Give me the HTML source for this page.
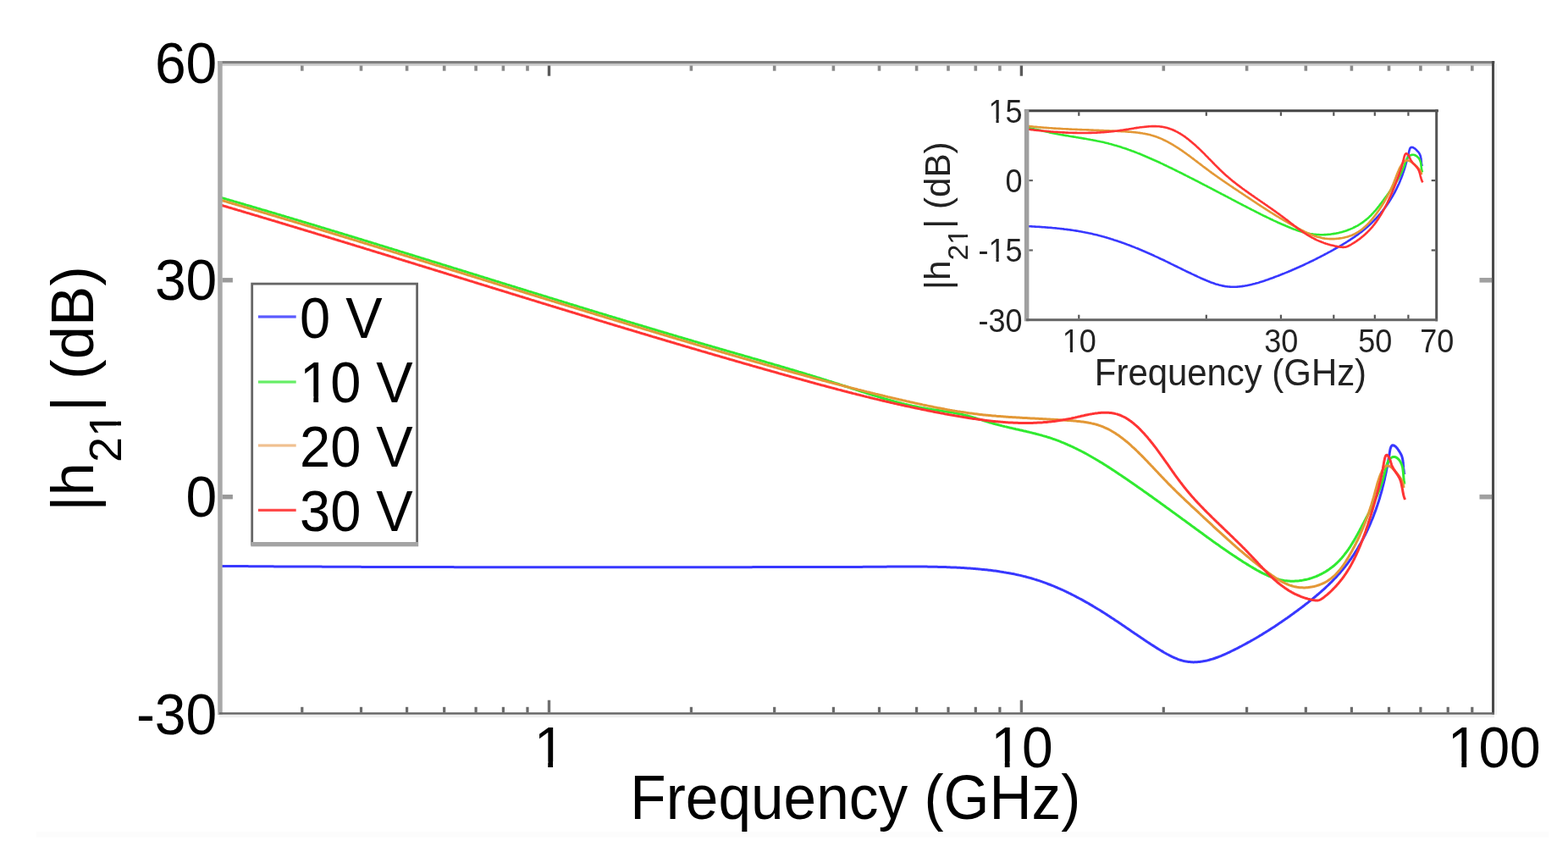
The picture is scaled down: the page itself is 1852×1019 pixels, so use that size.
<!DOCTYPE html>
<html><head><meta charset="utf-8"><title>h21 vs Frequency</title>
<style>html,body{margin:0;padding:0;background:#fff;overflow:hidden}svg{display:block}</style>
</head><body>
<svg width="1852" height="1019" viewBox="0 0 1852 1019"><rect x="0" y="0" width="1852" height="1019" fill="#fff"/>
<rect x="43" y="982" width="1786" height="6.5" fill="#fcfcfc"/>
<defs><clipPath id="cm"><rect x="260" y="75" width="1503.5" height="767.5"/></clipPath><clipPath id="ci"><rect x="1212.6" y="130.8" width="484.1" height="247"/></clipPath></defs>
<path d="M258.0 668.4 L259.5 668.4 L261.0 668.4 L262.5 668.4 L264.0 668.4 L265.5 668.5 L267.0 668.5 L268.5 668.5 L270.0 668.5 L271.5 668.5 L273.0 668.5 L274.5 668.5 L276.0 668.5 L277.5 668.5 L279.0 668.6 L280.5 668.6 L282.0 668.6 L283.5 668.6 L285.0 668.6 L286.5 668.6 L288.0 668.6 L289.5 668.6 L291.0 668.6 L292.5 668.6 L294.0 668.7 L295.5 668.7 L297.0 668.7 L298.5 668.7 L300.0 668.7 L301.5 668.7 L303.0 668.7 L304.5 668.7 L306.0 668.7 L307.5 668.7 L309.0 668.8 L310.5 668.8 L312.0 668.8 L313.5 668.8 L315.0 668.8 L316.5 668.8 L318.0 668.8 L319.5 668.8 L321.0 668.8 L322.5 668.8 L324.0 668.9 L325.5 668.9 L327.0 668.9 L328.5 668.9 L330.0 668.9 L331.5 668.9 L333.0 668.9 L334.5 668.9 L336.0 668.9 L337.5 668.9 L339.0 668.9 L340.5 668.9 L342.0 669.0 L343.5 669.0 L345.0 669.0 L346.5 669.0 L348.0 669.0 L349.5 669.0 L351.0 669.0 L352.5 669.0 L354.0 669.0 L355.5 669.0 L357.0 669.0 L358.5 669.0 L360.0 669.1 L361.5 669.1 L363.0 669.1 L364.5 669.1 L366.0 669.1 L367.5 669.1 L369.0 669.1 L370.5 669.1 L372.0 669.1 L373.5 669.1 L375.0 669.1 L376.5 669.1 L378.0 669.1 L379.5 669.1 L381.0 669.2 L382.5 669.2 L384.0 669.2 L385.5 669.2 L387.0 669.2 L388.5 669.2 L390.0 669.2 L391.5 669.2 L393.0 669.2 L394.5 669.2 L395.9 669.2 L397.4 669.2 L398.9 669.2 L400.4 669.2 L401.9 669.3 L403.4 669.3 L404.9 669.3 L406.4 669.3 L407.9 669.3 L409.4 669.3 L410.9 669.3 L412.4 669.3 L413.9 669.3 L415.4 669.3 L416.9 669.3 L418.4 669.3 L419.9 669.3 L421.4 669.3 L422.9 669.3 L424.4 669.3 L425.9 669.3 L427.4 669.4 L428.9 669.4 L430.4 669.4 L431.9 669.4 L433.4 669.4 L434.9 669.4 L436.4 669.4 L437.9 669.4 L439.4 669.4 L440.9 669.4 L442.4 669.4 L443.9 669.4 L445.4 669.4 L446.9 669.4 L448.4 669.4 L449.9 669.4 L451.4 669.4 L452.9 669.4 L454.4 669.4 L455.9 669.5 L457.4 669.5 L458.9 669.5 L460.4 669.5 L461.9 669.5 L463.4 669.5 L464.9 669.5 L466.4 669.5 L467.9 669.5 L469.4 669.5 L470.9 669.5 L472.4 669.5 L473.9 669.5 L475.4 669.5 L476.9 669.5 L478.4 669.5 L479.9 669.5 L481.4 669.5 L482.9 669.5 L484.4 669.5 L485.9 669.5 L487.4 669.5 L488.9 669.5 L490.4 669.6 L491.9 669.6 L493.4 669.6 L494.9 669.6 L496.4 669.6 L497.9 669.6 L499.4 669.6 L500.9 669.6 L502.4 669.6 L503.9 669.6 L505.4 669.6 L506.9 669.6 L508.4 669.6 L509.9 669.6 L511.4 669.6 L512.9 669.6 L514.4 669.6 L515.9 669.6 L517.4 669.6 L518.9 669.6 L520.4 669.6 L521.9 669.6 L523.4 669.6 L524.9 669.6 L526.4 669.6 L527.9 669.6 L529.4 669.6 L530.9 669.6 L532.4 669.6 L533.9 669.6 L535.4 669.6 L536.9 669.7 L538.4 669.7 L539.9 669.7 L541.4 669.7 L542.9 669.7 L544.4 669.7 L545.9 669.7 L547.4 669.7 L548.9 669.7 L550.4 669.7 L551.9 669.7 L553.4 669.7 L554.9 669.7 L556.4 669.7 L557.9 669.7 L559.4 669.7 L560.9 669.7 L562.4 669.7 L563.9 669.7 L565.4 669.7 L566.9 669.7 L568.4 669.7 L569.9 669.7 L571.4 669.7 L572.9 669.7 L574.4 669.7 L575.9 669.7 L577.4 669.7 L578.9 669.7 L580.4 669.7 L581.9 669.7 L583.4 669.7 L584.9 669.7 L586.4 669.7 L587.9 669.7 L589.4 669.7 L590.9 669.7 L592.4 669.7 L593.9 669.7 L595.4 669.7 L596.9 669.7 L598.4 669.7 L599.9 669.7 L601.4 669.7 L602.9 669.7 L604.4 669.7 L605.9 669.7 L607.4 669.7 L608.9 669.7 L610.4 669.7 L611.9 669.7 L613.4 669.7 L614.9 669.7 L616.4 669.7 L617.9 669.7 L619.4 669.7 L620.9 669.8 L622.4 669.8 L623.9 669.8 L625.4 669.8 L626.9 669.8 L628.4 669.8 L629.9 669.8 L631.4 669.8 L632.9 669.8 L634.4 669.8 L635.9 669.8 L637.4 669.8 L638.9 669.8 L640.4 669.8 L641.9 669.8 L643.4 669.8 L644.9 669.8 L646.4 669.8 L647.9 669.8 L649.4 669.8 L650.9 669.8 L652.4 669.8 L653.9 669.8 L655.4 669.8 L656.9 669.8 L658.4 669.8 L659.9 669.8 L661.4 669.8 L662.9 669.8 L664.4 669.8 L665.9 669.8 L667.4 669.8 L668.9 669.8 L670.4 669.8 L671.8 669.8 L673.3 669.8 L674.8 669.8 L676.3 669.8 L677.8 669.8 L679.3 669.8 L680.8 669.8 L682.3 669.8 L683.8 669.8 L685.3 669.8 L686.8 669.8 L688.3 669.8 L689.8 669.8 L691.3 669.8 L692.8 669.8 L694.3 669.8 L695.8 669.8 L697.3 669.8 L698.8 669.8 L700.3 669.8 L701.8 669.8 L703.3 669.8 L704.8 669.8 L706.3 669.8 L707.8 669.8 L709.3 669.8 L710.8 669.8 L712.3 669.8 L713.8 669.8 L715.3 669.8 L716.8 669.8 L718.3 669.8 L719.8 669.8 L721.3 669.8 L722.8 669.8 L724.3 669.8 L725.8 669.8 L727.3 669.8 L728.8 669.8 L730.3 669.8 L731.8 669.8 L733.3 669.8 L734.8 669.8 L736.3 669.8 L737.8 669.8 L739.3 669.8 L740.8 669.8 L742.3 669.8 L743.8 669.8 L745.3 669.8 L746.8 669.8 L748.3 669.8 L749.8 669.8 L751.3 669.8 L752.8 669.8 L754.3 669.8 L755.8 669.8 L757.3 669.7 L758.8 669.7 L760.3 669.7 L761.8 669.7 L763.3 669.7 L764.8 669.7 L766.3 669.7 L767.8 669.7 L769.3 669.7 L770.8 669.7 L772.3 669.7 L773.8 669.7 L775.3 669.7 L776.8 669.7 L778.3 669.7 L779.8 669.7 L781.3 669.7 L782.8 669.7 L784.3 669.7 L785.8 669.7 L787.3 669.7 L788.8 669.7 L790.3 669.7 L791.8 669.7 L793.3 669.7 L794.8 669.7 L796.3 669.7 L797.8 669.7 L799.3 669.7 L800.8 669.7 L802.3 669.7 L803.8 669.7 L805.3 669.7 L806.8 669.7 L808.3 669.7 L809.8 669.7 L811.3 669.7 L812.8 669.7 L814.3 669.7 L815.8 669.7 L817.3 669.7 L818.8 669.7 L820.3 669.7 L821.8 669.7 L823.3 669.7 L824.8 669.7 L826.3 669.7 L827.8 669.7 L829.3 669.7 L830.8 669.7 L832.3 669.7 L833.8 669.7 L835.3 669.7 L836.8 669.7 L838.3 669.7 L839.8 669.7 L841.3 669.7 L842.8 669.7 L844.3 669.7 L845.8 669.7 L847.3 669.7 L848.8 669.7 L850.3 669.7 L851.8 669.7 L853.3 669.7 L854.8 669.7 L856.3 669.7 L857.8 669.7 L859.3 669.7 L860.8 669.7 L862.3 669.7 L863.8 669.7 L865.3 669.7 L866.8 669.7 L868.3 669.7 L869.8 669.7 L871.3 669.7 L872.8 669.7 L874.3 669.7 L875.8 669.7 L877.3 669.7 L878.8 669.7 L880.3 669.7 L881.8 669.7 L883.3 669.7 L884.8 669.7 L886.3 669.7 L887.8 669.7 L889.3 669.6 L890.8 669.6 L892.3 669.6 L893.8 669.6 L895.3 669.6 L896.8 669.6 L898.3 669.6 L899.8 669.6 L901.3 669.6 L902.8 669.6 L904.3 669.6 L905.8 669.6 L907.3 669.6 L908.8 669.6 L910.3 669.6 L911.8 669.6 L913.3 669.6 L914.8 669.6 L916.3 669.6 L917.8 669.6 L919.3 669.6 L920.8 669.6 L922.3 669.6 L923.8 669.6 L925.3 669.6 L926.8 669.6 L928.3 669.6 L929.8 669.6 L931.3 669.6 L932.8 669.6 L934.3 669.6 L935.8 669.6 L937.3 669.6 L938.8 669.6 L940.3 669.6 L941.8 669.6 L943.3 669.6 L944.8 669.6 L946.3 669.6 L947.8 669.6 L949.3 669.6 L950.8 669.6 L952.3 669.6 L953.8 669.6 L955.3 669.6 L956.8 669.6 L958.3 669.6 L959.8 669.6 L961.3 669.6 L962.8 669.6 L964.3 669.6 L965.8 669.6 L967.3 669.5 L968.7 669.5 L970.2 669.5 L971.7 669.5 L973.2 669.5 L974.7 669.5 L976.2 669.5 L977.7 669.5 L979.2 669.5 L980.7 669.5 L982.2 669.5 L983.7 669.5 L985.2 669.5 L986.7 669.5 L988.2 669.5 L989.7 669.5 L991.2 669.5 L992.7 669.5 L994.2 669.5 L995.7 669.5 L997.2 669.5 L998.7 669.4 L1000.2 669.4 L1001.7 669.4 L1003.2 669.4 L1004.7 669.4 L1006.2 669.4 L1007.7 669.4 L1009.2 669.4 L1010.7 669.4 L1012.2 669.4 L1013.7 669.4 L1015.2 669.4 L1016.7 669.4 L1018.2 669.4 L1019.7 669.3 L1021.2 669.3 L1022.7 669.3 L1024.2 669.3 L1025.7 669.3 L1027.2 669.3 L1028.7 669.3 L1030.2 669.3 L1031.7 669.3 L1033.2 669.3 L1034.7 669.2 L1036.2 669.2 L1037.7 669.2 L1039.2 669.2 L1040.7 669.2 L1042.2 669.2 L1043.7 669.2 L1045.2 669.2 L1046.7 669.2 L1048.2 669.1 L1049.7 669.1 L1051.2 669.1 L1052.7 669.1 L1054.2 669.1 L1055.7 669.1 L1057.2 669.1 L1058.7 669.1 L1060.2 669.1 L1061.7 669.1 L1063.2 669.1 L1064.7 669.0 L1066.2 669.0 L1067.7 669.0 L1069.2 669.0 L1070.7 669.0 L1072.2 669.0 L1073.7 669.0 L1075.2 669.0 L1076.7 669.0 L1078.2 669.0 L1079.7 669.0 L1081.2 669.0 L1082.7 669.0 L1084.2 669.0 L1085.7 669.1 L1087.2 669.1 L1088.7 669.1 L1090.2 669.1 L1091.7 669.1 L1093.2 669.1 L1094.7 669.1 L1096.2 669.2 L1097.7 669.2 L1099.2 669.2 L1100.7 669.2 L1102.2 669.2 L1103.7 669.3 L1105.2 669.3 L1106.7 669.3 L1108.2 669.4 L1109.7 669.4 L1111.2 669.5 L1112.7 669.5 L1114.2 669.5 L1115.7 669.6 L1117.2 669.6 L1118.7 669.7 L1120.2 669.7 L1121.7 669.8 L1123.2 669.9 L1124.7 669.9 L1126.2 670.0 L1127.7 670.0 L1129.2 670.1 L1130.7 670.2 L1132.2 670.3 L1133.7 670.3 L1135.2 670.4 L1136.7 670.5 L1138.2 670.6 L1139.7 670.7 L1141.2 670.8 L1142.7 670.9 L1144.2 671.0 L1145.7 671.1 L1147.2 671.2 L1148.6 671.3 L1150.1 671.4 L1151.6 671.5 L1153.1 671.7 L1154.6 671.8 L1156.1 671.9 L1157.6 672.1 L1159.1 672.2 L1160.6 672.4 L1162.1 672.5 L1163.6 672.7 L1165.1 672.8 L1166.6 673.0 L1168.1 673.2 L1169.6 673.3 L1171.1 673.5 L1172.5 673.7 L1174.0 673.9 L1175.5 674.1 L1177.0 674.3 L1178.5 674.5 L1180.0 674.7 L1181.4 675.0 L1182.9 675.2 L1184.4 675.4 L1185.9 675.7 L1187.4 675.9 L1188.8 676.2 L1190.3 676.4 L1191.8 676.7 L1193.3 677.0 L1194.7 677.3 L1196.2 677.5 L1197.7 677.8 L1199.1 678.1 L1200.6 678.5 L1202.0 678.8 L1203.5 679.1 L1204.9 679.4 L1206.4 679.8 L1207.9 680.1 L1209.3 680.5 L1210.8 680.8 L1212.2 681.2 L1213.6 681.6 L1215.1 682.0 L1216.5 682.4 L1218.0 682.8 L1219.4 683.2 L1220.8 683.6 L1222.3 684.1 L1223.7 684.5 L1225.1 685.0 L1226.5 685.4 L1228.0 685.9 L1229.4 686.4 L1230.8 686.9 L1232.2 687.4 L1233.6 687.9 L1235.0 688.4 L1236.4 688.9 L1237.8 689.5 L1239.2 690.0 L1240.6 690.5 L1242.0 691.1 L1243.4 691.7 L1244.8 692.2 L1246.2 692.8 L1247.6 693.4 L1249.0 694.0 L1250.3 694.6 L1251.7 695.2 L1253.1 695.8 L1254.5 696.4 L1255.8 697.0 L1257.2 697.7 L1258.6 698.3 L1259.9 699.0 L1261.3 699.6 L1262.6 700.3 L1264.0 700.9 L1265.3 701.6 L1266.7 702.3 L1268.0 703.0 L1269.4 703.7 L1270.7 704.4 L1272.0 705.1 L1273.4 705.8 L1274.7 706.5 L1276.0 707.2 L1277.4 707.9 L1278.7 708.6 L1280.0 709.4 L1281.3 710.1 L1282.6 710.9 L1284.0 711.6 L1285.3 712.3 L1286.6 713.1 L1287.9 713.9 L1289.2 714.6 L1290.5 715.4 L1291.8 716.2 L1293.1 716.9 L1294.3 717.7 L1295.6 718.5 L1296.9 719.3 L1298.2 720.0 L1299.5 720.8 L1300.7 721.6 L1302.0 722.4 L1303.3 723.2 L1304.6 724.0 L1305.8 724.8 L1307.1 725.6 L1308.3 726.4 L1309.6 727.3 L1310.8 728.1 L1312.1 728.9 L1313.3 729.7 L1314.6 730.5 L1315.8 731.3 L1317.0 732.2 L1318.3 733.0 L1319.5 733.8 L1320.7 734.6 L1322.0 735.5 L1323.2 736.3 L1324.4 737.1 L1325.6 737.9 L1326.9 738.8 L1328.1 739.6 L1329.3 740.4 L1330.5 741.3 L1331.7 742.1 L1333.0 742.9 L1334.2 743.8 L1335.4 744.6 L1336.6 745.5 L1337.8 746.3 L1339.1 747.1 L1340.3 748.0 L1341.5 748.8 L1342.7 749.6 L1344.0 750.5 L1345.2 751.3 L1346.4 752.1 L1347.7 753.0 L1348.9 753.8 L1350.1 754.6 L1351.4 755.5 L1352.6 756.3 L1353.9 757.1 L1355.1 758.0 L1356.4 758.8 L1357.7 759.6 L1358.9 760.4 L1360.2 761.3 L1361.5 762.1 L1362.8 762.9 L1364.1 763.7 L1365.4 764.6 L1366.7 765.4 L1368.0 766.2 L1369.3 767.0 L1370.6 767.8 L1372.0 768.6 L1373.3 769.4 L1374.6 770.2 L1376.0 771.0 L1377.3 771.7 L1378.7 772.5 L1380.1 773.2 L1381.4 773.9 L1382.8 774.6 L1384.2 775.3 L1385.6 776.0 L1387.0 776.6 L1388.3 777.2 L1389.7 777.7 L1391.1 778.3 L1392.5 778.8 L1393.9 779.3 L1395.4 779.7 L1396.8 780.1 L1398.2 780.5 L1399.6 780.8 L1401.0 781.1 L1402.5 781.3 L1403.9 781.5 L1405.3 781.6 L1406.7 781.7 L1408.2 781.8 L1409.6 781.9 L1411.0 781.8 L1412.5 781.8 L1413.9 781.7 L1415.4 781.6 L1416.8 781.5 L1418.2 781.3 L1419.7 781.1 L1421.1 780.8 L1422.6 780.6 L1424.0 780.3 L1425.4 780.0 L1426.9 779.6 L1428.3 779.2 L1429.7 778.8 L1431.2 778.4 L1432.6 778.0 L1434.1 777.5 L1435.5 777.0 L1436.9 776.5 L1438.3 776.0 L1439.8 775.4 L1441.2 774.8 L1442.6 774.3 L1444.0 773.7 L1445.4 773.1 L1446.8 772.5 L1448.3 771.8 L1449.7 771.2 L1451.1 770.5 L1452.5 769.9 L1453.8 769.2 L1455.2 768.5 L1456.6 767.8 L1458.0 767.1 L1459.4 766.5 L1460.7 765.8 L1462.1 765.1 L1463.4 764.4 L1464.8 763.7 L1466.2 763.0 L1467.5 762.2 L1468.8 761.5 L1470.2 760.8 L1471.5 760.1 L1472.8 759.4 L1474.1 758.6 L1475.5 757.9 L1476.8 757.2 L1478.1 756.4 L1479.4 755.7 L1480.7 755.0 L1482.0 754.2 L1483.3 753.5 L1484.6 752.7 L1485.9 752.0 L1487.1 751.2 L1488.4 750.4 L1489.7 749.7 L1491.0 748.9 L1492.2 748.1 L1493.5 747.3 L1494.8 746.6 L1496.0 745.8 L1497.3 745.0 L1498.5 744.2 L1499.8 743.4 L1501.0 742.6 L1502.3 741.8 L1503.5 741.0 L1504.8 740.2 L1506.0 739.4 L1507.2 738.6 L1508.5 737.8 L1509.7 736.9 L1510.9 736.1 L1512.1 735.3 L1513.4 734.4 L1514.6 733.6 L1515.8 732.8 L1517.0 731.9 L1518.2 731.1 L1519.5 730.2 L1520.7 729.4 L1521.9 728.5 L1523.1 727.7 L1524.3 726.8 L1525.5 725.9 L1526.7 725.1 L1527.9 724.2 L1529.1 723.3 L1530.3 722.4 L1531.5 721.6 L1532.7 720.7 L1533.9 719.8 L1535.1 718.9 L1536.3 718.0 L1537.5 717.1 L1538.7 716.2 L1539.9 715.3 L1541.1 714.3 L1542.3 713.4 L1543.5 712.5 L1544.7 711.6 L1545.9 710.6 L1547.0 709.7 L1548.2 708.8 L1549.4 707.8 L1550.6 706.9 L1551.7 705.9 L1552.9 705.0 L1554.1 704.0 L1555.2 703.0 L1556.4 702.0 L1557.5 701.1 L1558.6 700.1 L1559.8 699.1 L1560.9 698.1 L1562.0 697.1 L1563.2 696.1 L1564.3 695.1 L1565.4 694.1 L1566.5 693.0 L1567.6 692.0 L1568.7 691.0 L1569.8 689.9 L1570.8 688.9 L1571.9 687.8 L1573.0 686.8 L1574.0 685.7 L1575.1 684.6 L1576.1 683.5 L1577.2 682.5 L1578.2 681.4 L1579.2 680.3 L1580.2 679.1 L1581.2 678.0 L1582.2 676.9 L1583.2 675.8 L1584.1 674.6 L1585.1 673.5 L1586.1 672.3 L1587.0 671.2 L1587.9 670.0 L1588.9 668.9 L1589.8 667.7 L1590.7 666.5 L1591.6 665.3 L1592.5 664.1 L1593.4 662.9 L1594.2 661.7 L1595.1 660.5 L1596.0 659.3 L1596.8 658.0 L1597.6 656.8 L1598.5 655.6 L1599.3 654.3 L1600.1 653.1 L1600.9 651.8 L1601.7 650.5 L1602.5 649.3 L1603.3 648.0 L1604.1 646.7 L1604.8 645.4 L1605.6 644.1 L1606.3 642.8 L1607.1 641.5 L1607.8 640.2 L1608.5 638.9 L1609.2 637.6 L1609.9 636.3 L1610.6 635.0 L1611.3 633.6 L1612.0 632.3 L1612.7 631.0 L1613.3 629.6 L1614.0 628.3 L1614.6 626.9 L1615.3 625.6 L1615.9 624.2 L1616.5 622.8 L1617.2 621.5 L1617.8 620.1 L1618.4 618.7 L1619.0 617.3 L1619.5 615.9 L1620.1 614.5 L1620.7 613.2 L1621.3 611.8 L1621.8 610.4 L1622.4 609.0 L1622.9 607.5 L1623.4 606.1 L1624.0 604.7 L1624.5 603.3 L1625.0 601.9 L1625.5 600.5 L1626.0 599.0 L1626.5 597.6 L1627.0 596.2 L1627.4 594.7 L1627.9 593.3 L1628.4 591.9 L1628.8 590.4 L1629.3 589.0 L1629.7 587.5 L1630.1 586.1 L1630.5 584.6 L1631.0 583.2 L1631.4 581.7 L1631.8 580.3 L1632.2 578.8 L1632.6 577.3 L1632.9 575.9 L1633.3 574.4 L1633.7 572.9 L1634.0 571.5 L1634.4 570.0 L1634.7 568.5 L1635.1 567.1 L1635.4 565.6 L1635.7 564.1 L1636.0 562.7 L1636.4 561.2 L1636.7 559.8 L1637.0 558.4 L1637.3 557.0 L1637.5 555.5 L1637.8 554.2 L1638.1 552.8 L1638.4 551.4 L1638.6 550.1 L1638.9 548.7 L1639.1 547.3 L1639.4 546.0 L1639.6 544.6 L1639.9 543.1 L1640.2 541.6 L1640.4 540.1 L1640.7 538.5 L1641.0 536.9 L1641.2 535.2 L1641.5 533.4 L1641.8 531.5 L1642.2 529.7 L1642.7 528.2 L1643.3 526.9 L1644.1 526.0 L1645.0 525.7 L1646.2 525.9 L1647.4 526.6 L1648.6 527.5 L1649.7 528.7 L1650.7 530.0 L1651.7 531.4 L1652.5 532.7 L1653.4 534.0 L1654.1 535.2 L1654.8 536.5 L1655.4 537.8 L1655.9 539.2 L1656.3 540.6 L1656.6 542.0 L1656.9 543.5 L1657.1 545.0 L1657.2 546.5 L1657.4 548.1 L1657.5 549.6 L1657.6 551.1 L1657.7 552.7 L1657.9 554.2 L1658.1 555.7 L1658.3 557.2 L1658.6 558.6 L1659.0 560.0" fill="none" stroke="#3838ff" stroke-width="3" stroke-linejoin="round" clip-path="url(#cm)"/>
<path d="M257.9 232.4 L259.4 232.9 L260.8 233.3 L262.2 233.7 L263.7 234.1 L265.1 234.5 L266.6 234.9 L268.0 235.4 L269.4 235.8 L270.9 236.2 L272.3 236.6 L273.8 237.0 L275.2 237.4 L276.6 237.9 L278.1 238.3 L279.5 238.7 L281.0 239.1 L282.4 239.5 L283.8 240.0 L285.3 240.4 L286.7 240.8 L288.2 241.2 L289.6 241.6 L291.0 242.1 L292.5 242.5 L293.9 242.9 L295.3 243.3 L296.8 243.7 L298.2 244.2 L299.7 244.6 L301.1 245.0 L302.5 245.4 L304.0 245.9 L305.4 246.3 L306.8 246.7 L308.3 247.1 L309.7 247.6 L311.2 248.0 L312.6 248.4 L314.0 248.8 L315.5 249.2 L316.9 249.7 L318.3 250.1 L319.8 250.5 L321.2 251.0 L322.7 251.4 L324.1 251.8 L325.5 252.2 L327.0 252.7 L328.4 253.1 L329.8 253.5 L331.3 253.9 L332.7 254.4 L334.1 254.8 L335.6 255.2 L337.0 255.6 L338.5 256.1 L339.9 256.5 L341.3 256.9 L342.8 257.4 L344.2 257.8 L345.6 258.2 L347.1 258.7 L348.5 259.1 L349.9 259.5 L351.4 259.9 L352.8 260.4 L354.3 260.8 L355.7 261.2 L357.1 261.7 L358.6 262.1 L360.0 262.5 L361.4 263.0 L362.9 263.4 L364.3 263.8 L365.7 264.3 L367.2 264.7 L368.6 265.1 L370.0 265.5 L371.5 266.0 L372.9 266.4 L374.3 266.8 L375.8 267.3 L377.2 267.7 L378.6 268.1 L380.1 268.6 L381.5 269.0 L382.9 269.4 L384.4 269.9 L385.8 270.3 L387.3 270.8 L388.7 271.2 L390.1 271.6 L391.6 272.1 L393.0 272.5 L394.4 272.9 L395.9 273.4 L397.3 273.8 L398.7 274.2 L400.2 274.7 L401.6 275.1 L403.0 275.5 L404.5 276.0 L405.9 276.4 L407.3 276.9 L408.8 277.3 L410.2 277.7 L411.6 278.2 L413.1 278.6 L414.5 279.0 L415.9 279.5 L417.4 279.9 L418.8 280.3 L420.2 280.8 L421.7 281.2 L423.1 281.7 L424.5 282.1 L426.0 282.5 L427.4 283.0 L428.8 283.4 L430.3 283.9 L431.7 284.3 L433.1 284.7 L434.6 285.2 L436.0 285.6 L437.4 286.0 L438.9 286.5 L440.3 286.9 L441.7 287.4 L443.2 287.8 L444.6 288.2 L446.0 288.7 L447.5 289.1 L448.9 289.6 L450.3 290.0 L451.8 290.4 L453.2 290.9 L454.6 291.3 L456.0 291.8 L457.5 292.2 L458.9 292.7 L460.3 293.1 L461.8 293.5 L463.2 294.0 L464.6 294.4 L466.1 294.9 L467.5 295.3 L468.9 295.7 L470.4 296.2 L471.8 296.6 L473.2 297.1 L474.7 297.5 L476.1 297.9 L477.5 298.4 L479.0 298.8 L480.4 299.3 L481.8 299.7 L483.3 300.2 L484.7 300.6 L486.1 301.0 L487.6 301.5 L489.0 301.9 L490.4 302.4 L491.9 302.8 L493.3 303.3 L494.7 303.7 L496.1 304.1 L497.6 304.6 L499.0 305.0 L500.4 305.5 L501.9 305.9 L503.3 306.4 L504.7 306.8 L506.2 307.2 L507.6 307.7 L509.0 308.1 L510.5 308.6 L511.9 309.0 L513.3 309.5 L514.8 309.9 L516.2 310.3 L517.6 310.8 L519.1 311.2 L520.5 311.7 L521.9 312.1 L523.3 312.6 L524.8 313.0 L526.2 313.4 L527.6 313.9 L529.1 314.3 L530.5 314.8 L531.9 315.2 L533.4 315.7 L534.8 316.1 L536.2 316.6 L537.7 317.0 L539.1 317.4 L540.5 317.9 L542.0 318.3 L543.4 318.8 L544.8 319.2 L546.3 319.7 L547.7 320.1 L549.1 320.5 L550.5 321.0 L552.0 321.4 L553.4 321.9 L554.8 322.3 L556.3 322.8 L557.7 323.2 L559.1 323.7 L560.6 324.1 L562.0 324.5 L563.4 325.0 L564.9 325.4 L566.3 325.9 L567.7 326.3 L569.2 326.8 L570.6 327.2 L572.0 327.7 L573.4 328.1 L574.9 328.5 L576.3 329.0 L577.7 329.4 L579.2 329.9 L580.6 330.3 L582.0 330.8 L583.5 331.2 L584.9 331.6 L586.3 332.1 L587.8 332.5 L589.2 333.0 L590.6 333.4 L592.1 333.9 L593.5 334.3 L594.9 334.8 L596.4 335.2 L597.8 335.6 L599.2 336.1 L600.6 336.5 L602.1 337.0 L603.5 337.4 L604.9 337.9 L606.4 338.3 L607.8 338.7 L609.2 339.2 L610.7 339.6 L612.1 340.1 L613.5 340.5 L615.0 341.0 L616.4 341.4 L617.8 341.8 L619.3 342.3 L620.7 342.7 L622.1 343.2 L623.6 343.6 L625.0 344.1 L626.4 344.5 L627.9 344.9 L629.3 345.4 L630.7 345.8 L632.1 346.3 L633.6 346.7 L635.0 347.1 L636.4 347.6 L637.9 348.0 L639.3 348.5 L640.7 348.9 L642.2 349.4 L643.6 349.8 L645.0 350.2 L646.5 350.7 L647.9 351.1 L649.3 351.6 L650.8 352.0 L652.2 352.4 L653.6 352.9 L655.1 353.3 L656.5 353.8 L657.9 354.2 L659.4 354.7 L660.8 355.1 L662.2 355.5 L663.7 356.0 L665.1 356.4 L666.5 356.9 L668.0 357.3 L669.4 357.7 L670.8 358.2 L672.3 358.6 L673.7 359.1 L675.1 359.5 L676.6 359.9 L678.0 360.4 L679.4 360.8 L680.8 361.2 L682.3 361.7 L683.7 362.1 L685.1 362.6 L686.6 363.0 L688.0 363.4 L689.4 363.9 L690.9 364.3 L692.3 364.8 L693.7 365.2 L695.2 365.6 L696.6 366.1 L698.0 366.5 L699.5 366.9 L700.9 367.4 L702.3 367.8 L703.8 368.3 L705.2 368.7 L706.6 369.1 L708.1 369.6 L709.5 370.0 L710.9 370.4 L712.4 370.9 L713.8 371.3 L715.2 371.7 L716.7 372.2 L718.1 372.6 L719.6 373.1 L721.0 373.5 L722.4 373.9 L723.9 374.4 L725.3 374.8 L726.7 375.2 L728.2 375.7 L729.6 376.1 L731.0 376.5 L732.5 377.0 L733.9 377.4 L735.3 377.8 L736.8 378.3 L738.2 378.7 L739.6 379.1 L741.1 379.6 L742.5 380.0 L743.9 380.4 L745.4 380.9 L746.8 381.3 L748.2 381.7 L749.7 382.2 L751.1 382.6 L752.5 383.0 L754.0 383.5 L755.4 383.9 L756.9 384.3 L758.3 384.7 L759.7 385.2 L761.2 385.6 L762.6 386.0 L764.0 386.5 L765.5 386.9 L766.9 387.3 L768.3 387.8 L769.8 388.2 L771.2 388.6 L772.6 389.0 L774.1 389.5 L775.5 389.9 L776.9 390.3 L778.4 390.8 L779.8 391.2 L781.3 391.6 L782.7 392.0 L784.1 392.5 L785.6 392.9 L787.0 393.3 L788.4 393.7 L789.9 394.2 L791.3 394.6 L792.7 395.0 L794.2 395.4 L795.6 395.9 L797.1 396.3 L798.5 396.7 L799.9 397.1 L801.4 397.6 L802.8 398.0 L804.2 398.4 L805.7 398.8 L807.1 399.3 L808.6 399.7 L810.0 400.1 L811.4 400.5 L812.9 401.0 L814.3 401.4 L815.7 401.8 L817.2 402.2 L818.6 402.6 L820.1 403.1 L821.5 403.5 L822.9 403.9 L824.4 404.3 L825.8 404.8 L827.3 405.2 L828.7 405.6 L830.1 406.0 L831.6 406.4 L833.0 406.9 L834.4 407.3 L835.9 407.7 L837.3 408.1 L838.8 408.5 L840.2 408.9 L841.6 409.4 L843.1 409.8 L844.5 410.2 L846.0 410.6 L847.4 411.0 L848.8 411.4 L850.3 411.9 L851.7 412.3 L853.2 412.7 L854.6 413.1 L856.0 413.5 L857.5 413.9 L858.9 414.4 L860.4 414.8 L861.8 415.2 L863.2 415.6 L864.7 416.0 L866.1 416.4 L867.6 416.8 L869.0 417.3 L870.4 417.7 L871.9 418.1 L873.3 418.5 L874.8 418.9 L876.2 419.3 L877.6 419.7 L879.1 420.2 L880.5 420.6 L882.0 421.0 L883.4 421.4 L884.8 421.8 L886.3 422.2 L887.7 422.6 L889.2 423.1 L890.6 423.5 L892.0 423.9 L893.5 424.3 L894.9 424.7 L896.4 425.1 L897.8 425.5 L899.2 426.0 L900.7 426.4 L902.1 426.8 L903.6 427.2 L905.0 427.6 L906.4 428.1 L907.9 428.5 L909.3 428.9 L910.7 429.3 L912.2 429.7 L913.6 430.1 L915.1 430.6 L916.5 431.0 L917.9 431.4 L919.4 431.8 L920.8 432.2 L922.3 432.7 L923.7 433.1 L925.1 433.5 L926.6 433.9 L928.0 434.4 L929.4 434.8 L930.9 435.2 L932.3 435.6 L933.7 436.1 L935.2 436.5 L936.6 436.9 L938.1 437.3 L939.5 437.8 L940.9 438.2 L942.4 438.6 L943.8 439.1 L945.2 439.5 L946.7 439.9 L948.1 440.3 L949.5 440.8 L951.0 441.2 L952.4 441.6 L953.8 442.1 L955.3 442.5 L956.7 443.0 L958.1 443.4 L959.6 443.8 L961.0 444.3 L962.4 444.7 L963.9 445.1 L965.3 445.6 L966.7 446.0 L968.2 446.5 L969.6 446.9 L971.0 447.4 L972.5 447.8 L973.9 448.3 L975.3 448.7 L976.7 449.2 L978.2 449.6 L979.6 450.1 L981.0 450.5 L982.5 451.0 L983.9 451.4 L985.3 451.9 L986.7 452.3 L988.2 452.8 L989.6 453.2 L991.0 453.7 L992.4 454.2 L993.9 454.6 L995.3 455.1 L996.7 455.5 L998.1 456.0 L999.6 456.5 L1001.0 456.9 L1002.4 457.4 L1003.8 457.9 L1005.3 458.3 L1006.7 458.8 L1008.1 459.2 L1009.5 459.7 L1011.0 460.2 L1012.4 460.6 L1013.8 461.1 L1015.2 461.6 L1016.7 462.0 L1018.1 462.5 L1019.5 462.9 L1020.9 463.4 L1022.4 463.8 L1023.8 464.3 L1025.2 464.8 L1026.7 465.2 L1028.1 465.7 L1029.5 466.1 L1030.9 466.6 L1032.4 467.0 L1033.8 467.4 L1035.2 467.9 L1036.7 468.3 L1038.1 468.7 L1039.5 469.2 L1041.0 469.6 L1042.4 470.0 L1043.8 470.5 L1045.3 470.9 L1046.7 471.3 L1048.2 471.7 L1049.6 472.1 L1051.0 472.5 L1052.5 472.9 L1053.9 473.3 L1055.4 473.7 L1056.8 474.1 L1058.3 474.5 L1059.7 474.9 L1061.1 475.3 L1062.6 475.6 L1064.0 476.0 L1065.5 476.4 L1067.0 476.7 L1068.4 477.1 L1069.9 477.4 L1071.3 477.8 L1072.8 478.1 L1074.2 478.5 L1075.7 478.8 L1077.2 479.1 L1078.6 479.4 L1080.1 479.7 L1081.6 480.0 L1083.0 480.3 L1084.5 480.6 L1086.0 480.9 L1087.5 481.2 L1088.9 481.5 L1090.4 481.7 L1091.9 482.0 L1093.4 482.3 L1094.9 482.5 L1096.4 482.8 L1097.8 483.0 L1099.3 483.2 L1100.8 483.5 L1102.3 483.7 L1103.8 483.9 L1105.3 484.1 L1106.8 484.4 L1108.3 484.6 L1109.8 484.8 L1111.3 485.0 L1112.8 485.2 L1114.2 485.5 L1115.7 485.7 L1117.2 485.9 L1118.7 486.2 L1120.2 486.4 L1121.7 486.6 L1123.2 486.9 L1124.6 487.1 L1126.1 487.4 L1127.6 487.7 L1129.1 487.9 L1130.5 488.2 L1132.0 488.5 L1133.5 488.8 L1134.9 489.1 L1136.4 489.4 L1137.8 489.8 L1139.3 490.1 L1140.7 490.5 L1142.2 490.8 L1143.6 491.2 L1145.1 491.6 L1146.5 492.0 L1147.9 492.4 L1149.4 492.8 L1150.8 493.3 L1152.2 493.7 L1153.6 494.1 L1155.0 494.6 L1156.5 495.0 L1157.9 495.4 L1159.3 495.9 L1160.7 496.3 L1162.2 496.8 L1163.6 497.2 L1165.0 497.7 L1166.4 498.1 L1167.9 498.5 L1169.3 499.0 L1170.7 499.4 L1172.2 499.8 L1173.6 500.2 L1175.0 500.6 L1176.5 501.0 L1177.9 501.4 L1179.4 501.8 L1180.9 502.1 L1182.3 502.5 L1183.8 502.9 L1185.2 503.2 L1186.7 503.6 L1188.2 503.9 L1189.6 504.3 L1191.1 504.6 L1192.6 505.0 L1194.0 505.3 L1195.5 505.6 L1197.0 506.0 L1198.5 506.3 L1199.9 506.7 L1201.4 507.0 L1202.9 507.3 L1204.4 507.7 L1205.8 508.0 L1207.3 508.3 L1208.8 508.7 L1210.2 509.0 L1211.7 509.3 L1213.2 509.7 L1214.7 510.0 L1216.1 510.4 L1217.6 510.7 L1219.1 511.1 L1220.5 511.5 L1222.0 511.8 L1223.4 512.2 L1224.9 512.6 L1226.4 513.0 L1227.8 513.4 L1229.3 513.7 L1230.7 514.1 L1232.1 514.6 L1233.6 515.0 L1235.0 515.4 L1236.4 515.8 L1237.9 516.3 L1239.3 516.7 L1240.7 517.2 L1242.1 517.7 L1243.5 518.2 L1245.0 518.6 L1246.4 519.1 L1247.8 519.7 L1249.2 520.2 L1250.5 520.7 L1251.9 521.2 L1253.3 521.8 L1254.7 522.4 L1256.1 522.9 L1257.4 523.5 L1258.8 524.1 L1260.2 524.7 L1261.5 525.3 L1262.9 525.9 L1264.3 526.5 L1265.6 527.1 L1267.0 527.7 L1268.3 528.4 L1269.6 529.0 L1271.0 529.7 L1272.3 530.3 L1273.6 531.0 L1275.0 531.7 L1276.3 532.3 L1277.6 533.0 L1278.9 533.7 L1280.3 534.4 L1281.6 535.1 L1282.9 535.8 L1284.2 536.5 L1285.5 537.3 L1286.8 538.0 L1288.1 538.7 L1289.4 539.5 L1290.7 540.2 L1292.0 541.0 L1293.3 541.7 L1294.6 542.5 L1295.9 543.2 L1297.1 544.0 L1298.4 544.8 L1299.7 545.6 L1301.0 546.3 L1302.3 547.1 L1303.5 547.9 L1304.8 548.7 L1306.1 549.5 L1307.3 550.3 L1308.6 551.1 L1309.9 551.9 L1311.1 552.7 L1312.4 553.6 L1313.6 554.4 L1314.9 555.2 L1316.2 556.0 L1317.4 556.9 L1318.7 557.7 L1319.9 558.5 L1321.2 559.4 L1322.4 560.2 L1323.7 561.0 L1324.9 561.9 L1326.2 562.7 L1327.4 563.6 L1328.7 564.4 L1329.9 565.3 L1331.1 566.1 L1332.4 567.0 L1333.6 567.8 L1334.9 568.7 L1336.1 569.5 L1337.3 570.4 L1338.6 571.2 L1339.8 572.1 L1341.0 572.9 L1342.3 573.8 L1343.5 574.7 L1344.7 575.5 L1346.0 576.4 L1347.2 577.3 L1348.4 578.1 L1349.7 579.0 L1350.9 579.9 L1352.1 580.7 L1353.3 581.6 L1354.6 582.5 L1355.8 583.3 L1357.0 584.2 L1358.2 585.1 L1359.5 585.9 L1360.7 586.8 L1361.9 587.7 L1363.1 588.6 L1364.3 589.4 L1365.6 590.3 L1366.8 591.2 L1368.0 592.1 L1369.2 592.9 L1370.4 593.8 L1371.6 594.7 L1372.9 595.6 L1374.1 596.5 L1375.3 597.3 L1376.5 598.2 L1377.7 599.1 L1378.9 600.0 L1380.1 600.8 L1381.4 601.7 L1382.6 602.6 L1383.8 603.5 L1385.0 604.4 L1386.2 605.2 L1387.4 606.1 L1388.6 607.0 L1389.8 607.9 L1391.0 608.8 L1392.2 609.6 L1393.4 610.5 L1394.6 611.4 L1395.8 612.3 L1397.0 613.2 L1398.3 614.0 L1399.5 614.9 L1400.7 615.8 L1401.9 616.7 L1403.1 617.6 L1404.3 618.4 L1405.5 619.3 L1406.7 620.2 L1407.9 621.1 L1409.1 622.0 L1410.3 622.8 L1411.5 623.7 L1412.7 624.6 L1413.9 625.5 L1415.1 626.3 L1416.3 627.2 L1417.5 628.1 L1418.7 628.9 L1419.9 629.8 L1421.1 630.7 L1422.2 631.6 L1423.4 632.4 L1424.6 633.3 L1425.8 634.2 L1427.0 635.0 L1428.2 635.9 L1429.4 636.8 L1430.6 637.6 L1431.8 638.5 L1433.0 639.4 L1434.2 640.2 L1435.4 641.1 L1436.6 641.9 L1437.9 642.8 L1439.1 643.6 L1440.3 644.5 L1441.5 645.4 L1442.7 646.2 L1443.9 647.1 L1445.1 647.9 L1446.4 648.7 L1447.6 649.6 L1448.8 650.4 L1450.0 651.3 L1451.3 652.1 L1452.5 653.0 L1453.7 653.8 L1455.0 654.6 L1456.2 655.5 L1457.5 656.3 L1458.7 657.1 L1460.0 657.9 L1461.2 658.8 L1462.5 659.6 L1463.7 660.4 L1465.0 661.2 L1466.3 662.0 L1467.6 662.9 L1468.8 663.7 L1470.1 664.5 L1471.4 665.3 L1472.7 666.1 L1474.0 666.9 L1475.3 667.7 L1476.6 668.5 L1477.9 669.3 L1479.3 670.1 L1480.6 670.9 L1481.9 671.6 L1483.2 672.4 L1484.6 673.2 L1485.9 673.9 L1487.3 674.6 L1488.6 675.4 L1490.0 676.1 L1491.4 676.8 L1492.7 677.4 L1494.1 678.1 L1495.5 678.7 L1496.9 679.4 L1498.3 680.0 L1499.7 680.5 L1501.1 681.1 L1502.5 681.6 L1503.9 682.1 L1505.3 682.6 L1506.7 683.1 L1508.1 683.5 L1509.6 683.9 L1511.0 684.3 L1512.4 684.6 L1513.9 684.9 L1515.3 685.2 L1516.8 685.5 L1518.2 685.7 L1519.7 685.8 L1521.2 686.0 L1522.6 686.1 L1524.1 686.2 L1525.6 686.2 L1527.1 686.2 L1528.5 686.2 L1530.0 686.1 L1531.5 686.0 L1532.9 685.9 L1534.4 685.8 L1535.9 685.6 L1537.4 685.4 L1538.8 685.1 L1540.3 684.8 L1541.7 684.5 L1543.2 684.2 L1544.6 683.9 L1546.1 683.5 L1547.5 683.0 L1548.9 682.6 L1550.3 682.1 L1551.7 681.6 L1553.1 681.1 L1554.5 680.6 L1555.9 680.0 L1557.3 679.4 L1558.6 678.7 L1560.0 678.1 L1561.3 677.4 L1562.6 676.7 L1564.0 675.9 L1565.3 675.2 L1566.5 674.4 L1567.8 673.6 L1569.1 672.8 L1570.3 671.9 L1571.5 671.0 L1572.7 670.1 L1573.9 669.2 L1575.1 668.3 L1576.2 667.3 L1577.3 666.3 L1578.4 665.3 L1579.5 664.3 L1580.6 663.2 L1581.6 662.2 L1582.7 661.1 L1583.7 660.0 L1584.7 658.9 L1585.7 657.7 L1586.6 656.6 L1587.6 655.4 L1588.5 654.2 L1589.4 653.0 L1590.3 651.8 L1591.2 650.6 L1592.1 649.3 L1593.0 648.1 L1593.8 646.8 L1594.7 645.6 L1595.5 644.3 L1596.3 643.0 L1597.1 641.7 L1597.9 640.4 L1598.7 639.1 L1599.5 637.8 L1600.2 636.5 L1601.0 635.2 L1601.7 633.8 L1602.5 632.5 L1603.2 631.2 L1604.0 629.8 L1604.7 628.5 L1605.4 627.2 L1606.1 625.8 L1606.8 624.5 L1607.5 623.2 L1608.2 621.8 L1608.9 620.5 L1609.6 619.2 L1610.3 617.9 L1611.0 616.6 L1611.7 615.3 L1612.4 614.0 L1613.1 612.6 L1613.8 611.3 L1614.5 610.0 L1615.2 608.7 L1615.8 607.5 L1616.5 606.2 L1617.2 604.9 L1617.8 603.6 L1618.5 602.3 L1619.1 601.0 L1619.8 599.7 L1620.4 598.4 L1621.1 597.1 L1621.7 595.7 L1622.3 594.4 L1622.9 593.1 L1623.5 591.8 L1624.2 590.5 L1624.8 589.1 L1625.3 587.8 L1625.9 586.5 L1626.5 585.1 L1627.1 583.7 L1627.6 582.4 L1628.2 581.0 L1628.7 579.6 L1629.3 578.2 L1629.8 576.8 L1630.3 575.4 L1630.8 574.0 L1631.3 572.6 L1631.8 571.1 L1632.3 569.7 L1632.8 568.2 L1633.2 566.7 L1633.7 565.2 L1634.1 563.7 L1634.5 562.2 L1634.9 560.6 L1635.3 559.1 L1635.7 557.5 L1636.1 555.9 L1636.5 554.3 L1636.9 552.7 L1637.3 551.2 L1637.7 549.6 L1638.2 548.1 L1638.7 546.7 L1639.3 545.3 L1640.0 544.1 L1640.8 542.9 L1641.7 541.8 L1642.7 540.9 L1643.8 540.1 L1645.0 539.6 L1646.2 539.4 L1647.4 539.5 L1648.7 539.9 L1649.9 540.6 L1651.0 541.5 L1652.1 542.6 L1653.1 543.8 L1654.0 545.2 L1654.7 546.6 L1655.3 548.0 L1655.9 549.5 L1656.3 550.9 L1656.7 552.4 L1656.9 553.9 L1657.1 555.4 L1657.3 557.0 L1657.5 558.5 L1657.6 560.0 L1657.7 561.5 L1657.8 563.0 L1657.9 564.5 L1658.0 566.0 L1658.2 567.5 L1658.4 568.9 L1658.7 570.3 L1659.1 571.7" fill="none" stroke="#30ea30" stroke-width="3" stroke-linejoin="round" clip-path="url(#cm)"/>
<path d="M258.0 235.4 L259.4 235.8 L260.9 236.2 L262.3 236.7 L263.7 237.1 L265.2 237.5 L266.6 237.9 L268.0 238.3 L269.5 238.8 L270.9 239.2 L272.4 239.6 L273.8 240.0 L275.2 240.5 L276.7 240.9 L278.1 241.3 L279.6 241.7 L281.0 242.1 L282.4 242.6 L283.9 243.0 L285.3 243.4 L286.7 243.8 L288.2 244.3 L289.6 244.7 L291.1 245.1 L292.5 245.5 L293.9 246.0 L295.4 246.4 L296.8 246.8 L298.2 247.2 L299.7 247.7 L301.1 248.1 L302.6 248.5 L304.0 248.9 L305.4 249.4 L306.9 249.8 L308.3 250.2 L309.7 250.6 L311.2 251.1 L312.6 251.5 L314.1 251.9 L315.5 252.3 L316.9 252.8 L318.4 253.2 L319.8 253.6 L321.2 254.1 L322.7 254.5 L324.1 254.9 L325.6 255.3 L327.0 255.8 L328.4 256.2 L329.9 256.6 L331.3 257.1 L332.7 257.5 L334.2 257.9 L335.6 258.3 L337.0 258.8 L338.5 259.2 L339.9 259.6 L341.3 260.1 L342.8 260.5 L344.2 260.9 L345.7 261.4 L347.1 261.8 L348.5 262.2 L350.0 262.6 L351.4 263.1 L352.8 263.5 L354.3 263.9 L355.7 264.4 L357.1 264.8 L358.6 265.2 L360.0 265.7 L361.4 266.1 L362.9 266.5 L364.3 267.0 L365.8 267.4 L367.2 267.8 L368.6 268.3 L370.1 268.7 L371.5 269.1 L372.9 269.6 L374.4 270.0 L375.8 270.4 L377.2 270.9 L378.7 271.3 L380.1 271.7 L381.5 272.2 L383.0 272.6 L384.4 273.0 L385.8 273.5 L387.3 273.9 L388.7 274.3 L390.1 274.8 L391.6 275.2 L393.0 275.7 L394.4 276.1 L395.9 276.5 L397.3 277.0 L398.8 277.4 L400.2 277.8 L401.6 278.3 L403.1 278.7 L404.5 279.1 L405.9 279.6 L407.4 280.0 L408.8 280.5 L410.2 280.9 L411.7 281.3 L413.1 281.8 L414.5 282.2 L416.0 282.6 L417.4 283.1 L418.8 283.5 L420.3 283.9 L421.7 284.4 L423.1 284.8 L424.6 285.3 L426.0 285.7 L427.4 286.1 L428.9 286.6 L430.3 287.0 L431.7 287.5 L433.2 287.9 L434.6 288.3 L436.0 288.8 L437.5 289.2 L438.9 289.6 L440.3 290.1 L441.8 290.5 L443.2 291.0 L444.6 291.4 L446.1 291.8 L447.5 292.3 L448.9 292.7 L450.4 293.2 L451.8 293.6 L453.2 294.0 L454.7 294.5 L456.1 294.9 L457.5 295.4 L459.0 295.8 L460.4 296.2 L461.8 296.7 L463.3 297.1 L464.7 297.6 L466.1 298.0 L467.6 298.4 L469.0 298.9 L470.4 299.3 L471.9 299.8 L473.3 300.2 L474.7 300.6 L476.2 301.1 L477.6 301.5 L479.0 302.0 L480.5 302.4 L481.9 302.9 L483.3 303.3 L484.8 303.7 L486.2 304.2 L487.6 304.6 L489.1 305.1 L490.5 305.5 L491.9 305.9 L493.4 306.4 L494.8 306.8 L496.2 307.3 L497.7 307.7 L499.1 308.1 L500.5 308.6 L502.0 309.0 L503.4 309.5 L504.8 309.9 L506.3 310.4 L507.7 310.8 L509.1 311.2 L510.5 311.7 L512.0 312.1 L513.4 312.6 L514.8 313.0 L516.3 313.5 L517.7 313.9 L519.1 314.3 L520.6 314.8 L522.0 315.2 L523.4 315.7 L524.9 316.1 L526.3 316.5 L527.7 317.0 L529.2 317.4 L530.6 317.9 L532.0 318.3 L533.5 318.8 L534.9 319.2 L536.3 319.6 L537.8 320.1 L539.2 320.5 L540.6 321.0 L542.1 321.4 L543.5 321.9 L544.9 322.3 L546.4 322.7 L547.8 323.2 L549.2 323.6 L550.7 324.1 L552.1 324.5 L553.5 325.0 L555.0 325.4 L556.4 325.8 L557.8 326.3 L559.3 326.7 L560.7 327.2 L562.1 327.6 L563.5 328.1 L565.0 328.5 L566.4 328.9 L567.8 329.4 L569.3 329.8 L570.7 330.3 L572.1 330.7 L573.6 331.2 L575.0 331.6 L576.4 332.0 L577.9 332.5 L579.3 332.9 L580.7 333.4 L582.2 333.8 L583.6 334.3 L585.0 334.7 L586.5 335.1 L587.9 335.6 L589.3 336.0 L590.8 336.5 L592.2 336.9 L593.6 337.4 L595.1 337.8 L596.5 338.2 L597.9 338.7 L599.4 339.1 L600.8 339.6 L602.2 340.0 L603.7 340.4 L605.1 340.9 L606.5 341.3 L608.0 341.8 L609.4 342.2 L610.8 342.7 L612.3 343.1 L613.7 343.5 L615.1 344.0 L616.6 344.4 L618.0 344.9 L619.4 345.3 L620.8 345.8 L622.3 346.2 L623.7 346.6 L625.1 347.1 L626.6 347.5 L628.0 348.0 L629.4 348.4 L630.9 348.8 L632.3 349.3 L633.7 349.7 L635.2 350.2 L636.6 350.6 L638.0 351.0 L639.5 351.5 L640.9 351.9 L642.3 352.4 L643.8 352.8 L645.2 353.3 L646.6 353.7 L648.1 354.1 L649.5 354.6 L650.9 355.0 L652.4 355.5 L653.8 355.9 L655.2 356.3 L656.7 356.8 L658.1 357.2 L659.5 357.7 L661.0 358.1 L662.4 358.5 L663.8 359.0 L665.3 359.4 L666.7 359.9 L668.1 360.3 L669.6 360.7 L671.0 361.2 L672.4 361.6 L673.9 362.1 L675.3 362.5 L676.7 362.9 L678.2 363.4 L679.6 363.8 L681.0 364.2 L682.5 364.7 L683.9 365.1 L685.3 365.6 L686.8 366.0 L688.2 366.4 L689.6 366.9 L691.1 367.3 L692.5 367.8 L693.9 368.2 L695.4 368.6 L696.8 369.1 L698.2 369.5 L699.7 369.9 L701.1 370.4 L702.5 370.8 L704.0 371.3 L705.4 371.7 L706.8 372.1 L708.3 372.6 L709.7 373.0 L711.1 373.4 L712.6 373.9 L714.0 374.3 L715.4 374.8 L716.9 375.2 L718.3 375.6 L719.7 376.1 L721.2 376.5 L722.6 376.9 L724.1 377.4 L725.5 377.8 L726.9 378.2 L728.4 378.7 L729.8 379.1 L731.2 379.5 L732.7 380.0 L734.1 380.4 L735.5 380.9 L737.0 381.3 L738.4 381.7 L739.8 382.2 L741.3 382.6 L742.7 383.0 L744.1 383.5 L745.6 383.9 L747.0 384.3 L748.4 384.8 L749.9 385.2 L751.3 385.6 L752.7 386.1 L754.2 386.5 L755.6 386.9 L757.1 387.4 L758.5 387.8 L759.9 388.2 L761.4 388.7 L762.8 389.1 L764.2 389.5 L765.7 389.9 L767.1 390.4 L768.5 390.8 L770.0 391.2 L771.4 391.7 L772.8 392.1 L774.3 392.5 L775.7 393.0 L777.2 393.4 L778.6 393.8 L780.0 394.3 L781.5 394.7 L782.9 395.1 L784.3 395.5 L785.8 396.0 L787.2 396.4 L788.6 396.8 L790.1 397.3 L791.5 397.7 L792.9 398.1 L794.4 398.5 L795.8 399.0 L797.3 399.4 L798.7 399.8 L800.1 400.3 L801.6 400.7 L803.0 401.1 L804.4 401.5 L805.9 402.0 L807.3 402.4 L808.8 402.8 L810.2 403.2 L811.6 403.7 L813.1 404.1 L814.5 404.5 L815.9 405.0 L817.4 405.4 L818.8 405.8 L820.2 406.2 L821.7 406.7 L823.1 407.1 L824.6 407.5 L826.0 407.9 L827.4 408.4 L828.9 408.8 L830.3 409.2 L831.8 409.6 L833.2 410.0 L834.6 410.5 L836.1 410.9 L837.5 411.3 L838.9 411.7 L840.4 412.2 L841.8 412.6 L843.3 413.0 L844.7 413.4 L846.1 413.8 L847.6 414.3 L849.0 414.7 L850.4 415.1 L851.9 415.5 L853.3 416.0 L854.8 416.4 L856.2 416.8 L857.6 417.2 L859.1 417.6 L860.5 418.0 L862.0 418.5 L863.4 418.9 L864.8 419.3 L866.3 419.7 L867.7 420.1 L869.2 420.6 L870.6 421.0 L872.0 421.4 L873.5 421.8 L874.9 422.2 L876.4 422.6 L877.8 423.1 L879.2 423.5 L880.7 423.9 L882.1 424.3 L883.6 424.7 L885.0 425.1 L886.4 425.5 L887.9 426.0 L889.3 426.4 L890.8 426.8 L892.2 427.2 L893.6 427.6 L895.1 428.0 L896.5 428.4 L898.0 428.8 L899.4 429.2 L900.9 429.7 L902.3 430.1 L903.7 430.5 L905.2 430.9 L906.6 431.3 L908.1 431.7 L909.5 432.1 L910.9 432.5 L912.4 432.9 L913.8 433.3 L915.3 433.7 L916.7 434.1 L918.2 434.5 L919.6 435.0 L921.0 435.4 L922.5 435.8 L923.9 436.2 L925.4 436.6 L926.8 437.0 L928.3 437.4 L929.7 437.8 L931.2 438.2 L932.6 438.6 L934.0 439.0 L935.5 439.4 L936.9 439.8 L938.4 440.2 L939.8 440.6 L941.3 441.0 L942.7 441.4 L944.2 441.8 L945.6 442.1 L947.1 442.5 L948.5 442.9 L949.9 443.3 L951.4 443.7 L952.8 444.1 L954.3 444.5 L955.7 444.9 L957.2 445.3 L958.6 445.7 L960.1 446.1 L961.5 446.5 L963.0 446.9 L964.4 447.2 L965.9 447.6 L967.3 448.0 L968.8 448.4 L970.2 448.8 L971.7 449.2 L973.1 449.6 L974.6 449.9 L976.0 450.3 L977.5 450.7 L978.9 451.1 L980.4 451.5 L981.8 451.9 L983.3 452.2 L984.7 452.6 L986.2 453.0 L987.6 453.4 L989.1 453.7 L990.5 454.1 L992.0 454.5 L993.4 454.9 L994.9 455.2 L996.3 455.6 L997.8 456.0 L999.2 456.4 L1000.7 456.7 L1002.1 457.1 L1003.6 457.5 L1005.0 457.9 L1006.5 458.2 L1007.9 458.6 L1009.4 459.0 L1010.8 459.3 L1012.3 459.7 L1013.8 460.1 L1015.2 460.4 L1016.7 460.8 L1018.1 461.1 L1019.6 461.5 L1021.0 461.9 L1022.5 462.2 L1023.9 462.6 L1025.4 462.9 L1026.9 463.3 L1028.3 463.7 L1029.8 464.0 L1031.2 464.4 L1032.7 464.7 L1034.1 465.1 L1035.6 465.4 L1037.1 465.8 L1038.5 466.1 L1040.0 466.5 L1041.4 466.8 L1042.9 467.2 L1044.3 467.5 L1045.8 467.9 L1047.3 468.2 L1048.7 468.6 L1050.2 468.9 L1051.6 469.3 L1053.1 469.6 L1054.6 470.0 L1056.0 470.3 L1057.5 470.6 L1058.9 471.0 L1060.4 471.3 L1061.9 471.7 L1063.3 472.0 L1064.8 472.3 L1066.3 472.7 L1067.7 473.0 L1069.2 473.3 L1070.6 473.7 L1072.1 474.0 L1073.6 474.3 L1075.0 474.7 L1076.5 475.0 L1078.0 475.3 L1079.4 475.6 L1080.9 476.0 L1082.4 476.3 L1083.8 476.6 L1085.3 476.9 L1086.8 477.2 L1088.2 477.5 L1089.7 477.9 L1091.2 478.2 L1092.6 478.5 L1094.1 478.8 L1095.6 479.1 L1097.0 479.4 L1098.5 479.7 L1100.0 480.0 L1101.5 480.3 L1102.9 480.6 L1104.4 480.9 L1105.9 481.2 L1107.3 481.5 L1108.8 481.7 L1110.3 482.0 L1111.7 482.3 L1113.2 482.6 L1114.7 482.8 L1116.2 483.1 L1117.6 483.4 L1119.1 483.7 L1120.6 483.9 L1122.1 484.2 L1123.5 484.4 L1125.0 484.7 L1126.5 484.9 L1128.0 485.2 L1129.4 485.4 L1130.9 485.7 L1132.4 485.9 L1133.9 486.1 L1135.3 486.4 L1136.8 486.6 L1138.3 486.8 L1139.8 487.0 L1141.3 487.3 L1142.7 487.5 L1144.2 487.7 L1145.7 487.9 L1147.2 488.1 L1148.7 488.3 L1150.1 488.5 L1151.6 488.7 L1153.1 488.8 L1154.6 489.0 L1156.1 489.2 L1157.6 489.4 L1159.0 489.5 L1160.5 489.7 L1162.0 489.9 L1163.5 490.0 L1165.0 490.2 L1166.5 490.3 L1168.0 490.5 L1169.4 490.6 L1170.9 490.7 L1172.4 490.9 L1173.9 491.0 L1175.4 491.1 L1176.9 491.3 L1178.4 491.4 L1179.9 491.5 L1181.4 491.6 L1182.8 491.7 L1184.3 491.8 L1185.8 492.0 L1187.3 492.1 L1188.8 492.2 L1190.3 492.3 L1191.8 492.4 L1193.3 492.5 L1194.8 492.6 L1196.3 492.7 L1197.8 492.8 L1199.3 492.8 L1200.8 492.9 L1202.3 493.0 L1203.7 493.1 L1205.2 493.2 L1206.7 493.3 L1208.2 493.4 L1209.7 493.5 L1211.2 493.5 L1212.7 493.6 L1214.2 493.7 L1215.7 493.8 L1217.2 493.9 L1218.7 493.9 L1220.2 494.0 L1221.7 494.1 L1223.2 494.2 L1224.7 494.3 L1226.2 494.3 L1227.7 494.4 L1229.2 494.5 L1230.7 494.6 L1232.2 494.7 L1233.8 494.7 L1235.3 494.8 L1236.8 494.9 L1238.3 495.0 L1239.8 495.1 L1241.3 495.2 L1242.8 495.2 L1244.3 495.3 L1245.8 495.4 L1247.3 495.5 L1248.8 495.6 L1250.3 495.7 L1251.8 495.8 L1253.3 495.9 L1254.9 496.0 L1256.4 496.1 L1257.9 496.2 L1259.4 496.3 L1260.9 496.4 L1262.4 496.5 L1263.9 496.6 L1265.4 496.7 L1266.9 496.8 L1268.5 497.0 L1270.0 497.1 L1271.5 497.2 L1273.0 497.4 L1274.5 497.5 L1276.0 497.7 L1277.5 497.9 L1279.0 498.1 L1280.4 498.3 L1281.9 498.5 L1283.4 498.7 L1284.9 499.0 L1286.3 499.3 L1287.8 499.5 L1289.3 499.9 L1290.7 500.2 L1292.1 500.5 L1293.6 500.9 L1295.0 501.3 L1296.4 501.7 L1297.8 502.2 L1299.2 502.6 L1300.6 503.1 L1302.0 503.6 L1303.3 504.2 L1304.7 504.8 L1306.0 505.4 L1307.4 506.0 L1308.7 506.6 L1310.0 507.3 L1311.3 508.0 L1312.6 508.7 L1313.9 509.5 L1315.1 510.2 L1316.4 511.0 L1317.7 511.8 L1318.9 512.7 L1320.2 513.5 L1321.4 514.3 L1322.6 515.2 L1323.8 516.1 L1325.0 517.0 L1326.2 517.9 L1327.4 518.9 L1328.6 519.8 L1329.8 520.8 L1331.0 521.7 L1332.1 522.7 L1333.3 523.7 L1334.4 524.7 L1335.6 525.7 L1336.7 526.8 L1337.8 527.8 L1339.0 528.8 L1340.1 529.9 L1341.2 530.9 L1342.3 532.0 L1343.4 533.0 L1344.5 534.1 L1345.5 535.1 L1346.6 536.2 L1347.7 537.3 L1348.8 538.4 L1349.8 539.4 L1350.9 540.5 L1351.9 541.6 L1353.0 542.7 L1354.0 543.7 L1355.1 544.8 L1356.1 545.9 L1357.1 547.0 L1358.2 548.1 L1359.2 549.2 L1360.2 550.2 L1361.3 551.3 L1362.3 552.4 L1363.3 553.5 L1364.3 554.6 L1365.4 555.7 L1366.4 556.8 L1367.4 557.8 L1368.4 558.9 L1369.4 560.0 L1370.5 561.1 L1371.5 562.2 L1372.5 563.2 L1373.5 564.3 L1374.6 565.4 L1375.6 566.5 L1376.6 567.5 L1377.7 568.6 L1378.7 569.7 L1379.7 570.8 L1380.8 571.8 L1381.8 572.9 L1382.9 573.9 L1383.9 575.0 L1385.0 576.0 L1386.1 577.1 L1387.1 578.1 L1388.2 579.2 L1389.2 580.2 L1390.3 581.3 L1391.4 582.3 L1392.5 583.4 L1393.5 584.4 L1394.6 585.4 L1395.7 586.5 L1396.8 587.5 L1397.9 588.5 L1398.9 589.6 L1400.0 590.6 L1401.1 591.6 L1402.2 592.7 L1403.3 593.7 L1404.4 594.7 L1405.5 595.7 L1406.6 596.8 L1407.7 597.8 L1408.8 598.8 L1409.9 599.8 L1411.0 600.9 L1412.1 601.9 L1413.2 602.9 L1414.3 603.9 L1415.4 604.9 L1416.5 606.0 L1417.6 607.0 L1418.6 608.0 L1419.7 609.0 L1420.8 610.0 L1421.9 611.1 L1423.0 612.1 L1424.1 613.1 L1425.2 614.1 L1426.3 615.1 L1427.4 616.2 L1428.5 617.2 L1429.6 618.2 L1430.7 619.2 L1431.8 620.2 L1432.9 621.3 L1434.0 622.3 L1435.1 623.3 L1436.2 624.3 L1437.3 625.3 L1438.4 626.3 L1439.6 627.4 L1440.7 628.4 L1441.8 629.4 L1442.9 630.4 L1444.0 631.4 L1445.1 632.4 L1446.2 633.4 L1447.3 634.4 L1448.4 635.4 L1449.5 636.4 L1450.6 637.4 L1451.8 638.4 L1452.9 639.4 L1454.0 640.4 L1455.1 641.4 L1456.2 642.4 L1457.4 643.4 L1458.5 644.4 L1459.6 645.4 L1460.7 646.3 L1461.9 647.3 L1463.0 648.3 L1464.1 649.3 L1465.3 650.3 L1466.4 651.2 L1467.5 652.2 L1468.7 653.2 L1469.8 654.1 L1471.0 655.1 L1472.1 656.0 L1473.3 657.0 L1474.4 657.9 L1475.6 658.9 L1476.7 659.8 L1477.9 660.8 L1479.1 661.7 L1480.2 662.7 L1481.4 663.6 L1482.6 664.5 L1483.7 665.5 L1484.9 666.4 L1486.1 667.3 L1487.3 668.2 L1488.5 669.1 L1489.6 670.0 L1490.8 670.9 L1492.0 671.8 L1493.2 672.7 L1494.4 673.6 L1495.6 674.5 L1496.8 675.4 L1498.0 676.3 L1499.3 677.2 L1500.5 678.0 L1501.7 678.9 L1502.9 679.8 L1504.1 680.6 L1505.4 681.5 L1506.6 682.3 L1507.9 683.1 L1509.1 683.9 L1510.4 684.7 L1511.7 685.4 L1512.9 686.2 L1514.2 686.9 L1515.5 687.6 L1516.9 688.2 L1518.2 688.9 L1519.5 689.5 L1520.9 690.0 L1522.2 690.6 L1523.6 691.1 L1525.0 691.5 L1526.4 692.0 L1527.8 692.4 L1529.2 692.7 L1530.7 693.0 L1532.1 693.3 L1533.6 693.5 L1535.1 693.7 L1536.6 693.8 L1538.1 693.8 L1539.7 693.9 L1541.2 693.9 L1542.8 693.8 L1544.3 693.7 L1545.9 693.5 L1547.4 693.3 L1548.9 693.1 L1550.5 692.8 L1552.0 692.5 L1553.5 692.1 L1555.0 691.7 L1556.5 691.2 L1557.9 690.8 L1559.4 690.2 L1560.8 689.7 L1562.2 689.0 L1563.6 688.4 L1564.9 687.7 L1566.2 687.0 L1567.5 686.2 L1568.7 685.4 L1570.0 684.6 L1571.2 683.7 L1572.3 682.9 L1573.5 681.9 L1574.6 681.0 L1575.7 680.0 L1576.8 679.0 L1577.8 678.0 L1578.8 676.9 L1579.9 675.8 L1580.8 674.7 L1581.8 673.6 L1582.8 672.4 L1583.7 671.3 L1584.6 670.1 L1585.5 668.9 L1586.4 667.7 L1587.2 666.5 L1588.1 665.2 L1588.9 664.0 L1589.7 662.7 L1590.5 661.4 L1591.3 660.1 L1592.1 658.8 L1592.9 657.5 L1593.6 656.2 L1594.4 654.9 L1595.1 653.6 L1595.9 652.3 L1596.6 651.0 L1597.3 649.7 L1598.0 648.3 L1598.7 647.0 L1599.4 645.7 L1600.1 644.4 L1600.8 643.0 L1601.5 641.7 L1602.1 640.4 L1602.8 639.0 L1603.5 637.7 L1604.1 636.3 L1604.7 635.0 L1605.4 633.6 L1606.0 632.3 L1606.6 630.9 L1607.2 629.5 L1607.8 628.2 L1608.4 626.8 L1609.0 625.4 L1609.6 624.1 L1610.1 622.7 L1610.7 621.3 L1611.3 619.9 L1611.8 618.5 L1612.3 617.2 L1612.9 615.8 L1613.4 614.4 L1613.9 613.0 L1614.5 611.6 L1615.0 610.2 L1615.5 608.8 L1616.0 607.4 L1616.5 605.9 L1617.0 604.5 L1617.4 603.1 L1617.9 601.7 L1618.4 600.3 L1618.9 598.8 L1619.3 597.4 L1619.8 596.0 L1620.2 594.5 L1620.7 593.1 L1621.1 591.7 L1621.5 590.2 L1622.0 588.8 L1622.4 587.3 L1622.8 585.9 L1623.2 584.4 L1623.6 582.9 L1624.0 581.5 L1624.4 580.0 L1624.8 578.5 L1625.2 577.1 L1625.6 575.6 L1626.0 574.1 L1626.4 572.6 L1626.8 571.1 L1627.2 569.7 L1627.7 568.2 L1628.2 566.7 L1628.7 565.2 L1629.2 563.8 L1629.7 562.3 L1630.3 560.8 L1630.9 559.4 L1631.6 557.9 L1632.2 556.5 L1633.0 555.1 L1633.7 553.7 L1634.6 552.5 L1635.5 551.5 L1636.4 550.7 L1637.4 550.2 L1638.5 549.9 L1639.7 550.0 L1640.8 550.3 L1642.0 550.9 L1643.2 551.7 L1644.4 552.7 L1645.5 553.8 L1646.6 554.9 L1647.7 556.1 L1648.8 557.4 L1649.8 558.7 L1650.8 559.9 L1651.7 561.2 L1652.6 562.4 L1653.4 563.6 L1654.2 564.8 L1654.9 566.0 L1655.6 567.3 L1656.2 568.6 L1656.7 569.9 L1657.2 571.3 L1657.5 572.8 L1657.8 574.4 L1658.0 576.0" fill="none" stroke="#e39836" stroke-width="3" stroke-linejoin="round" clip-path="url(#cm)"/>
<path d="M257.9 241.3 L259.3 241.7 L260.8 242.1 L262.2 242.5 L263.7 243.0 L265.1 243.4 L266.5 243.8 L268.0 244.2 L269.4 244.7 L270.9 245.1 L272.3 245.5 L273.7 245.9 L275.2 246.4 L276.6 246.8 L278.1 247.2 L279.5 247.6 L280.9 248.1 L282.4 248.5 L283.8 248.9 L285.3 249.3 L286.7 249.8 L288.1 250.2 L289.6 250.6 L291.0 251.1 L292.4 251.5 L293.9 251.9 L295.3 252.3 L296.8 252.8 L298.2 253.2 L299.6 253.6 L301.1 254.1 L302.5 254.5 L304.0 254.9 L305.4 255.3 L306.8 255.8 L308.3 256.2 L309.7 256.6 L311.1 257.1 L312.6 257.5 L314.0 257.9 L315.5 258.4 L316.9 258.8 L318.3 259.2 L319.8 259.6 L321.2 260.1 L322.6 260.5 L324.1 260.9 L325.5 261.4 L326.9 261.8 L328.4 262.2 L329.8 262.7 L331.3 263.1 L332.7 263.5 L334.1 264.0 L335.6 264.4 L337.0 264.8 L338.4 265.3 L339.9 265.7 L341.3 266.1 L342.7 266.6 L344.2 267.0 L345.6 267.4 L347.1 267.9 L348.5 268.3 L349.9 268.7 L351.4 269.2 L352.8 269.6 L354.2 270.0 L355.7 270.5 L357.1 270.9 L358.5 271.3 L360.0 271.8 L361.4 272.2 L362.8 272.6 L364.3 273.1 L365.7 273.5 L367.1 273.9 L368.6 274.4 L370.0 274.8 L371.5 275.2 L372.9 275.7 L374.3 276.1 L375.8 276.6 L377.2 277.0 L378.6 277.4 L380.1 277.9 L381.5 278.3 L382.9 278.7 L384.4 279.2 L385.8 279.6 L387.2 280.0 L388.7 280.5 L390.1 280.9 L391.5 281.4 L393.0 281.8 L394.4 282.2 L395.8 282.7 L397.3 283.1 L398.7 283.5 L400.1 284.0 L401.6 284.4 L403.0 284.9 L404.4 285.3 L405.9 285.7 L407.3 286.2 L408.7 286.6 L410.2 287.0 L411.6 287.5 L413.0 287.9 L414.5 288.4 L415.9 288.8 L417.3 289.2 L418.8 289.7 L420.2 290.1 L421.6 290.6 L423.1 291.0 L424.5 291.4 L425.9 291.9 L427.4 292.3 L428.8 292.7 L430.2 293.2 L431.7 293.6 L433.1 294.1 L434.5 294.5 L436.0 294.9 L437.4 295.4 L438.8 295.8 L440.3 296.3 L441.7 296.7 L443.1 297.1 L444.6 297.6 L446.0 298.0 L447.4 298.5 L448.9 298.9 L450.3 299.3 L451.7 299.8 L453.2 300.2 L454.6 300.7 L456.0 301.1 L457.5 301.5 L458.9 302.0 L460.3 302.4 L461.8 302.9 L463.2 303.3 L464.6 303.7 L466.1 304.2 L467.5 304.6 L468.9 305.1 L470.3 305.5 L471.8 306.0 L473.2 306.4 L474.6 306.8 L476.1 307.3 L477.5 307.7 L478.9 308.2 L480.4 308.6 L481.8 309.0 L483.2 309.5 L484.7 309.9 L486.1 310.4 L487.5 310.8 L489.0 311.2 L490.4 311.7 L491.8 312.1 L493.3 312.6 L494.7 313.0 L496.1 313.5 L497.6 313.9 L499.0 314.3 L500.4 314.8 L501.9 315.2 L503.3 315.7 L504.7 316.1 L506.1 316.5 L507.6 317.0 L509.0 317.4 L510.4 317.9 L511.9 318.3 L513.3 318.8 L514.7 319.2 L516.2 319.6 L517.6 320.1 L519.0 320.5 L520.5 321.0 L521.9 321.4 L523.3 321.8 L524.8 322.3 L526.2 322.7 L527.6 323.2 L529.1 323.6 L530.5 324.1 L531.9 324.5 L533.3 324.9 L534.8 325.4 L536.2 325.8 L537.6 326.3 L539.1 326.7 L540.5 327.1 L541.9 327.6 L543.4 328.0 L544.8 328.5 L546.2 328.9 L547.7 329.4 L549.1 329.8 L550.5 330.2 L552.0 330.7 L553.4 331.1 L554.8 331.6 L556.3 332.0 L557.7 332.4 L559.1 332.9 L560.5 333.3 L562.0 333.8 L563.4 334.2 L564.8 334.7 L566.3 335.1 L567.7 335.5 L569.1 336.0 L570.6 336.4 L572.0 336.9 L573.4 337.3 L574.9 337.7 L576.3 338.2 L577.7 338.6 L579.2 339.1 L580.6 339.5 L582.0 340.0 L583.4 340.4 L584.9 340.8 L586.3 341.3 L587.7 341.7 L589.2 342.2 L590.6 342.6 L592.0 343.0 L593.5 343.5 L594.9 343.9 L596.3 344.4 L597.8 344.8 L599.2 345.2 L600.6 345.7 L602.1 346.1 L603.5 346.6 L604.9 347.0 L606.4 347.5 L607.8 347.9 L609.2 348.3 L610.7 348.8 L612.1 349.2 L613.5 349.7 L614.9 350.1 L616.4 350.5 L617.8 351.0 L619.2 351.4 L620.7 351.9 L622.1 352.3 L623.5 352.7 L625.0 353.2 L626.4 353.6 L627.8 354.1 L629.3 354.5 L630.7 354.9 L632.1 355.4 L633.6 355.8 L635.0 356.3 L636.4 356.7 L637.9 357.1 L639.3 357.6 L640.7 358.0 L642.2 358.5 L643.6 358.9 L645.0 359.3 L646.5 359.8 L647.9 360.2 L649.3 360.6 L650.7 361.1 L652.2 361.5 L653.6 362.0 L655.0 362.4 L656.5 362.8 L657.9 363.3 L659.3 363.7 L660.8 364.2 L662.2 364.6 L663.6 365.0 L665.1 365.5 L666.5 365.9 L667.9 366.3 L669.4 366.8 L670.8 367.2 L672.2 367.7 L673.7 368.1 L675.1 368.5 L676.5 369.0 L678.0 369.4 L679.4 369.8 L680.8 370.3 L682.3 370.7 L683.7 371.1 L685.1 371.6 L686.6 372.0 L688.0 372.5 L689.4 372.9 L690.9 373.3 L692.3 373.8 L693.7 374.2 L695.2 374.6 L696.6 375.1 L698.0 375.5 L699.5 375.9 L700.9 376.4 L702.3 376.8 L703.8 377.3 L705.2 377.7 L706.6 378.1 L708.1 378.6 L709.5 379.0 L710.9 379.4 L712.4 379.9 L713.8 380.3 L715.2 380.7 L716.7 381.2 L718.1 381.6 L719.5 382.0 L721.0 382.5 L722.4 382.9 L723.8 383.3 L725.3 383.8 L726.7 384.2 L728.1 384.6 L729.6 385.1 L731.0 385.5 L732.5 385.9 L733.9 386.4 L735.3 386.8 L736.8 387.2 L738.2 387.7 L739.6 388.1 L741.1 388.5 L742.5 389.0 L743.9 389.4 L745.4 389.8 L746.8 390.2 L748.2 390.7 L749.7 391.1 L751.1 391.5 L752.5 392.0 L754.0 392.4 L755.4 392.8 L756.8 393.3 L758.3 393.7 L759.7 394.1 L761.2 394.5 L762.6 395.0 L764.0 395.4 L765.5 395.8 L766.9 396.3 L768.3 396.7 L769.8 397.1 L771.2 397.6 L772.6 398.0 L774.1 398.4 L775.5 398.8 L777.0 399.3 L778.4 399.7 L779.8 400.1 L781.3 400.5 L782.7 401.0 L784.1 401.4 L785.6 401.8 L787.0 402.3 L788.4 402.7 L789.9 403.1 L791.3 403.5 L792.8 404.0 L794.2 404.4 L795.6 404.8 L797.1 405.2 L798.5 405.7 L799.9 406.1 L801.4 406.5 L802.8 406.9 L804.3 407.4 L805.7 407.8 L807.1 408.2 L808.6 408.6 L810.0 409.1 L811.4 409.5 L812.9 409.9 L814.3 410.3 L815.8 410.8 L817.2 411.2 L818.6 411.6 L820.1 412.0 L821.5 412.4 L823.0 412.9 L824.4 413.3 L825.8 413.7 L827.3 414.1 L828.7 414.6 L830.1 415.0 L831.6 415.4 L833.0 415.8 L834.5 416.2 L835.9 416.7 L837.3 417.1 L838.8 417.5 L840.2 417.9 L841.7 418.3 L843.1 418.8 L844.5 419.2 L846.0 419.6 L847.4 420.0 L848.9 420.4 L850.3 420.8 L851.7 421.3 L853.2 421.7 L854.6 422.1 L856.1 422.5 L857.5 422.9 L858.9 423.4 L860.4 423.8 L861.8 424.2 L863.3 424.6 L864.7 425.0 L866.1 425.4 L867.6 425.8 L869.0 426.3 L870.5 426.7 L871.9 427.1 L873.4 427.5 L874.8 427.9 L876.2 428.3 L877.7 428.8 L879.1 429.2 L880.6 429.6 L882.0 430.0 L883.5 430.4 L884.9 430.8 L886.3 431.2 L887.8 431.6 L889.2 432.1 L890.7 432.5 L892.1 432.9 L893.5 433.3 L895.0 433.7 L896.4 434.1 L897.9 434.5 L899.3 434.9 L900.8 435.3 L902.2 435.8 L903.7 436.2 L905.1 436.6 L906.5 437.0 L908.0 437.4 L909.4 437.8 L910.9 438.2 L912.3 438.6 L913.8 439.0 L915.2 439.4 L916.6 439.8 L918.1 440.2 L919.5 440.7 L921.0 441.1 L922.4 441.5 L923.9 441.9 L925.3 442.3 L926.8 442.7 L928.2 443.1 L929.7 443.5 L931.1 443.9 L932.5 444.3 L934.0 444.7 L935.4 445.1 L936.9 445.5 L938.3 445.9 L939.8 446.3 L941.2 446.7 L942.7 447.1 L944.1 447.5 L945.6 447.9 L947.0 448.3 L948.5 448.7 L949.9 449.1 L951.3 449.5 L952.8 449.9 L954.2 450.3 L955.7 450.7 L957.1 451.1 L958.6 451.5 L960.0 451.9 L961.5 452.3 L962.9 452.7 L964.4 453.1 L965.8 453.5 L967.3 453.9 L968.7 454.3 L970.2 454.7 L971.6 455.0 L973.1 455.4 L974.5 455.8 L976.0 456.2 L977.4 456.6 L978.9 457.0 L980.3 457.4 L981.8 457.8 L983.2 458.1 L984.7 458.5 L986.1 458.9 L987.6 459.3 L989.0 459.7 L990.5 460.1 L991.9 460.4 L993.4 460.8 L994.8 461.2 L996.3 461.6 L997.7 462.0 L999.2 462.3 L1000.6 462.7 L1002.1 463.1 L1003.5 463.5 L1005.0 463.8 L1006.4 464.2 L1007.9 464.6 L1009.4 464.9 L1010.8 465.3 L1012.3 465.7 L1013.7 466.0 L1015.2 466.4 L1016.6 466.8 L1018.1 467.1 L1019.5 467.5 L1021.0 467.9 L1022.4 468.2 L1023.9 468.6 L1025.3 468.9 L1026.8 469.3 L1028.3 469.7 L1029.7 470.0 L1031.2 470.4 L1032.6 470.7 L1034.1 471.1 L1035.5 471.4 L1037.0 471.8 L1038.5 472.1 L1039.9 472.5 L1041.4 472.8 L1042.8 473.2 L1044.3 473.5 L1045.7 473.9 L1047.2 474.2 L1048.7 474.5 L1050.1 474.9 L1051.6 475.2 L1053.0 475.6 L1054.5 475.9 L1056.0 476.2 L1057.4 476.6 L1058.9 476.9 L1060.3 477.2 L1061.8 477.5 L1063.3 477.9 L1064.7 478.2 L1066.2 478.5 L1067.6 478.8 L1069.1 479.2 L1070.6 479.5 L1072.0 479.8 L1073.5 480.1 L1074.9 480.4 L1076.4 480.8 L1077.9 481.1 L1079.3 481.4 L1080.8 481.7 L1082.3 482.0 L1083.7 482.3 L1085.2 482.6 L1086.6 482.9 L1088.1 483.2 L1089.6 483.5 L1091.0 483.8 L1092.5 484.1 L1094.0 484.4 L1095.4 484.7 L1096.9 485.0 L1098.4 485.3 L1099.8 485.6 L1101.3 485.9 L1102.8 486.2 L1104.2 486.5 L1105.7 486.7 L1107.2 487.0 L1108.6 487.3 L1110.1 487.6 L1111.6 487.9 L1113.0 488.1 L1114.5 488.4 L1116.0 488.7 L1117.4 488.9 L1118.9 489.2 L1120.4 489.5 L1121.8 489.7 L1123.3 490.0 L1124.8 490.3 L1126.3 490.5 L1127.7 490.8 L1129.2 491.0 L1130.7 491.3 L1132.1 491.5 L1133.6 491.8 L1135.1 492.0 L1136.6 492.3 L1138.0 492.5 L1139.5 492.8 L1141.0 493.0 L1142.4 493.2 L1143.9 493.5 L1145.4 493.7 L1146.9 493.9 L1148.3 494.2 L1149.8 494.4 L1151.3 494.6 L1152.8 494.8 L1154.2 495.0 L1155.7 495.2 L1157.2 495.4 L1158.7 495.6 L1160.2 495.8 L1161.6 496.0 L1163.1 496.2 L1164.6 496.4 L1166.1 496.6 L1167.6 496.7 L1169.0 496.9 L1170.5 497.1 L1172.0 497.2 L1173.5 497.4 L1175.0 497.5 L1176.4 497.7 L1177.9 497.8 L1179.4 498.0 L1180.9 498.1 L1182.4 498.2 L1183.9 498.3 L1185.3 498.5 L1186.8 498.6 L1188.3 498.7 L1189.8 498.8 L1191.3 498.9 L1192.8 499.0 L1194.3 499.0 L1195.8 499.1 L1197.2 499.2 L1198.7 499.2 L1200.2 499.3 L1201.7 499.3 L1203.2 499.4 L1204.7 499.4 L1206.2 499.4 L1207.7 499.5 L1209.2 499.5 L1210.7 499.5 L1212.2 499.5 L1213.7 499.5 L1215.2 499.5 L1216.7 499.4 L1218.2 499.4 L1219.7 499.4 L1221.1 499.3 L1222.6 499.3 L1224.1 499.2 L1225.7 499.1 L1227.2 499.0 L1228.7 499.0 L1230.2 498.9 L1231.7 498.8 L1233.2 498.6 L1234.7 498.5 L1236.2 498.4 L1237.7 498.2 L1239.2 498.1 L1240.7 497.9 L1242.2 497.8 L1243.7 497.6 L1245.2 497.4 L1246.7 497.2 L1248.2 497.0 L1249.8 496.8 L1251.3 496.6 L1252.8 496.3 L1254.3 496.1 L1255.8 495.8 L1257.3 495.6 L1258.8 495.3 L1260.4 495.0 L1261.9 494.7 L1263.4 494.4 L1264.9 494.1 L1266.4 493.7 L1268.0 493.4 L1269.5 493.1 L1271.0 492.7 L1272.5 492.4 L1274.0 492.0 L1275.6 491.7 L1277.1 491.3 L1278.6 491.0 L1280.1 490.7 L1281.6 490.3 L1283.1 490.0 L1284.6 489.7 L1286.1 489.4 L1287.6 489.1 L1289.1 488.9 L1290.6 488.6 L1292.1 488.4 L1293.5 488.1 L1295.0 487.9 L1296.5 487.8 L1297.9 487.6 L1299.4 487.5 L1300.8 487.3 L1302.3 487.3 L1303.7 487.2 L1305.2 487.2 L1306.6 487.2 L1308.0 487.2 L1309.4 487.3 L1310.8 487.4 L1312.2 487.6 L1313.6 487.8 L1314.9 488.0 L1316.3 488.2 L1317.6 488.6 L1319.0 488.9 L1320.3 489.3 L1321.6 489.8 L1323.0 490.2 L1324.3 490.8 L1325.5 491.4 L1326.8 492.0 L1328.1 492.6 L1329.4 493.3 L1330.6 494.1 L1331.8 494.8 L1333.1 495.6 L1334.3 496.5 L1335.5 497.3 L1336.7 498.2 L1337.9 499.1 L1339.1 500.1 L1340.2 501.1 L1341.4 502.1 L1342.6 503.1 L1343.7 504.2 L1344.8 505.2 L1345.9 506.3 L1347.0 507.4 L1348.1 508.6 L1349.2 509.7 L1350.3 510.9 L1351.4 512.0 L1352.4 513.2 L1353.5 514.4 L1354.5 515.6 L1355.6 516.8 L1356.6 518.1 L1357.6 519.3 L1358.6 520.5 L1359.6 521.8 L1360.6 523.0 L1361.6 524.2 L1362.5 525.5 L1363.5 526.7 L1364.4 527.9 L1365.4 529.2 L1366.3 530.4 L1367.2 531.7 L1368.1 532.9 L1369.0 534.1 L1369.9 535.4 L1370.8 536.6 L1371.7 537.9 L1372.6 539.1 L1373.5 540.3 L1374.4 541.6 L1375.2 542.8 L1376.1 544.0 L1377.0 545.3 L1377.8 546.5 L1378.7 547.7 L1379.6 548.9 L1380.4 550.2 L1381.3 551.4 L1382.1 552.6 L1383.0 553.8 L1383.8 555.0 L1384.7 556.3 L1385.5 557.5 L1386.4 558.7 L1387.2 559.9 L1388.1 561.1 L1389.0 562.3 L1389.8 563.5 L1390.7 564.6 L1391.6 565.8 L1392.4 567.0 L1393.3 568.2 L1394.2 569.4 L1395.1 570.5 L1396.0 571.7 L1396.9 572.9 L1397.8 574.0 L1398.7 575.2 L1399.6 576.3 L1400.5 577.4 L1401.4 578.6 L1402.4 579.7 L1403.3 580.8 L1404.3 582.0 L1405.2 583.1 L1406.2 584.2 L1407.1 585.3 L1408.1 586.4 L1409.1 587.5 L1410.1 588.6 L1411.0 589.7 L1412.0 590.8 L1413.0 591.9 L1414.0 592.9 L1415.0 594.0 L1416.1 595.1 L1417.1 596.2 L1418.1 597.2 L1419.1 598.3 L1420.2 599.4 L1421.2 600.4 L1422.2 601.5 L1423.3 602.6 L1424.3 603.6 L1425.4 604.7 L1426.4 605.7 L1427.5 606.8 L1428.5 607.8 L1429.6 608.9 L1430.6 609.9 L1431.7 611.0 L1432.8 612.0 L1433.8 613.0 L1434.9 614.1 L1436.0 615.1 L1437.1 616.2 L1438.1 617.2 L1439.2 618.2 L1440.3 619.3 L1441.4 620.3 L1442.5 621.4 L1443.5 622.4 L1444.6 623.4 L1445.7 624.5 L1446.8 625.5 L1447.9 626.6 L1449.0 627.6 L1450.0 628.6 L1451.1 629.7 L1452.2 630.7 L1453.3 631.8 L1454.4 632.8 L1455.5 633.9 L1456.6 634.9 L1457.6 636.0 L1458.7 637.0 L1459.8 638.1 L1460.9 639.1 L1462.0 640.2 L1463.0 641.2 L1464.1 642.3 L1465.2 643.4 L1466.3 644.4 L1467.3 645.5 L1468.4 646.6 L1469.5 647.6 L1470.5 648.7 L1471.6 649.8 L1472.6 650.9 L1473.7 652.0 L1474.7 653.1 L1475.8 654.2 L1476.8 655.3 L1477.9 656.4 L1478.9 657.5 L1480.0 658.6 L1481.0 659.7 L1482.0 660.8 L1483.1 661.9 L1484.1 663.0 L1485.1 664.1 L1486.1 665.2 L1487.2 666.3 L1488.2 667.5 L1489.3 668.6 L1490.3 669.6 L1491.3 670.7 L1492.4 671.8 L1493.4 672.9 L1494.5 674.0 L1495.5 675.1 L1496.6 676.1 L1497.6 677.2 L1498.7 678.3 L1499.8 679.3 L1500.9 680.3 L1501.9 681.4 L1503.0 682.4 L1504.1 683.4 L1505.2 684.4 L1506.3 685.4 L1507.5 686.3 L1508.6 687.3 L1509.7 688.3 L1510.9 689.2 L1512.0 690.1 L1513.2 691.0 L1514.4 691.9 L1515.6 692.8 L1516.8 693.6 L1518.0 694.5 L1519.2 695.3 L1520.4 696.1 L1521.7 696.9 L1522.9 697.7 L1524.2 698.4 L1525.5 699.2 L1526.8 699.9 L1528.1 700.6 L1529.5 701.3 L1530.8 701.9 L1532.1 702.5 L1533.5 703.1 L1534.9 703.7 L1536.3 704.3 L1537.7 704.8 L1539.1 705.3 L1540.6 705.8 L1542.0 706.3 L1543.5 706.7 L1544.9 707.2 L1546.4 707.5 L1547.9 707.9 L1549.4 708.2 L1550.9 708.6 L1552.4 708.8 L1554.0 709.0 L1555.4 709.1 L1556.9 708.9 L1558.2 708.6 L1559.5 708.0 L1560.8 707.3 L1562.0 706.5 L1563.2 705.6 L1564.4 704.7 L1565.6 703.7 L1566.7 702.8 L1567.9 701.8 L1569.0 700.8 L1570.1 699.8 L1571.3 698.8 L1572.4 697.7 L1573.4 696.7 L1574.5 695.6 L1575.6 694.5 L1576.6 693.5 L1577.7 692.4 L1578.7 691.2 L1579.7 690.1 L1580.7 689.0 L1581.6 687.8 L1582.6 686.7 L1583.5 685.5 L1584.4 684.4 L1585.4 683.2 L1586.2 682.0 L1587.1 680.8 L1588.0 679.5 L1588.8 678.3 L1589.7 677.1 L1590.5 675.8 L1591.3 674.6 L1592.1 673.3 L1592.9 672.0 L1593.7 670.8 L1594.4 669.5 L1595.2 668.2 L1595.9 666.9 L1596.6 665.6 L1597.3 664.3 L1598.0 662.9 L1598.7 661.6 L1599.4 660.3 L1600.0 658.9 L1600.7 657.6 L1601.3 656.2 L1602.0 654.9 L1602.6 653.5 L1603.2 652.1 L1603.8 650.8 L1604.4 649.4 L1605.0 648.0 L1605.6 646.6 L1606.2 645.2 L1606.8 643.8 L1607.3 642.4 L1607.9 641.0 L1608.4 639.6 L1609.0 638.2 L1609.5 636.8 L1610.0 635.4 L1610.5 634.0 L1611.0 632.6 L1611.6 631.2 L1612.1 629.8 L1612.6 628.4 L1613.1 626.9 L1613.5 625.5 L1614.0 624.1 L1614.5 622.7 L1615.0 621.3 L1615.5 619.9 L1615.9 618.4 L1616.4 617.0 L1616.9 615.6 L1617.3 614.2 L1617.8 612.8 L1618.2 611.3 L1618.7 609.9 L1619.1 608.5 L1619.6 607.1 L1620.0 605.6 L1620.4 604.2 L1620.9 602.8 L1621.3 601.4 L1621.7 599.9 L1622.1 598.5 L1622.5 597.1 L1623.0 595.6 L1623.4 594.2 L1623.8 592.8 L1624.2 591.3 L1624.6 589.9 L1625.0 588.4 L1625.4 587.0 L1625.8 585.6 L1626.2 584.1 L1626.5 582.7 L1626.9 581.2 L1627.3 579.8 L1627.7 578.3 L1628.1 576.9 L1628.5 575.4 L1628.8 573.9 L1629.2 572.5 L1629.6 571.0 L1629.9 569.6 L1630.3 568.1 L1630.6 566.6 L1631.0 565.2 L1631.3 563.8 L1631.6 562.3 L1631.9 560.9 L1632.2 559.5 L1632.5 558.0 L1632.7 556.6 L1633.0 555.2 L1633.3 553.7 L1633.5 552.2 L1633.8 550.6 L1634.1 549.0 L1634.4 547.3 L1634.7 545.5 L1635.1 543.6 L1635.5 541.7 L1635.9 540.0 L1636.5 538.6 L1637.1 537.6 L1637.8 537.2 L1638.6 537.5 L1639.5 538.5 L1640.3 539.8 L1641.0 541.1 L1641.6 542.6 L1642.2 544.0 L1642.6 545.5 L1643.1 547.0 L1643.5 548.4 L1644.0 549.9 L1644.7 551.2 L1645.3 552.6 L1646.1 553.9 L1646.9 555.1 L1647.7 556.4 L1648.6 557.6 L1649.4 558.9 L1650.3 560.1 L1651.1 561.3 L1651.8 562.6 L1652.6 563.9 L1653.2 565.2 L1653.8 566.6 L1654.3 568.0 L1654.7 569.4 L1655.1 570.9 L1655.4 572.4 L1655.7 573.9 L1656.0 575.4 L1656.3 576.9 L1656.6 578.4 L1656.8 579.9 L1657.1 581.4 L1657.4 582.9 L1657.7 584.4 L1658.1 585.8 L1658.5 587.2 L1659.0 588.6 L1659.5 590.0" fill="none" stroke="#ff3434" stroke-width="3" stroke-linejoin="round" clip-path="url(#cm)"/>
<rect x="257.2" y="72" width="1508" height="3" fill="#808080"/>
<rect x="257.2" y="75" width="1506" height="2.7" fill="#c8c8c8"/>
<rect x="257.2" y="72" width="5.5" height="772" fill="#a8a8a8"/>
<rect x="1762" y="72" width="3.2" height="772" fill="#4a4a4a"/>
<rect x="259" y="841.2" width="1506" height="2.6" fill="#666"/>
<rect x="259" y="843.8" width="1506" height="3.4" fill="#eeeeee"/>
<rect x="1765.2" y="75" width="2.6" height="769" fill="#f1f1f1"/>
<rect x="355.2" y="834.8" width="3.2" height="6.5" fill="#6a6a6a"/>
<rect x="355.0" y="77.5" width="3.6" height="6.2" fill="#8a8a8a"/>
<rect x="424.9" y="834.8" width="3.2" height="6.5" fill="#6a6a6a"/>
<rect x="424.7" y="77.5" width="3.6" height="6.2" fill="#8a8a8a"/>
<rect x="479.0" y="834.8" width="3.2" height="6.5" fill="#6a6a6a"/>
<rect x="478.8" y="77.5" width="3.6" height="6.2" fill="#8a8a8a"/>
<rect x="523.1" y="834.8" width="3.2" height="6.5" fill="#6a6a6a"/>
<rect x="522.9" y="77.5" width="3.6" height="6.2" fill="#8a8a8a"/>
<rect x="560.5" y="834.8" width="3.2" height="6.5" fill="#6a6a6a"/>
<rect x="560.3" y="77.5" width="3.6" height="6.2" fill="#8a8a8a"/>
<rect x="592.8" y="834.8" width="3.2" height="6.5" fill="#6a6a6a"/>
<rect x="592.6" y="77.5" width="3.6" height="6.2" fill="#8a8a8a"/>
<rect x="621.4" y="834.8" width="3.2" height="6.5" fill="#6a6a6a"/>
<rect x="621.2" y="77.5" width="3.6" height="6.2" fill="#8a8a8a"/>
<rect x="646.8" y="826.7" width="3.4" height="14.6" fill="#707070"/>
<rect x="646.8" y="77.5" width="3.4" height="12.2" fill="#5a5a5a"/>
<rect x="814.8" y="834.8" width="3.2" height="6.5" fill="#6a6a6a"/>
<rect x="814.6" y="77.5" width="3.6" height="6.2" fill="#8a8a8a"/>
<rect x="913.1" y="834.8" width="3.2" height="6.5" fill="#6a6a6a"/>
<rect x="912.9" y="77.5" width="3.6" height="6.2" fill="#8a8a8a"/>
<rect x="982.8" y="834.8" width="3.2" height="6.5" fill="#6a6a6a"/>
<rect x="982.6" y="77.5" width="3.6" height="6.2" fill="#8a8a8a"/>
<rect x="1036.9" y="834.8" width="3.2" height="6.5" fill="#6a6a6a"/>
<rect x="1036.7" y="77.5" width="3.6" height="6.2" fill="#8a8a8a"/>
<rect x="1081.0" y="834.8" width="3.2" height="6.5" fill="#6a6a6a"/>
<rect x="1080.8" y="77.5" width="3.6" height="6.2" fill="#8a8a8a"/>
<rect x="1118.4" y="834.8" width="3.2" height="6.5" fill="#6a6a6a"/>
<rect x="1118.2" y="77.5" width="3.6" height="6.2" fill="#8a8a8a"/>
<rect x="1150.7" y="834.8" width="3.2" height="6.5" fill="#6a6a6a"/>
<rect x="1150.5" y="77.5" width="3.6" height="6.2" fill="#8a8a8a"/>
<rect x="1179.3" y="834.8" width="3.2" height="6.5" fill="#6a6a6a"/>
<rect x="1179.1" y="77.5" width="3.6" height="6.2" fill="#8a8a8a"/>
<rect x="1204.7" y="826.7" width="3.4" height="14.6" fill="#707070"/>
<rect x="1204.7" y="77.5" width="3.4" height="12.2" fill="#5a5a5a"/>
<rect x="1372.7" y="834.8" width="3.2" height="6.5" fill="#6a6a6a"/>
<rect x="1372.5" y="77.5" width="3.6" height="6.2" fill="#8a8a8a"/>
<rect x="1471.0" y="834.8" width="3.2" height="6.5" fill="#6a6a6a"/>
<rect x="1470.8" y="77.5" width="3.6" height="6.2" fill="#8a8a8a"/>
<rect x="1540.7" y="834.8" width="3.2" height="6.5" fill="#6a6a6a"/>
<rect x="1540.5" y="77.5" width="3.6" height="6.2" fill="#8a8a8a"/>
<rect x="1594.8" y="834.8" width="3.2" height="6.5" fill="#6a6a6a"/>
<rect x="1594.6" y="77.5" width="3.6" height="6.2" fill="#8a8a8a"/>
<rect x="1638.9" y="834.8" width="3.2" height="6.5" fill="#6a6a6a"/>
<rect x="1638.7" y="77.5" width="3.6" height="6.2" fill="#8a8a8a"/>
<rect x="1676.3" y="834.8" width="3.2" height="6.5" fill="#6a6a6a"/>
<rect x="1676.1" y="77.5" width="3.6" height="6.2" fill="#8a8a8a"/>
<rect x="1708.6" y="834.8" width="3.2" height="6.5" fill="#6a6a6a"/>
<rect x="1708.4" y="77.5" width="3.6" height="6.2" fill="#8a8a8a"/>
<rect x="1737.2" y="834.8" width="3.2" height="6.5" fill="#6a6a6a"/>
<rect x="1737.0" y="77.5" width="3.6" height="6.2" fill="#8a8a8a"/>
<rect x="262.7" y="328.1" width="12.2" height="5.4" fill="#999"/>
<rect x="1747.5" y="328.0" width="14.6" height="5.6" fill="#a0a0a0"/>
<rect x="262.7" y="584.0" width="12.2" height="5.4" fill="#999"/>
<rect x="1747.5" y="583.9" width="14.6" height="5.6" fill="#a0a0a0"/>
<g transform="translate(0 98.20) scale(1 1.0300)"><text x="182.89" y="0" font-size="66.0" font-family="'Liberation Sans', Arial, Helvetica, sans-serif" >60</text></g>
<g transform="translate(0 353.60) scale(1 1.0300)"><text x="182.89" y="0" font-size="66.0" font-family="'Liberation Sans', Arial, Helvetica, sans-serif" >30</text></g>
<g transform="translate(0 610.20) scale(1 1.0300)"><text x="219.59" y="0" font-size="66.0" font-family="'Liberation Sans', Arial, Helvetica, sans-serif" >0</text></g>
<g transform="translate(0 866.90) scale(1 1.0300)"><text x="160.91" y="0" font-size="66.0" font-family="'Liberation Sans', Arial, Helvetica, sans-serif" >-30</text></g>
<g transform="translate(0 905.70) scale(1 1.0300)"><text x="630.65" y="0" font-size="66.0" font-family="'Liberation Sans', Arial, Helvetica, sans-serif" >1</text><rect x="634.47" y="-6.33" width="12.77" height="7.03" fill="#fff"/><rect x="653.08" y="-6.33" width="12.25" height="7.03" fill="#fff"/></g>
<g transform="translate(0 905.70) scale(1 1.0300)"><text x="1170.19" y="0" font-size="66.0" font-family="'Liberation Sans', Arial, Helvetica, sans-serif" >10</text><rect x="1174.02" y="-6.33" width="12.77" height="7.03" fill="#fff"/><rect x="1192.62" y="-6.33" width="12.25" height="7.03" fill="#fff"/></g>
<g transform="translate(0 905.70) scale(1 1.0300)"><text x="1709.74" y="0" font-size="66.0" font-family="'Liberation Sans', Arial, Helvetica, sans-serif" >100</text><rect x="1713.57" y="-6.33" width="12.77" height="7.03" fill="#fff"/><rect x="1732.17" y="-6.33" width="12.25" height="7.03" fill="#fff"/></g>
<g transform="translate(0 967.00) scale(1 1.0630)"><text x="744.30" y="0" font-size="69.4" font-family="'Liberation Sans', Arial, Helvetica, sans-serif" >Frequency (GHz)</text></g>
<g transform="translate(110.30 603.80) rotate(-90)"><text x="0" y="0" font-size="70.8" font-family="'Liberation Sans', Arial, Helvetica, sans-serif" >|h<tspan font-size="54.0" dy="32.30">21</tspan><tspan dy="-32.30">| (dB)</tspan></text><rect x="90.71" y="26.87" width="10.67" height="6.13" fill="#fff"/><rect x="106.15" y="26.87" width="10.24" height="6.13" fill="#fff"/></g>
<rect x="297.7" y="335.1" width="194.9" height="307.4" fill="#fff" stroke="#666" stroke-width="2.8"/>
<rect x="296.3" y="640" width="197.9" height="5.3" fill="#a4a4a4"/>
<rect x="304.9" y="372.4" width="44.8" height="3.2" fill="#5a5aff"/>
<g transform="translate(0 398.50) scale(1 1.0400)"><text x="354.00" y="0" font-size="65.0" font-family="'Liberation Sans', Arial, Helvetica, sans-serif" >0 V</text></g>
<rect x="304.9" y="449.4" width="44.8" height="3.2" fill="#66ee66"/>
<g transform="translate(0 474.70) scale(1 1.0400)"><text x="354.00" y="0" font-size="65.0" font-family="'Liberation Sans', Arial, Helvetica, sans-serif" >10 V</text><rect x="357.75" y="-6.26" width="12.59" height="6.96" fill="#fff"/><rect x="376.09" y="-6.26" width="12.09" height="6.96" fill="#fff"/></g>
<rect x="304.9" y="524.4" width="44.8" height="3.2" fill="#f0c090"/>
<g transform="translate(0 550.50) scale(1 1.0400)"><text x="354.00" y="0" font-size="65.0" font-family="'Liberation Sans', Arial, Helvetica, sans-serif" >20 V</text></g>
<rect x="304.9" y="600.8" width="44.8" height="3.2" fill="#ff4a4a"/>
<g transform="translate(0 626.70) scale(1 1.0400)"><text x="354.00" y="0" font-size="65.0" font-family="'Liberation Sans', Arial, Helvetica, sans-serif" >30 V</text></g>
<rect x="1212.6" y="130.8" width="484.1" height="247" fill="#fff"/>
<path d="M424.3 265.7 L425.7 265.7 L427.0 265.7 L428.4 265.8 L429.7 265.8 L431.0 265.8 L432.4 265.8 L433.7 265.8 L435.1 265.8 L436.4 265.8 L437.8 265.8 L439.1 265.8 L440.5 265.8 L441.8 265.8 L443.1 265.8 L444.5 265.8 L445.8 265.8 L447.2 265.9 L448.5 265.9 L449.9 265.9 L451.2 265.9 L452.5 265.9 L453.9 265.9 L455.2 265.9 L456.6 265.9 L457.9 265.9 L459.3 265.9 L460.6 265.9 L462.0 265.9 L463.3 265.9 L464.6 265.9 L466.0 265.9 L467.3 266.0 L468.7 266.0 L470.0 266.0 L471.4 266.0 L472.7 266.0 L474.0 266.0 L475.4 266.0 L476.7 266.0 L478.1 266.0 L479.4 266.0 L480.8 266.0 L482.1 266.0 L483.5 266.0 L484.8 266.0 L486.1 266.0 L487.5 266.0 L488.8 266.0 L490.2 266.1 L491.5 266.1 L492.9 266.1 L494.2 266.1 L495.6 266.1 L496.9 266.1 L498.2 266.1 L499.6 266.1 L500.9 266.1 L502.3 266.1 L503.6 266.1 L505.0 266.1 L506.3 266.1 L507.6 266.1 L509.0 266.1 L510.3 266.1 L511.7 266.1 L513.0 266.1 L514.4 266.1 L515.7 266.2 L517.1 266.2 L518.4 266.2 L519.7 266.2 L521.1 266.2 L522.4 266.2 L523.8 266.2 L525.1 266.2 L526.5 266.2 L527.8 266.2 L529.1 266.2 L530.5 266.2 L531.8 266.2 L533.2 266.2 L534.5 266.2 L535.9 266.2 L537.2 266.2 L538.6 266.2 L539.9 266.2 L541.2 266.2 L542.6 266.2 L543.9 266.3 L545.3 266.3 L546.6 266.3 L548.0 266.3 L549.3 266.3 L550.6 266.3 L552.0 266.3 L553.3 266.3 L554.7 266.3 L556.0 266.3 L557.4 266.3 L558.7 266.3 L560.1 266.3 L561.4 266.3 L562.7 266.3 L564.1 266.3 L565.4 266.3 L566.8 266.3 L568.1 266.3 L569.5 266.3 L570.8 266.3 L572.1 266.3 L573.5 266.3 L574.8 266.3 L576.2 266.3 L577.5 266.4 L578.9 266.4 L580.2 266.4 L581.6 266.4 L582.9 266.4 L584.2 266.4 L585.6 266.4 L586.9 266.4 L588.3 266.4 L589.6 266.4 L591.0 266.4 L592.3 266.4 L593.7 266.4 L595.0 266.4 L596.3 266.4 L597.7 266.4 L599.0 266.4 L600.4 266.4 L601.7 266.4 L603.1 266.4 L604.4 266.4 L605.7 266.4 L607.1 266.4 L608.4 266.4 L609.8 266.4 L611.1 266.4 L612.5 266.4 L613.8 266.4 L615.2 266.4 L616.5 266.4 L617.8 266.4 L619.2 266.4 L620.5 266.5 L621.9 266.5 L623.2 266.5 L624.6 266.5 L625.9 266.5 L627.2 266.5 L628.6 266.5 L629.9 266.5 L631.3 266.5 L632.6 266.5 L634.0 266.5 L635.3 266.5 L636.7 266.5 L638.0 266.5 L639.3 266.5 L640.7 266.5 L642.0 266.5 L643.4 266.5 L644.7 266.5 L646.1 266.5 L647.4 266.5 L648.7 266.5 L650.1 266.5 L651.4 266.5 L652.8 266.5 L654.1 266.5 L655.5 266.5 L656.8 266.5 L658.2 266.5 L659.5 266.5 L660.8 266.5 L662.2 266.5 L663.5 266.5 L664.9 266.5 L666.2 266.5 L667.6 266.5 L668.9 266.5 L670.2 266.5 L671.6 266.5 L672.9 266.5 L674.3 266.5 L675.6 266.5 L677.0 266.5 L678.3 266.5 L679.7 266.5 L681.0 266.5 L682.3 266.5 L683.7 266.6 L685.0 266.6 L686.4 266.6 L687.7 266.6 L689.1 266.6 L690.4 266.6 L691.8 266.6 L693.1 266.6 L694.4 266.6 L695.8 266.6 L697.1 266.6 L698.5 266.6 L699.8 266.6 L701.2 266.6 L702.5 266.6 L703.8 266.6 L705.2 266.6 L706.5 266.6 L707.9 266.6 L709.2 266.6 L710.6 266.6 L711.9 266.6 L713.3 266.6 L714.6 266.6 L715.9 266.6 L717.3 266.6 L718.6 266.6 L720.0 266.6 L721.3 266.6 L722.7 266.6 L724.0 266.6 L725.3 266.6 L726.7 266.6 L728.0 266.6 L729.4 266.6 L730.7 266.6 L732.1 266.6 L733.4 266.6 L734.8 266.6 L736.1 266.6 L737.4 266.6 L738.8 266.6 L740.1 266.6 L741.5 266.6 L742.8 266.6 L744.2 266.6 L745.5 266.6 L746.8 266.6 L748.2 266.6 L749.5 266.6 L750.9 266.6 L752.2 266.6 L753.6 266.6 L754.9 266.6 L756.3 266.6 L757.6 266.6 L758.9 266.6 L760.3 266.6 L761.6 266.6 L763.0 266.6 L764.3 266.6 L765.7 266.6 L767.0 266.6 L768.3 266.6 L769.7 266.6 L771.0 266.6 L772.4 266.6 L773.7 266.6 L775.1 266.6 L776.4 266.6 L777.8 266.6 L779.1 266.6 L780.4 266.6 L781.8 266.6 L783.1 266.6 L784.5 266.6 L785.8 266.6 L787.2 266.6 L788.5 266.6 L789.9 266.6 L791.2 266.6 L792.5 266.6 L793.9 266.6 L795.2 266.6 L796.6 266.6 L797.9 266.6 L799.3 266.6 L800.6 266.6 L801.9 266.6 L803.3 266.6 L804.6 266.6 L806.0 266.6 L807.3 266.6 L808.7 266.6 L810.0 266.6 L811.4 266.6 L812.7 266.6 L814.0 266.6 L815.4 266.6 L816.7 266.6 L818.1 266.6 L819.4 266.6 L820.8 266.6 L822.1 266.6 L823.4 266.6 L824.8 266.6 L826.1 266.6 L827.5 266.6 L828.8 266.6 L830.2 266.6 L831.5 266.6 L832.9 266.6 L834.2 266.6 L835.5 266.6 L836.9 266.6 L838.2 266.6 L839.6 266.6 L840.9 266.6 L842.3 266.6 L843.6 266.6 L844.9 266.6 L846.3 266.6 L847.6 266.6 L849.0 266.6 L850.3 266.6 L851.7 266.6 L853.0 266.6 L854.4 266.6 L855.7 266.6 L857.0 266.6 L858.4 266.6 L859.7 266.6 L861.1 266.6 L862.4 266.6 L863.8 266.6 L865.1 266.6 L866.5 266.6 L867.8 266.6 L869.1 266.6 L870.5 266.6 L871.8 266.6 L873.2 266.6 L874.5 266.6 L875.9 266.6 L877.2 266.6 L878.5 266.6 L879.9 266.6 L881.2 266.6 L882.6 266.6 L883.9 266.6 L885.3 266.6 L886.6 266.6 L888.0 266.6 L889.3 266.6 L890.6 266.6 L892.0 266.6 L893.3 266.6 L894.7 266.6 L896.0 266.6 L897.4 266.6 L898.7 266.6 L900.0 266.6 L901.4 266.6 L902.7 266.6 L904.1 266.6 L905.4 266.6 L906.8 266.6 L908.1 266.6 L909.5 266.6 L910.8 266.6 L912.1 266.6 L913.5 266.6 L914.8 266.6 L916.2 266.6 L917.5 266.6 L918.9 266.6 L920.2 266.6 L921.5 266.6 L922.9 266.6 L924.2 266.6 L925.6 266.6 L926.9 266.6 L928.3 266.6 L929.6 266.6 L931.0 266.6 L932.3 266.6 L933.6 266.6 L935.0 266.6 L936.3 266.6 L937.7 266.6 L939.0 266.6 L940.4 266.6 L941.7 266.6 L943.1 266.6 L944.4 266.6 L945.7 266.6 L947.1 266.6 L948.4 266.6 L949.8 266.6 L951.1 266.6 L952.5 266.6 L953.8 266.6 L955.1 266.6 L956.5 266.6 L957.8 266.6 L959.2 266.6 L960.5 266.6 L961.9 266.6 L963.2 266.6 L964.6 266.6 L965.9 266.6 L967.2 266.6 L968.6 266.6 L969.9 266.6 L971.3 266.5 L972.6 266.5 L974.0 266.5 L975.3 266.5 L976.6 266.5 L978.0 266.5 L979.3 266.5 L980.7 266.5 L982.0 266.5 L983.4 266.5 L984.7 266.5 L986.1 266.5 L987.4 266.5 L988.7 266.5 L990.1 266.5 L991.4 266.5 L992.8 266.5 L994.1 266.5 L995.5 266.5 L996.8 266.5 L998.2 266.5 L999.5 266.5 L1000.8 266.5 L1002.2 266.5 L1003.5 266.5 L1004.9 266.5 L1006.2 266.5 L1007.6 266.5 L1008.9 266.5 L1010.2 266.5 L1011.6 266.5 L1012.9 266.5 L1014.3 266.5 L1015.6 266.5 L1017.0 266.5 L1018.3 266.5 L1019.7 266.5 L1021.0 266.5 L1022.3 266.5 L1023.7 266.5 L1025.0 266.5 L1026.4 266.5 L1027.7 266.5 L1029.1 266.5 L1030.4 266.5 L1031.7 266.5 L1033.1 266.5 L1034.4 266.5 L1035.8 266.5 L1037.1 266.5 L1038.5 266.5 L1039.8 266.5 L1041.2 266.5 L1042.5 266.5 L1043.8 266.5 L1045.2 266.5 L1046.5 266.5 L1047.9 266.5 L1049.2 266.5 L1050.6 266.5 L1051.9 266.5 L1053.3 266.5 L1054.6 266.5 L1055.9 266.5 L1057.3 266.5 L1058.6 266.5 L1060.0 266.5 L1061.3 266.5 L1062.7 266.5 L1064.0 266.5 L1065.3 266.5 L1066.7 266.5 L1068.0 266.5 L1069.4 266.5 L1070.7 266.5 L1072.1 266.4 L1073.4 266.4 L1074.8 266.4 L1076.1 266.4 L1077.4 266.4 L1078.8 266.4 L1080.1 266.4 L1081.5 266.4 L1082.8 266.4 L1084.2 266.4 L1085.5 266.4 L1086.8 266.4 L1088.2 266.4 L1089.5 266.4 L1090.9 266.4 L1092.2 266.4 L1093.6 266.4 L1094.9 266.4 L1096.3 266.4 L1097.6 266.4 L1098.9 266.4 L1100.3 266.4 L1101.6 266.4 L1103.0 266.4 L1104.3 266.4 L1105.7 266.3 L1107.0 266.3 L1108.3 266.3 L1109.7 266.3 L1111.0 266.3 L1112.4 266.3 L1113.7 266.3 L1115.1 266.3 L1116.4 266.3 L1117.8 266.3 L1119.1 266.3 L1120.4 266.3 L1121.8 266.3 L1123.1 266.3 L1124.5 266.3 L1125.8 266.2 L1127.2 266.2 L1128.5 266.2 L1129.8 266.2 L1131.2 266.2 L1132.5 266.2 L1133.9 266.2 L1135.2 266.2 L1136.6 266.2 L1137.9 266.2 L1139.3 266.2 L1140.6 266.2 L1141.9 266.2 L1143.3 266.2 L1144.6 266.2 L1146.0 266.2 L1147.3 266.1 L1148.7 266.1 L1150.0 266.1 L1151.3 266.1 L1152.7 266.1 L1154.0 266.1 L1155.4 266.1 L1156.7 266.1 L1158.1 266.1 L1159.4 266.1 L1160.7 266.1 L1162.1 266.1 L1163.4 266.1 L1164.8 266.1 L1166.1 266.2 L1167.5 266.2 L1168.8 266.2 L1170.2 266.2 L1171.5 266.2 L1172.8 266.2 L1174.2 266.2 L1175.5 266.2 L1176.9 266.2 L1178.2 266.2 L1179.6 266.3 L1180.9 266.3 L1182.2 266.3 L1183.6 266.3 L1184.9 266.3 L1186.3 266.4 L1187.6 266.4 L1189.0 266.4 L1190.3 266.4 L1191.6 266.5 L1193.0 266.5 L1194.3 266.5 L1195.7 266.6 L1197.0 266.6 L1198.4 266.6 L1199.7 266.7 L1201.1 266.7 L1202.4 266.7 L1203.7 266.8 L1205.1 266.8 L1206.4 266.9 L1207.8 266.9 L1209.1 267.0 L1210.5 267.0 L1211.8 267.1 L1213.1 267.1 L1214.5 267.2 L1215.8 267.3 L1217.2 267.3 L1218.5 267.4 L1219.9 267.5 L1221.2 267.5 L1222.5 267.6 L1223.9 267.7 L1225.2 267.8 L1226.6 267.8 L1227.9 267.9 L1229.3 268.0 L1230.6 268.1 L1231.9 268.2 L1233.3 268.3 L1234.6 268.4 L1235.9 268.5 L1237.3 268.6 L1238.6 268.7 L1240.0 268.8 L1241.3 268.9 L1242.6 269.0 L1244.0 269.2 L1245.3 269.3 L1246.6 269.4 L1248.0 269.5 L1249.3 269.7 L1250.6 269.8 L1251.9 270.0 L1253.3 270.1 L1254.6 270.3 L1255.9 270.4 L1257.2 270.6 L1258.6 270.7 L1259.9 270.9 L1261.2 271.1 L1262.5 271.3 L1263.8 271.4 L1265.1 271.6 L1266.5 271.8 L1267.8 272.0 L1269.1 272.2 L1270.4 272.4 L1271.7 272.6 L1273.0 272.8 L1274.3 273.1 L1275.6 273.3 L1276.9 273.5 L1278.2 273.7 L1279.5 274.0 L1280.8 274.2 L1282.1 274.5 L1283.4 274.7 L1284.7 275.0 L1285.9 275.3 L1287.2 275.5 L1288.5 275.8 L1289.8 276.1 L1291.1 276.4 L1292.3 276.7 L1293.6 277.0 L1294.9 277.3 L1296.2 277.6 L1297.4 277.9 L1298.7 278.3 L1300.0 278.6 L1301.2 278.9 L1302.5 279.3 L1303.7 279.6 L1305.0 280.0 L1306.2 280.3 L1307.5 280.7 L1308.7 281.1 L1310.0 281.4 L1311.2 281.8 L1312.4 282.2 L1313.7 282.6 L1314.9 283.0 L1316.1 283.4 L1317.4 283.8 L1318.6 284.2 L1319.8 284.6 L1321.0 285.0 L1322.3 285.4 L1323.5 285.8 L1324.7 286.3 L1325.9 286.7 L1327.1 287.1 L1328.3 287.6 L1329.5 288.0 L1330.7 288.4 L1331.9 288.9 L1333.1 289.3 L1334.3 289.8 L1335.5 290.2 L1336.7 290.7 L1337.9 291.2 L1339.1 291.6 L1340.3 292.1 L1341.4 292.6 L1342.6 293.1 L1343.8 293.5 L1345.0 294.0 L1346.1 294.5 L1347.3 295.0 L1348.5 295.5 L1349.6 296.0 L1350.8 296.5 L1352.0 297.0 L1353.1 297.5 L1354.3 298.0 L1355.4 298.5 L1356.6 299.0 L1357.7 299.5 L1358.9 300.0 L1360.0 300.5 L1361.1 301.0 L1362.3 301.5 L1363.4 302.1 L1364.5 302.6 L1365.7 303.1 L1366.8 303.6 L1367.9 304.1 L1369.0 304.7 L1370.1 305.2 L1371.2 305.7 L1372.4 306.2 L1373.5 306.8 L1374.6 307.3 L1375.7 307.8 L1376.8 308.4 L1377.9 308.9 L1379.0 309.4 L1380.1 310.0 L1381.2 310.5 L1382.3 311.0 L1383.3 311.6 L1384.4 312.1 L1385.5 312.6 L1386.6 313.2 L1387.7 313.7 L1388.8 314.3 L1389.9 314.8 L1391.0 315.3 L1392.1 315.9 L1393.2 316.4 L1394.3 316.9 L1395.4 317.5 L1396.5 318.0 L1397.6 318.6 L1398.7 319.1 L1399.8 319.6 L1400.9 320.2 L1402.0 320.7 L1403.1 321.2 L1404.2 321.8 L1405.4 322.3 L1406.5 322.8 L1407.6 323.4 L1408.7 323.9 L1409.9 324.4 L1411.0 325.0 L1412.2 325.5 L1413.3 326.0 L1414.5 326.6 L1415.6 327.1 L1416.8 327.6 L1417.9 328.2 L1419.1 328.7 L1420.3 329.2 L1421.5 329.7 L1422.7 330.2 L1423.9 330.7 L1425.1 331.3 L1426.3 331.8 L1427.5 332.2 L1428.7 332.7 L1429.9 333.2 L1431.2 333.7 L1432.4 334.1 L1433.6 334.5 L1434.9 335.0 L1436.1 335.4 L1437.4 335.7 L1438.6 336.1 L1439.9 336.5 L1441.1 336.8 L1442.4 337.1 L1443.6 337.4 L1444.9 337.6 L1446.2 337.9 L1447.5 338.1 L1448.7 338.2 L1450.0 338.4 L1451.3 338.5 L1452.6 338.6 L1453.8 338.7 L1455.1 338.7 L1456.4 338.8 L1457.7 338.8 L1459.0 338.7 L1460.3 338.7 L1461.6 338.6 L1462.9 338.5 L1464.2 338.4 L1465.4 338.3 L1466.7 338.1 L1468.0 337.9 L1469.3 337.7 L1470.6 337.5 L1471.9 337.3 L1473.2 337.1 L1474.5 336.8 L1475.8 336.5 L1477.0 336.2 L1478.3 335.9 L1479.6 335.6 L1480.9 335.3 L1482.2 335.0 L1483.4 334.6 L1484.7 334.2 L1486.0 333.9 L1487.3 333.5 L1488.5 333.1 L1489.8 332.7 L1491.1 332.3 L1492.3 331.9 L1493.6 331.5 L1494.8 331.0 L1496.1 330.6 L1497.3 330.2 L1498.5 329.7 L1499.8 329.3 L1501.0 328.8 L1502.2 328.4 L1503.5 328.0 L1504.7 327.5 L1505.9 327.0 L1507.1 326.6 L1508.3 326.1 L1509.5 325.7 L1510.7 325.2 L1511.9 324.8 L1513.1 324.3 L1514.3 323.8 L1515.4 323.3 L1516.6 322.9 L1517.8 322.4 L1519.0 321.9 L1520.1 321.4 L1521.3 321.0 L1522.4 320.5 L1523.6 320.0 L1524.8 319.5 L1525.9 319.0 L1527.0 318.5 L1528.2 318.0 L1529.3 317.5 L1530.5 317.0 L1531.6 316.5 L1532.7 316.0 L1533.9 315.5 L1535.0 315.0 L1536.1 314.5 L1537.2 314.0 L1538.4 313.5 L1539.5 313.0 L1540.6 312.5 L1541.7 311.9 L1542.8 311.4 L1543.9 310.9 L1545.0 310.4 L1546.1 309.8 L1547.2 309.3 L1548.3 308.8 L1549.4 308.2 L1550.5 307.7 L1551.6 307.2 L1552.7 306.6 L1553.8 306.1 L1554.9 305.5 L1556.0 305.0 L1557.0 304.4 L1558.1 303.9 L1559.2 303.3 L1560.3 302.8 L1561.4 302.2 L1562.5 301.6 L1563.5 301.1 L1564.6 300.5 L1565.7 299.9 L1566.8 299.4 L1567.8 298.8 L1568.9 298.2 L1570.0 297.6 L1571.1 297.1 L1572.1 296.5 L1573.2 295.9 L1574.3 295.3 L1575.3 294.7 L1576.4 294.1 L1577.5 293.5 L1578.5 292.9 L1579.6 292.3 L1580.6 291.7 L1581.7 291.1 L1582.7 290.5 L1583.8 289.9 L1584.8 289.3 L1585.9 288.6 L1586.9 288.0 L1587.9 287.4 L1589.0 286.8 L1590.0 286.1 L1591.0 285.5 L1592.0 284.8 L1593.0 284.2 L1594.0 283.6 L1595.0 282.9 L1596.0 282.2 L1597.0 281.6 L1598.0 280.9 L1599.0 280.3 L1600.0 279.6 L1600.9 278.9 L1601.9 278.2 L1602.8 277.6 L1603.8 276.9 L1604.7 276.2 L1605.6 275.5 L1606.6 274.8 L1607.5 274.1 L1608.4 273.4 L1609.3 272.7 L1610.2 271.9 L1611.1 271.2 L1612.0 270.5 L1612.8 269.8 L1613.7 269.0 L1614.6 268.3 L1615.4 267.5 L1616.2 266.8 L1617.1 266.0 L1617.9 265.3 L1618.7 264.5 L1619.5 263.7 L1620.3 263.0 L1621.1 262.2 L1621.9 261.4 L1622.7 260.6 L1623.4 259.8 L1624.2 259.1 L1624.9 258.3 L1625.7 257.5 L1626.4 256.7 L1627.1 255.9 L1627.9 255.0 L1628.6 254.2 L1629.3 253.4 L1630.0 252.6 L1630.7 251.8 L1631.4 250.9 L1632.0 250.1 L1632.7 249.3 L1633.4 248.4 L1634.0 247.6 L1634.7 246.8 L1635.3 245.9 L1635.9 245.1 L1636.6 244.2 L1637.2 243.4 L1637.8 242.5 L1638.4 241.6 L1639.0 240.8 L1639.6 239.9 L1640.2 239.0 L1640.7 238.2 L1641.3 237.3 L1641.9 236.4 L1642.4 235.5 L1643.0 234.6 L1643.5 233.7 L1644.0 232.9 L1644.6 232.0 L1645.1 231.1 L1645.6 230.2 L1646.1 229.3 L1646.6 228.4 L1647.1 227.5 L1647.6 226.6 L1648.1 225.7 L1648.5 224.7 L1649.0 223.8 L1649.5 222.9 L1649.9 222.0 L1650.3 221.1 L1650.8 220.2 L1651.2 219.2 L1651.6 218.3 L1652.1 217.4 L1652.5 216.5 L1652.9 215.5 L1653.3 214.6 L1653.7 213.7 L1654.0 212.7 L1654.4 211.8 L1654.8 210.9 L1655.2 209.9 L1655.5 209.0 L1655.9 208.1 L1656.2 207.1 L1656.6 206.2 L1656.9 205.2 L1657.2 204.3 L1657.6 203.3 L1657.9 202.4 L1658.2 201.4 L1658.5 200.5 L1658.8 199.6 L1659.1 198.6 L1659.4 197.7 L1659.6 196.8 L1659.9 195.8 L1660.2 194.9 L1660.4 194.0 L1660.7 193.1 L1660.9 192.2 L1661.2 191.3 L1661.4 190.4 L1661.7 189.6 L1661.9 188.7 L1662.1 187.8 L1662.4 186.9 L1662.6 186.0 L1662.8 185.1 L1663.0 184.1 L1663.3 183.2 L1663.5 182.1 L1663.8 181.1 L1664.0 180.0 L1664.3 178.8 L1664.6 177.6 L1664.9 176.5 L1665.3 175.5 L1665.8 174.6 L1666.5 174.1 L1667.4 173.9 L1668.5 174.0 L1669.6 174.5 L1670.6 175.1 L1671.6 175.8 L1672.5 176.7 L1673.3 177.5 L1674.1 178.4 L1674.9 179.2 L1675.6 180.0 L1676.2 180.8 L1676.7 181.7 L1677.1 182.6 L1677.5 183.5 L1677.8 184.4 L1678.0 185.3 L1678.2 186.3 L1678.3 187.3 L1678.5 188.3 L1678.6 189.3 L1678.7 190.3 L1678.8 191.3 L1678.9 192.2 L1679.1 193.2 L1679.3 194.1 L1679.6 195.1 L1679.9 196.0" fill="none" stroke="#3838ff" stroke-width="2.6" stroke-linejoin="round" clip-path="url(#ci)"/>
<path d="M424.3 -14.9 L425.6 -14.6 L426.8 -14.3 L428.1 -14.1 L429.4 -13.8 L430.7 -13.5 L432.0 -13.3 L433.3 -13.0 L434.6 -12.7 L435.9 -12.5 L437.2 -12.2 L438.5 -11.9 L439.7 -11.6 L441.0 -11.4 L442.3 -11.1 L443.6 -10.8 L444.9 -10.6 L446.2 -10.3 L447.5 -10.0 L448.8 -9.8 L450.1 -9.5 L451.4 -9.2 L452.6 -8.9 L453.9 -8.7 L455.2 -8.4 L456.5 -8.1 L457.8 -7.9 L459.1 -7.6 L460.4 -7.3 L461.7 -7.1 L463.0 -6.8 L464.2 -6.5 L465.5 -6.2 L466.8 -6.0 L468.1 -5.7 L469.4 -5.4 L470.7 -5.1 L472.0 -4.9 L473.3 -4.6 L474.5 -4.3 L475.8 -4.1 L477.1 -3.8 L478.4 -3.5 L479.7 -3.2 L481.0 -3.0 L482.3 -2.7 L483.6 -2.4 L484.8 -2.1 L486.1 -1.9 L487.4 -1.6 L488.7 -1.3 L490.0 -1.0 L491.3 -0.8 L492.6 -0.5 L493.9 -0.2 L495.1 0.1 L496.4 0.3 L497.7 0.6 L499.0 0.9 L500.3 1.2 L501.6 1.4 L502.9 1.7 L504.2 2.0 L505.4 2.3 L506.7 2.6 L508.0 2.8 L509.3 3.1 L510.6 3.4 L511.9 3.7 L513.2 3.9 L514.4 4.2 L515.7 4.5 L517.0 4.8 L518.3 5.1 L519.6 5.3 L520.9 5.6 L522.2 5.9 L523.5 6.2 L524.7 6.4 L526.0 6.7 L527.3 7.0 L528.6 7.3 L529.9 7.6 L531.2 7.8 L532.5 8.1 L533.7 8.4 L535.0 8.7 L536.3 9.0 L537.6 9.2 L538.9 9.5 L540.2 9.8 L541.4 10.1 L542.7 10.3 L544.0 10.6 L545.3 10.9 L546.6 11.2 L547.9 11.5 L549.2 11.8 L550.4 12.0 L551.7 12.3 L553.0 12.6 L554.3 12.9 L555.6 13.2 L556.9 13.4 L558.2 13.7 L559.4 14.0 L560.7 14.3 L562.0 14.6 L563.3 14.8 L564.6 15.1 L565.9 15.4 L567.1 15.7 L568.4 16.0 L569.7 16.2 L571.0 16.5 L572.3 16.8 L573.6 17.1 L574.9 17.4 L576.1 17.7 L577.4 17.9 L578.7 18.2 L580.0 18.5 L581.3 18.8 L582.6 19.1 L583.8 19.4 L585.1 19.6 L586.4 19.9 L587.7 20.2 L589.0 20.5 L590.3 20.8 L591.6 21.1 L592.8 21.3 L594.1 21.6 L595.4 21.9 L596.7 22.2 L598.0 22.5 L599.3 22.8 L600.5 23.0 L601.8 23.3 L603.1 23.6 L604.4 23.9 L605.7 24.2 L607.0 24.5 L608.2 24.7 L609.5 25.0 L610.8 25.3 L612.1 25.6 L613.4 25.9 L614.7 26.2 L615.9 26.4 L617.2 26.7 L618.5 27.0 L619.8 27.3 L621.1 27.6 L622.4 27.9 L623.6 28.1 L624.9 28.4 L626.2 28.7 L627.5 29.0 L628.8 29.3 L630.1 29.6 L631.3 29.9 L632.6 30.1 L633.9 30.4 L635.2 30.7 L636.5 31.0 L637.8 31.3 L639.0 31.6 L640.3 31.8 L641.6 32.1 L642.9 32.4 L644.2 32.7 L645.5 33.0 L646.7 33.3 L648.0 33.6 L649.3 33.8 L650.6 34.1 L651.9 34.4 L653.2 34.7 L654.4 35.0 L655.7 35.3 L657.0 35.6 L658.3 35.8 L659.6 36.1 L660.9 36.4 L662.1 36.7 L663.4 37.0 L664.7 37.3 L666.0 37.6 L667.3 37.8 L668.6 38.1 L669.8 38.4 L671.1 38.7 L672.4 39.0 L673.7 39.3 L675.0 39.6 L676.2 39.8 L677.5 40.1 L678.8 40.4 L680.1 40.7 L681.4 41.0 L682.7 41.3 L683.9 41.6 L685.2 41.8 L686.5 42.1 L687.8 42.4 L689.1 42.7 L690.4 43.0 L691.6 43.3 L692.9 43.6 L694.2 43.8 L695.5 44.1 L696.8 44.4 L698.1 44.7 L699.3 45.0 L700.6 45.3 L701.9 45.6 L703.2 45.8 L704.5 46.1 L705.8 46.4 L707.0 46.7 L708.3 47.0 L709.6 47.3 L710.9 47.6 L712.2 47.8 L713.5 48.1 L714.7 48.4 L716.0 48.7 L717.3 49.0 L718.6 49.3 L719.9 49.6 L721.2 49.8 L722.4 50.1 L723.7 50.4 L725.0 50.7 L726.3 51.0 L727.6 51.3 L728.8 51.6 L730.1 51.8 L731.4 52.1 L732.7 52.4 L734.0 52.7 L735.3 53.0 L736.5 53.3 L737.8 53.6 L739.1 53.8 L740.4 54.1 L741.7 54.4 L743.0 54.7 L744.2 55.0 L745.5 55.3 L746.8 55.5 L748.1 55.8 L749.4 56.1 L750.7 56.4 L751.9 56.7 L753.2 57.0 L754.5 57.3 L755.8 57.5 L757.1 57.8 L758.4 58.1 L759.6 58.4 L760.9 58.7 L762.2 59.0 L763.5 59.2 L764.8 59.5 L766.1 59.8 L767.3 60.1 L768.6 60.4 L769.9 60.7 L771.2 61.0 L772.5 61.2 L773.8 61.5 L775.0 61.8 L776.3 62.1 L777.6 62.4 L778.9 62.7 L780.2 62.9 L781.5 63.2 L782.7 63.5 L784.0 63.8 L785.3 64.1 L786.6 64.4 L787.9 64.6 L789.2 64.9 L790.5 65.2 L791.7 65.5 L793.0 65.8 L794.3 66.1 L795.6 66.3 L796.9 66.6 L798.2 66.9 L799.4 67.2 L800.7 67.5 L802.0 67.8 L803.3 68.0 L804.6 68.3 L805.9 68.6 L807.1 68.9 L808.4 69.2 L809.7 69.4 L811.0 69.7 L812.3 70.0 L813.6 70.3 L814.9 70.6 L816.1 70.9 L817.4 71.1 L818.7 71.4 L820.0 71.7 L821.3 72.0 L822.6 72.3 L823.8 72.5 L825.1 72.8 L826.4 73.1 L827.7 73.4 L829.0 73.7 L830.3 74.0 L831.6 74.2 L832.8 74.5 L834.1 74.8 L835.4 75.1 L836.7 75.4 L838.0 75.6 L839.3 75.9 L840.5 76.2 L841.8 76.5 L843.1 76.8 L844.4 77.0 L845.7 77.3 L847.0 77.6 L848.3 77.9 L849.5 78.2 L850.8 78.4 L852.1 78.7 L853.4 79.0 L854.7 79.3 L856.0 79.5 L857.3 79.8 L858.5 80.1 L859.8 80.4 L861.1 80.7 L862.4 80.9 L863.7 81.2 L865.0 81.5 L866.3 81.8 L867.5 82.0 L868.8 82.3 L870.1 82.6 L871.4 82.9 L872.7 83.2 L874.0 83.4 L875.3 83.7 L876.6 84.0 L877.8 84.3 L879.1 84.5 L880.4 84.8 L881.7 85.1 L883.0 85.4 L884.3 85.6 L885.6 85.9 L886.8 86.2 L888.1 86.5 L889.4 86.8 L890.7 87.0 L892.0 87.3 L893.3 87.6 L894.6 87.9 L895.9 88.1 L897.1 88.4 L898.4 88.7 L899.7 89.0 L901.0 89.2 L902.3 89.5 L903.6 89.8 L904.9 90.0 L906.2 90.3 L907.4 90.6 L908.7 90.9 L910.0 91.1 L911.3 91.4 L912.6 91.7 L913.9 92.0 L915.2 92.2 L916.5 92.5 L917.7 92.8 L919.0 93.1 L920.3 93.3 L921.6 93.6 L922.9 93.9 L924.2 94.1 L925.5 94.4 L926.8 94.7 L928.1 95.0 L929.3 95.2 L930.6 95.5 L931.9 95.8 L933.2 96.0 L934.5 96.3 L935.8 96.6 L937.1 96.8 L938.4 97.1 L939.7 97.4 L940.9 97.7 L942.2 97.9 L943.5 98.2 L944.8 98.5 L946.1 98.7 L947.4 99.0 L948.7 99.3 L950.0 99.5 L951.3 99.8 L952.6 100.1 L953.8 100.3 L955.1 100.6 L956.4 100.9 L957.7 101.1 L959.0 101.4 L960.3 101.7 L961.6 102.0 L962.9 102.2 L964.2 102.5 L965.5 102.8 L966.7 103.0 L968.0 103.3 L969.3 103.6 L970.6 103.8 L971.9 104.1 L973.2 104.4 L974.5 104.6 L975.8 104.9 L977.1 105.2 L978.4 105.4 L979.7 105.7 L980.9 106.0 L982.2 106.2 L983.5 106.5 L984.8 106.8 L986.1 107.0 L987.4 107.3 L988.7 107.6 L990.0 107.8 L991.3 108.1 L992.6 108.4 L993.9 108.6 L995.1 108.9 L996.4 109.2 L997.7 109.4 L999.0 109.7 L1000.3 110.0 L1001.6 110.2 L1002.9 110.5 L1004.2 110.8 L1005.5 111.0 L1006.7 111.3 L1008.0 111.6 L1009.3 111.8 L1010.6 112.1 L1011.9 112.4 L1013.2 112.7 L1014.5 112.9 L1015.8 113.2 L1017.1 113.5 L1018.4 113.7 L1019.6 114.0 L1020.9 114.3 L1022.2 114.5 L1023.5 114.8 L1024.8 115.1 L1026.1 115.4 L1027.4 115.6 L1028.7 115.9 L1029.9 116.2 L1031.2 116.5 L1032.5 116.7 L1033.8 117.0 L1035.1 117.3 L1036.4 117.6 L1037.7 117.8 L1039.0 118.1 L1040.2 118.4 L1041.5 118.7 L1042.8 118.9 L1044.1 119.2 L1045.4 119.5 L1046.7 119.8 L1047.9 120.1 L1049.2 120.3 L1050.5 120.6 L1051.8 120.9 L1053.1 121.2 L1054.4 121.5 L1055.7 121.8 L1056.9 122.0 L1058.2 122.3 L1059.5 122.6 L1060.8 122.9 L1062.1 123.2 L1063.4 123.5 L1064.6 123.8 L1065.9 124.0 L1067.2 124.3 L1068.5 124.6 L1069.8 124.9 L1071.0 125.2 L1072.3 125.5 L1073.6 125.8 L1074.9 126.1 L1076.2 126.4 L1077.4 126.7 L1078.7 126.9 L1080.0 127.2 L1081.3 127.5 L1082.6 127.8 L1083.8 128.1 L1085.1 128.4 L1086.4 128.7 L1087.7 129.0 L1088.9 129.3 L1090.2 129.6 L1091.5 129.9 L1092.8 130.2 L1094.0 130.5 L1095.3 130.8 L1096.6 131.1 L1097.9 131.4 L1099.2 131.7 L1100.4 132.0 L1101.7 132.3 L1103.0 132.6 L1104.3 132.9 L1105.5 133.2 L1106.8 133.5 L1108.1 133.8 L1109.4 134.1 L1110.7 134.4 L1111.9 134.7 L1113.2 135.0 L1114.5 135.2 L1115.8 135.5 L1117.1 135.8 L1118.3 136.1 L1119.6 136.4 L1120.9 136.7 L1122.2 136.9 L1123.5 137.2 L1124.8 137.5 L1126.0 137.8 L1127.3 138.1 L1128.6 138.3 L1129.9 138.6 L1131.2 138.9 L1132.5 139.1 L1133.8 139.4 L1135.1 139.7 L1136.3 139.9 L1137.6 140.2 L1138.9 140.4 L1140.2 140.7 L1141.5 140.9 L1142.8 141.2 L1144.1 141.4 L1145.4 141.7 L1146.7 141.9 L1148.0 142.1 L1149.3 142.4 L1150.6 142.6 L1151.9 142.8 L1153.2 143.0 L1154.5 143.3 L1155.9 143.5 L1157.2 143.7 L1158.5 143.9 L1159.8 144.1 L1161.1 144.3 L1162.4 144.5 L1163.7 144.7 L1165.1 144.9 L1166.4 145.1 L1167.7 145.2 L1169.0 145.4 L1170.4 145.6 L1171.7 145.8 L1173.0 145.9 L1174.3 146.1 L1175.7 146.2 L1177.0 146.4 L1178.3 146.6 L1179.7 146.7 L1181.0 146.8 L1182.4 147.0 L1183.7 147.1 L1185.0 147.3 L1186.4 147.4 L1187.7 147.6 L1189.0 147.7 L1190.4 147.8 L1191.7 148.0 L1193.0 148.1 L1194.4 148.3 L1195.7 148.4 L1197.0 148.6 L1198.4 148.7 L1199.7 148.9 L1201.0 149.1 L1202.4 149.2 L1203.7 149.4 L1205.0 149.6 L1206.3 149.8 L1207.6 149.9 L1208.9 150.1 L1210.3 150.3 L1211.6 150.5 L1212.9 150.8 L1214.2 151.0 L1215.5 151.2 L1216.8 151.4 L1218.0 151.7 L1219.3 151.9 L1220.6 152.2 L1221.9 152.5 L1223.2 152.7 L1224.4 153.0 L1225.7 153.3 L1227.0 153.6 L1228.3 153.8 L1229.5 154.1 L1230.8 154.4 L1232.1 154.7 L1233.4 155.0 L1234.6 155.3 L1235.9 155.5 L1237.2 155.8 L1238.5 156.1 L1239.8 156.4 L1241.0 156.7 L1242.3 156.9 L1243.6 157.2 L1244.9 157.5 L1246.2 157.7 L1247.5 158.0 L1248.8 158.2 L1250.1 158.5 L1251.4 158.7 L1252.7 159.0 L1254.0 159.2 L1255.3 159.4 L1256.6 159.6 L1258.0 159.9 L1259.3 160.1 L1260.6 160.3 L1261.9 160.5 L1263.2 160.8 L1264.5 161.0 L1265.9 161.2 L1267.2 161.4 L1268.5 161.6 L1269.8 161.8 L1271.1 162.1 L1272.5 162.3 L1273.8 162.5 L1275.1 162.7 L1276.4 162.9 L1277.7 163.1 L1279.1 163.4 L1280.4 163.6 L1281.7 163.8 L1283.0 164.0 L1284.3 164.3 L1285.6 164.5 L1287.0 164.7 L1288.3 165.0 L1289.6 165.2 L1290.9 165.4 L1292.2 165.7 L1293.5 165.9 L1294.8 166.2 L1296.1 166.5 L1297.4 166.7 L1298.7 167.0 L1299.9 167.3 L1301.2 167.5 L1302.5 167.8 L1303.8 168.1 L1305.1 168.4 L1306.3 168.7 L1307.6 169.0 L1308.9 169.3 L1310.1 169.7 L1311.4 170.0 L1312.6 170.3 L1313.9 170.7 L1315.1 171.0 L1316.3 171.4 L1317.6 171.7 L1318.8 172.1 L1320.0 172.5 L1321.3 172.8 L1322.5 173.2 L1323.7 173.6 L1324.9 174.0 L1326.1 174.4 L1327.4 174.8 L1328.6 175.2 L1329.8 175.6 L1331.0 176.0 L1332.2 176.4 L1333.4 176.9 L1334.6 177.3 L1335.8 177.7 L1336.9 178.2 L1338.1 178.6 L1339.3 179.0 L1340.5 179.5 L1341.7 179.9 L1342.8 180.4 L1344.0 180.9 L1345.2 181.3 L1346.4 181.8 L1347.5 182.3 L1348.7 182.7 L1349.8 183.2 L1351.0 183.7 L1352.2 184.2 L1353.3 184.7 L1354.5 185.2 L1355.6 185.7 L1356.8 186.2 L1357.9 186.7 L1359.1 187.2 L1360.2 187.7 L1361.3 188.2 L1362.5 188.7 L1363.6 189.2 L1364.8 189.7 L1365.9 190.2 L1367.0 190.8 L1368.2 191.3 L1369.3 191.8 L1370.4 192.3 L1371.5 192.9 L1372.7 193.4 L1373.8 193.9 L1374.9 194.5 L1376.0 195.0 L1377.2 195.5 L1378.3 196.1 L1379.4 196.6 L1380.5 197.2 L1381.6 197.7 L1382.8 198.3 L1383.9 198.8 L1385.0 199.3 L1386.1 199.9 L1387.2 200.4 L1388.3 201.0 L1389.4 201.5 L1390.5 202.1 L1391.6 202.6 L1392.8 203.2 L1393.9 203.7 L1395.0 204.3 L1396.1 204.8 L1397.2 205.4 L1398.3 206.0 L1399.4 206.5 L1400.5 207.1 L1401.6 207.6 L1402.7 208.2 L1403.8 208.7 L1404.9 209.3 L1406.0 209.9 L1407.1 210.4 L1408.2 211.0 L1409.3 211.5 L1410.4 212.1 L1411.5 212.7 L1412.6 213.2 L1413.7 213.8 L1414.8 214.3 L1415.9 214.9 L1416.9 215.5 L1418.0 216.0 L1419.1 216.6 L1420.2 217.2 L1421.3 217.7 L1422.4 218.3 L1423.5 218.9 L1424.6 219.4 L1425.7 220.0 L1426.8 220.6 L1427.8 221.1 L1428.9 221.7 L1430.0 222.3 L1431.1 222.8 L1432.2 223.4 L1433.3 224.0 L1434.3 224.5 L1435.4 225.1 L1436.5 225.7 L1437.6 226.2 L1438.7 226.8 L1439.8 227.4 L1440.8 227.9 L1441.9 228.5 L1443.0 229.1 L1444.1 229.6 L1445.2 230.2 L1446.2 230.8 L1447.3 231.3 L1448.4 231.9 L1449.5 232.4 L1450.6 233.0 L1451.6 233.6 L1452.7 234.1 L1453.8 234.7 L1454.9 235.3 L1455.9 235.8 L1457.0 236.4 L1458.1 237.0 L1459.2 237.5 L1460.2 238.1 L1461.3 238.7 L1462.4 239.2 L1463.5 239.8 L1464.5 240.3 L1465.6 240.9 L1466.7 241.5 L1467.7 242.0 L1468.8 242.6 L1469.9 243.1 L1471.0 243.7 L1472.0 244.3 L1473.1 244.8 L1474.2 245.4 L1475.3 245.9 L1476.3 246.5 L1477.4 247.0 L1478.5 247.6 L1479.6 248.1 L1480.7 248.7 L1481.7 249.2 L1482.8 249.8 L1483.9 250.3 L1485.0 250.9 L1486.1 251.4 L1487.2 252.0 L1488.3 252.5 L1489.3 253.1 L1490.4 253.6 L1491.5 254.2 L1492.6 254.7 L1493.7 255.3 L1494.9 255.8 L1496.0 256.3 L1497.1 256.9 L1498.2 257.4 L1499.3 257.9 L1500.4 258.5 L1501.5 259.0 L1502.7 259.5 L1503.8 260.1 L1504.9 260.6 L1506.1 261.1 L1507.2 261.6 L1508.4 262.2 L1509.5 262.7 L1510.7 263.2 L1511.8 263.7 L1513.0 264.3 L1514.1 264.8 L1515.3 265.3 L1516.5 265.8 L1517.7 266.3 L1518.8 266.8 L1520.0 267.3 L1521.2 267.8 L1522.4 268.3 L1523.6 268.8 L1524.8 269.3 L1526.0 269.7 L1527.2 270.2 L1528.5 270.7 L1529.7 271.1 L1530.9 271.5 L1532.1 272.0 L1533.4 272.4 L1534.6 272.8 L1535.9 273.2 L1537.1 273.5 L1538.4 273.9 L1539.6 274.3 L1540.9 274.6 L1542.2 274.9 L1543.4 275.2 L1544.7 275.5 L1546.0 275.7 L1547.3 276.0 L1548.6 276.2 L1549.9 276.4 L1551.2 276.6 L1552.5 276.7 L1553.8 276.8 L1555.1 277.0 L1556.4 277.0 L1557.7 277.1 L1559.0 277.2 L1560.4 277.2 L1561.7 277.2 L1563.0 277.2 L1564.3 277.1 L1565.6 277.1 L1567.0 277.0 L1568.3 276.9 L1569.6 276.8 L1570.9 276.7 L1572.2 276.5 L1573.5 276.3 L1574.8 276.1 L1576.1 275.9 L1577.4 275.7 L1578.7 275.4 L1580.0 275.2 L1581.3 274.9 L1582.5 274.6 L1583.8 274.3 L1585.1 273.9 L1586.3 273.6 L1587.5 273.2 L1588.8 272.8 L1590.0 272.4 L1591.2 272.0 L1592.4 271.5 L1593.6 271.1 L1594.7 270.6 L1595.9 270.1 L1597.1 269.6 L1598.2 269.1 L1599.3 268.5 L1600.4 268.0 L1601.5 267.4 L1602.6 266.9 L1603.7 266.3 L1604.7 265.7 L1605.7 265.0 L1606.7 264.4 L1607.7 263.7 L1608.7 263.1 L1609.7 262.4 L1610.6 261.7 L1611.5 261.0 L1612.4 260.3 L1613.3 259.6 L1614.2 258.9 L1615.1 258.1 L1615.9 257.4 L1616.8 256.6 L1617.6 255.8 L1618.4 255.1 L1619.2 254.3 L1620.0 253.5 L1620.7 252.7 L1621.5 251.9 L1622.3 251.0 L1623.0 250.2 L1623.7 249.4 L1624.5 248.6 L1625.2 247.7 L1625.9 246.9 L1626.6 246.0 L1627.3 245.2 L1627.9 244.3 L1628.6 243.5 L1629.3 242.6 L1629.9 241.8 L1630.6 240.9 L1631.2 240.1 L1631.9 239.2 L1632.5 238.3 L1633.2 237.5 L1633.8 236.6 L1634.4 235.8 L1635.1 234.9 L1635.7 234.1 L1636.3 233.2 L1636.9 232.4 L1637.6 231.5 L1638.2 230.7 L1638.8 229.8 L1639.4 229.0 L1640.0 228.2 L1640.6 227.3 L1641.2 226.5 L1641.8 225.7 L1642.4 224.8 L1643.0 224.0 L1643.6 223.2 L1644.2 222.3 L1644.8 221.5 L1645.4 220.7 L1645.9 219.8 L1646.5 219.0 L1647.1 218.1 L1647.6 217.3 L1648.2 216.4 L1648.7 215.6 L1649.2 214.7 L1649.8 213.9 L1650.3 213.0 L1650.8 212.1 L1651.3 211.2 L1651.8 210.4 L1652.3 209.5 L1652.8 208.6 L1653.3 207.7 L1653.8 206.8 L1654.2 205.9 L1654.7 205.0 L1655.1 204.0 L1655.6 203.1 L1656.0 202.2 L1656.4 201.2 L1656.8 200.3 L1657.2 199.3 L1657.6 198.3 L1658.0 197.4 L1658.4 196.4 L1658.7 195.4 L1659.1 194.4 L1659.4 193.3 L1659.7 192.3 L1660.1 191.3 L1660.4 190.3 L1660.8 189.3 L1661.3 188.3 L1661.7 187.4 L1662.3 186.5 L1662.9 185.7 L1663.6 184.9 L1664.4 184.2 L1665.3 183.7 L1666.3 183.2 L1667.3 182.9 L1668.4 182.7 L1669.5 182.8 L1670.7 183.0 L1671.7 183.5 L1672.8 184.1 L1673.7 184.8 L1674.6 185.6 L1675.4 186.4 L1676.1 187.3 L1676.7 188.2 L1677.1 189.2 L1677.5 190.1 L1677.8 191.1 L1678.1 192.1 L1678.3 193.0 L1678.4 194.0 L1678.5 195.0 L1678.6 196.0 L1678.7 196.9 L1678.8 197.9 L1678.9 198.9 L1679.1 199.8 L1679.2 200.8 L1679.4 201.7 L1679.7 202.6 L1680.0 203.5" fill="none" stroke="#30ea30" stroke-width="2.6" stroke-linejoin="round" clip-path="url(#ci)"/>
<path d="M424.3 -13.0 L425.6 -12.7 L426.9 -12.4 L428.2 -12.1 L429.5 -11.9 L430.8 -11.6 L432.0 -11.3 L433.3 -11.1 L434.6 -10.8 L435.9 -10.5 L437.2 -10.3 L438.5 -10.0 L439.8 -9.7 L441.1 -9.4 L442.4 -9.2 L443.6 -8.9 L444.9 -8.6 L446.2 -8.4 L447.5 -8.1 L448.8 -7.8 L450.1 -7.5 L451.4 -7.3 L452.7 -7.0 L454.0 -6.7 L455.2 -6.4 L456.5 -6.2 L457.8 -5.9 L459.1 -5.6 L460.4 -5.4 L461.7 -5.1 L463.0 -4.8 L464.3 -4.5 L465.6 -4.3 L466.8 -4.0 L468.1 -3.7 L469.4 -3.4 L470.7 -3.2 L472.0 -2.9 L473.3 -2.6 L474.6 -2.3 L475.9 -2.1 L477.1 -1.8 L478.4 -1.5 L479.7 -1.2 L481.0 -1.0 L482.3 -0.7 L483.6 -0.4 L484.9 -0.1 L486.2 0.1 L487.4 0.4 L488.7 0.7 L490.0 1.0 L491.3 1.2 L492.6 1.5 L493.9 1.8 L495.2 2.1 L496.5 2.4 L497.7 2.6 L499.0 2.9 L500.3 3.2 L501.6 3.5 L502.9 3.7 L504.2 4.0 L505.5 4.3 L506.7 4.6 L508.0 4.9 L509.3 5.1 L510.6 5.4 L511.9 5.7 L513.2 6.0 L514.5 6.2 L515.8 6.5 L517.0 6.8 L518.3 7.1 L519.6 7.4 L520.9 7.6 L522.2 7.9 L523.5 8.2 L524.8 8.5 L526.0 8.7 L527.3 9.0 L528.6 9.3 L529.9 9.6 L531.2 9.9 L532.5 10.1 L533.8 10.4 L535.0 10.7 L536.3 11.0 L537.6 11.3 L538.9 11.5 L540.2 11.8 L541.5 12.1 L542.8 12.4 L544.0 12.7 L545.3 12.9 L546.6 13.2 L547.9 13.5 L549.2 13.8 L550.5 14.1 L551.8 14.3 L553.0 14.6 L554.3 14.9 L555.6 15.2 L556.9 15.5 L558.2 15.8 L559.5 16.0 L560.8 16.3 L562.0 16.6 L563.3 16.9 L564.6 17.2 L565.9 17.4 L567.2 17.7 L568.5 18.0 L569.8 18.3 L571.0 18.6 L572.3 18.8 L573.6 19.1 L574.9 19.4 L576.2 19.7 L577.5 20.0 L578.7 20.3 L580.0 20.5 L581.3 20.8 L582.6 21.1 L583.9 21.4 L585.2 21.7 L586.5 22.0 L587.7 22.2 L589.0 22.5 L590.3 22.8 L591.6 23.1 L592.9 23.4 L594.2 23.6 L595.4 23.9 L596.7 24.2 L598.0 24.5 L599.3 24.8 L600.6 25.1 L601.9 25.3 L603.2 25.6 L604.4 25.9 L605.7 26.2 L607.0 26.5 L608.3 26.8 L609.6 27.0 L610.9 27.3 L612.1 27.6 L613.4 27.9 L614.7 28.2 L616.0 28.5 L617.3 28.7 L618.6 29.0 L619.8 29.3 L621.1 29.6 L622.4 29.9 L623.7 30.2 L625.0 30.5 L626.3 30.7 L627.6 31.0 L628.8 31.3 L630.1 31.6 L631.4 31.9 L632.7 32.2 L634.0 32.4 L635.3 32.7 L636.5 33.0 L637.8 33.3 L639.1 33.6 L640.4 33.9 L641.7 34.1 L643.0 34.4 L644.2 34.7 L645.5 35.0 L646.8 35.3 L648.1 35.6 L649.4 35.9 L650.7 36.1 L651.9 36.4 L653.2 36.7 L654.5 37.0 L655.8 37.3 L657.1 37.6 L658.4 37.8 L659.7 38.1 L660.9 38.4 L662.2 38.7 L663.5 39.0 L664.8 39.3 L666.1 39.6 L667.4 39.8 L668.6 40.1 L669.9 40.4 L671.2 40.7 L672.5 41.0 L673.8 41.3 L675.1 41.5 L676.3 41.8 L677.6 42.1 L678.9 42.4 L680.2 42.7 L681.5 43.0 L682.8 43.3 L684.0 43.5 L685.3 43.8 L686.6 44.1 L687.9 44.4 L689.2 44.7 L690.5 45.0 L691.7 45.2 L693.0 45.5 L694.3 45.8 L695.6 46.1 L696.9 46.4 L698.2 46.7 L699.4 47.0 L700.7 47.2 L702.0 47.5 L703.3 47.8 L704.6 48.1 L705.9 48.4 L707.2 48.7 L708.4 49.0 L709.7 49.2 L711.0 49.5 L712.3 49.8 L713.6 50.1 L714.9 50.4 L716.1 50.7 L717.4 50.9 L718.7 51.2 L720.0 51.5 L721.3 51.8 L722.6 52.1 L723.8 52.4 L725.1 52.7 L726.4 52.9 L727.7 53.2 L729.0 53.5 L730.3 53.8 L731.5 54.1 L732.8 54.4 L734.1 54.6 L735.4 54.9 L736.7 55.2 L738.0 55.5 L739.2 55.8 L740.5 56.1 L741.8 56.4 L743.1 56.6 L744.4 56.9 L745.7 57.2 L746.9 57.5 L748.2 57.8 L749.5 58.1 L750.8 58.3 L752.1 58.6 L753.4 58.9 L754.7 59.2 L755.9 59.5 L757.2 59.8 L758.5 60.1 L759.8 60.3 L761.1 60.6 L762.4 60.9 L763.6 61.2 L764.9 61.5 L766.2 61.8 L767.5 62.0 L768.8 62.3 L770.1 62.6 L771.3 62.9 L772.6 63.2 L773.9 63.5 L775.2 63.7 L776.5 64.0 L777.8 64.3 L779.1 64.6 L780.3 64.9 L781.6 65.2 L782.9 65.4 L784.2 65.7 L785.5 66.0 L786.8 66.3 L788.0 66.6 L789.3 66.9 L790.6 67.1 L791.9 67.4 L793.2 67.7 L794.5 68.0 L795.8 68.3 L797.0 68.6 L798.3 68.8 L799.6 69.1 L800.9 69.4 L802.2 69.7 L803.5 70.0 L804.7 70.3 L806.0 70.5 L807.3 70.8 L808.6 71.1 L809.9 71.4 L811.2 71.7 L812.5 71.9 L813.7 72.2 L815.0 72.5 L816.3 72.8 L817.6 73.1 L818.9 73.4 L820.2 73.6 L821.4 73.9 L822.7 74.2 L824.0 74.5 L825.3 74.8 L826.6 75.0 L827.9 75.3 L829.2 75.6 L830.4 75.9 L831.7 76.2 L833.0 76.4 L834.3 76.7 L835.6 77.0 L836.9 77.3 L838.2 77.6 L839.4 77.9 L840.7 78.1 L842.0 78.4 L843.3 78.7 L844.6 79.0 L845.9 79.3 L847.2 79.5 L848.4 79.8 L849.7 80.1 L851.0 80.4 L852.3 80.7 L853.6 80.9 L854.9 81.2 L856.2 81.5 L857.4 81.8 L858.7 82.1 L860.0 82.3 L861.3 82.6 L862.6 82.9 L863.9 83.2 L865.2 83.4 L866.4 83.7 L867.7 84.0 L869.0 84.3 L870.3 84.6 L871.6 84.8 L872.9 85.1 L874.2 85.4 L875.4 85.7 L876.7 86.0 L878.0 86.2 L879.3 86.5 L880.6 86.8 L881.9 87.1 L883.2 87.3 L884.5 87.6 L885.7 87.9 L887.0 88.2 L888.3 88.5 L889.6 88.7 L890.9 89.0 L892.2 89.3 L893.5 89.6 L894.7 89.8 L896.0 90.1 L897.3 90.4 L898.6 90.7 L899.9 90.9 L901.2 91.2 L902.5 91.5 L903.8 91.8 L905.0 92.0 L906.3 92.3 L907.6 92.6 L908.9 92.9 L910.2 93.1 L911.5 93.4 L912.8 93.7 L914.1 94.0 L915.3 94.2 L916.6 94.5 L917.9 94.8 L919.2 95.1 L920.5 95.3 L921.8 95.6 L923.1 95.9 L924.4 96.2 L925.6 96.4 L926.9 96.7 L928.2 97.0 L929.5 97.3 L930.8 97.5 L932.1 97.8 L933.4 98.1 L934.7 98.4 L936.0 98.6 L937.2 98.9 L938.5 99.2 L939.8 99.4 L941.1 99.7 L942.4 100.0 L943.7 100.3 L945.0 100.5 L946.3 100.8 L947.6 101.1 L948.8 101.3 L950.1 101.6 L951.4 101.9 L952.7 102.2 L954.0 102.4 L955.3 102.7 L956.6 103.0 L957.9 103.2 L959.2 103.5 L960.4 103.8 L961.7 104.1 L963.0 104.3 L964.3 104.6 L965.6 104.9 L966.9 105.1 L968.2 105.4 L969.5 105.7 L970.8 105.9 L972.1 106.2 L973.3 106.5 L974.6 106.7 L975.9 107.0 L977.2 107.3 L978.5 107.6 L979.8 107.8 L981.1 108.1 L982.4 108.4 L983.7 108.6 L985.0 108.9 L986.3 109.2 L987.5 109.4 L988.8 109.7 L990.1 110.0 L991.4 110.2 L992.7 110.5 L994.0 110.7 L995.3 111.0 L996.6 111.3 L997.9 111.5 L999.2 111.8 L1000.5 112.1 L1001.8 112.3 L1003.0 112.6 L1004.3 112.9 L1005.6 113.1 L1006.9 113.4 L1008.2 113.6 L1009.5 113.9 L1010.8 114.2 L1012.1 114.4 L1013.4 114.7 L1014.7 115.0 L1016.0 115.2 L1017.3 115.5 L1018.6 115.7 L1019.9 116.0 L1021.1 116.3 L1022.4 116.5 L1023.7 116.8 L1025.0 117.0 L1026.3 117.3 L1027.6 117.5 L1028.9 117.8 L1030.2 118.1 L1031.5 118.3 L1032.8 118.6 L1034.1 118.8 L1035.4 119.1 L1036.7 119.3 L1038.0 119.6 L1039.3 119.9 L1040.6 120.1 L1041.9 120.4 L1043.2 120.6 L1044.5 120.9 L1045.8 121.1 L1047.1 121.4 L1048.3 121.6 L1049.6 121.9 L1050.9 122.1 L1052.2 122.4 L1053.5 122.6 L1054.8 122.9 L1056.1 123.1 L1057.4 123.4 L1058.7 123.6 L1060.0 123.9 L1061.3 124.1 L1062.6 124.4 L1063.9 124.6 L1065.2 124.9 L1066.5 125.1 L1067.8 125.4 L1069.1 125.6 L1070.4 125.9 L1071.7 126.1 L1073.0 126.4 L1074.3 126.6 L1075.6 126.8 L1076.9 127.1 L1078.2 127.3 L1079.5 127.6 L1080.8 127.8 L1082.1 128.1 L1083.4 128.3 L1084.7 128.5 L1086.0 128.8 L1087.3 129.0 L1088.6 129.3 L1089.9 129.5 L1091.2 129.7 L1092.5 130.0 L1093.8 130.2 L1095.1 130.5 L1096.4 130.7 L1097.7 130.9 L1099.0 131.2 L1100.3 131.4 L1101.6 131.6 L1102.9 131.9 L1104.3 132.1 L1105.6 132.3 L1106.9 132.6 L1108.2 132.8 L1109.5 133.0 L1110.8 133.3 L1112.1 133.5 L1113.4 133.7 L1114.7 134.0 L1116.0 134.2 L1117.3 134.4 L1118.6 134.6 L1119.9 134.9 L1121.2 135.1 L1122.5 135.3 L1123.8 135.6 L1125.1 135.8 L1126.4 136.0 L1127.8 136.2 L1129.1 136.5 L1130.4 136.7 L1131.7 136.9 L1133.0 137.1 L1134.3 137.3 L1135.6 137.6 L1136.9 137.8 L1138.2 138.0 L1139.5 138.2 L1140.8 138.4 L1142.2 138.7 L1143.5 138.9 L1144.8 139.1 L1146.1 139.3 L1147.4 139.5 L1148.7 139.7 L1150.0 140.0 L1151.3 140.2 L1152.6 140.4 L1153.9 140.6 L1155.3 140.8 L1156.6 141.0 L1157.9 141.2 L1159.2 141.4 L1160.5 141.7 L1161.8 141.9 L1163.1 142.1 L1164.5 142.3 L1165.8 142.5 L1167.1 142.7 L1168.4 142.9 L1169.7 143.1 L1171.0 143.3 L1172.3 143.5 L1173.7 143.7 L1175.0 143.9 L1176.3 144.1 L1177.6 144.3 L1178.9 144.5 L1180.2 144.7 L1181.6 144.8 L1182.9 145.0 L1184.2 145.2 L1185.5 145.4 L1186.8 145.6 L1188.2 145.8 L1189.5 145.9 L1190.8 146.1 L1192.1 146.3 L1193.4 146.5 L1194.8 146.7 L1196.1 146.8 L1197.4 147.0 L1198.7 147.2 L1200.0 147.3 L1201.4 147.5 L1202.7 147.6 L1204.0 147.8 L1205.3 148.0 L1206.6 148.1 L1208.0 148.3 L1209.3 148.4 L1210.6 148.6 L1211.9 148.7 L1213.3 148.9 L1214.6 149.0 L1215.9 149.1 L1217.2 149.3 L1218.6 149.4 L1219.9 149.5 L1221.2 149.7 L1222.6 149.8 L1223.9 149.9 L1225.2 150.0 L1226.5 150.2 L1227.9 150.3 L1229.2 150.4 L1230.5 150.5 L1231.9 150.6 L1233.2 150.7 L1234.5 150.8 L1235.8 150.9 L1237.2 151.0 L1238.5 151.1 L1239.8 151.2 L1241.2 151.3 L1242.5 151.4 L1243.8 151.5 L1245.2 151.6 L1246.5 151.6 L1247.8 151.7 L1249.2 151.8 L1250.5 151.9 L1251.9 151.9 L1253.2 152.0 L1254.5 152.1 L1255.9 152.2 L1257.2 152.2 L1258.5 152.3 L1259.9 152.4 L1261.2 152.4 L1262.5 152.5 L1263.9 152.6 L1265.2 152.6 L1266.6 152.7 L1267.9 152.7 L1269.2 152.8 L1270.6 152.9 L1271.9 152.9 L1273.3 153.0 L1274.6 153.0 L1275.9 153.1 L1277.3 153.1 L1278.6 153.2 L1280.0 153.2 L1281.3 153.3 L1282.7 153.3 L1284.0 153.4 L1285.4 153.4 L1286.7 153.5 L1288.0 153.5 L1289.4 153.6 L1290.7 153.6 L1292.1 153.7 L1293.4 153.7 L1294.8 153.8 L1296.1 153.9 L1297.5 153.9 L1298.8 154.0 L1300.2 154.0 L1301.5 154.1 L1302.9 154.1 L1304.2 154.2 L1305.6 154.2 L1306.9 154.3 L1308.3 154.3 L1309.6 154.4 L1311.0 154.5 L1312.3 154.5 L1313.7 154.6 L1315.0 154.6 L1316.4 154.7 L1317.7 154.8 L1319.1 154.8 L1320.4 154.9 L1321.8 155.0 L1323.1 155.0 L1324.5 155.1 L1325.8 155.2 L1327.2 155.2 L1328.6 155.3 L1329.9 155.4 L1331.3 155.5 L1332.6 155.6 L1334.0 155.7 L1335.3 155.8 L1336.7 155.9 L1338.0 156.0 L1339.3 156.1 L1340.7 156.2 L1342.0 156.4 L1343.3 156.5 L1344.6 156.7 L1346.0 156.9 L1347.3 157.1 L1348.6 157.2 L1349.9 157.5 L1351.1 157.7 L1352.4 157.9 L1353.7 158.2 L1355.0 158.4 L1356.2 158.7 L1357.5 159.0 L1358.7 159.3 L1359.9 159.7 L1361.2 160.0 L1362.4 160.4 L1363.6 160.8 L1364.8 161.2 L1366.0 161.6 L1367.1 162.1 L1368.3 162.5 L1369.5 163.0 L1370.6 163.4 L1371.8 163.9 L1372.9 164.4 L1374.0 165.0 L1375.1 165.5 L1376.3 166.0 L1377.4 166.6 L1378.5 167.1 L1379.5 167.7 L1380.6 168.3 L1381.7 168.9 L1382.8 169.5 L1383.8 170.1 L1384.9 170.7 L1385.9 171.3 L1387.0 172.0 L1388.0 172.6 L1389.0 173.3 L1390.1 173.9 L1391.1 174.6 L1392.1 175.2 L1393.1 175.9 L1394.1 176.6 L1395.1 177.2 L1396.1 177.9 L1397.1 178.6 L1398.0 179.3 L1399.0 180.0 L1400.0 180.7 L1400.9 181.3 L1401.9 182.0 L1402.8 182.7 L1403.8 183.4 L1404.7 184.1 L1405.7 184.8 L1406.6 185.5 L1407.5 186.2 L1408.5 186.9 L1409.4 187.6 L1410.3 188.3 L1411.2 189.0 L1412.2 189.7 L1413.1 190.4 L1414.0 191.1 L1414.9 191.8 L1415.8 192.5 L1416.8 193.2 L1417.7 193.9 L1418.6 194.6 L1419.5 195.3 L1420.4 196.0 L1421.3 196.7 L1422.3 197.4 L1423.2 198.1 L1424.1 198.7 L1425.0 199.4 L1425.9 200.1 L1426.9 200.8 L1427.8 201.5 L1428.7 202.2 L1429.7 202.9 L1430.6 203.6 L1431.5 204.3 L1432.5 204.9 L1433.4 205.6 L1434.4 206.3 L1435.3 207.0 L1436.3 207.6 L1437.2 208.3 L1438.2 209.0 L1439.1 209.7 L1440.1 210.3 L1441.0 211.0 L1442.0 211.7 L1443.0 212.3 L1443.9 213.0 L1444.9 213.7 L1445.9 214.3 L1446.9 215.0 L1447.8 215.7 L1448.8 216.3 L1449.8 217.0 L1450.8 217.6 L1451.7 218.3 L1452.7 219.0 L1453.7 219.6 L1454.7 220.3 L1455.7 220.9 L1456.6 221.6 L1457.6 222.3 L1458.6 222.9 L1459.6 223.6 L1460.6 224.2 L1461.6 224.9 L1462.6 225.5 L1463.5 226.2 L1464.5 226.9 L1465.5 227.5 L1466.5 228.2 L1467.5 228.8 L1468.5 229.5 L1469.4 230.1 L1470.4 230.8 L1471.4 231.5 L1472.4 232.1 L1473.4 232.8 L1474.4 233.4 L1475.4 234.1 L1476.3 234.7 L1477.3 235.4 L1478.3 236.0 L1479.3 236.7 L1480.3 237.4 L1481.3 238.0 L1482.3 238.7 L1483.3 239.3 L1484.2 240.0 L1485.2 240.6 L1486.2 241.3 L1487.2 241.9 L1488.2 242.6 L1489.2 243.2 L1490.2 243.9 L1491.2 244.5 L1492.2 245.2 L1493.2 245.8 L1494.2 246.4 L1495.2 247.1 L1496.2 247.7 L1497.2 248.4 L1498.2 249.0 L1499.2 249.6 L1500.2 250.3 L1501.2 250.9 L1502.2 251.5 L1503.3 252.2 L1504.3 252.8 L1505.3 253.4 L1506.3 254.1 L1507.3 254.7 L1508.3 255.3 L1509.4 255.9 L1510.4 256.5 L1511.4 257.2 L1512.4 257.8 L1513.5 258.4 L1514.5 259.0 L1515.5 259.6 L1516.6 260.2 L1517.6 260.8 L1518.7 261.4 L1519.7 262.0 L1520.7 262.6 L1521.8 263.2 L1522.8 263.8 L1523.9 264.4 L1525.0 265.0 L1526.0 265.6 L1527.1 266.2 L1528.1 266.8 L1529.2 267.4 L1530.3 267.9 L1531.4 268.5 L1532.4 269.1 L1533.5 269.7 L1534.6 270.2 L1535.7 270.8 L1536.8 271.4 L1537.9 271.9 L1538.9 272.5 L1540.0 273.0 L1541.1 273.6 L1542.3 274.1 L1543.4 274.7 L1544.5 275.2 L1545.6 275.7 L1546.7 276.2 L1547.9 276.7 L1549.0 277.2 L1550.2 277.6 L1551.4 278.1 L1552.5 278.5 L1553.7 278.9 L1554.9 279.3 L1556.1 279.7 L1557.3 280.0 L1558.6 280.3 L1559.8 280.6 L1561.1 280.9 L1562.3 281.2 L1563.6 281.4 L1564.9 281.6 L1566.2 281.7 L1567.6 281.9 L1568.9 282.0 L1570.3 282.1 L1571.6 282.1 L1573.0 282.1 L1574.4 282.1 L1575.8 282.1 L1577.1 282.0 L1578.5 281.9 L1579.9 281.8 L1581.3 281.6 L1582.7 281.4 L1584.0 281.2 L1585.4 281.0 L1586.7 280.7 L1588.0 280.4 L1589.4 280.1 L1590.7 279.8 L1591.9 279.4 L1593.2 279.0 L1594.4 278.6 L1595.6 278.2 L1596.8 277.7 L1597.9 277.2 L1599.0 276.7 L1600.1 276.2 L1601.2 275.6 L1602.3 275.0 L1603.3 274.4 L1604.3 273.8 L1605.3 273.2 L1606.2 272.5 L1607.2 271.9 L1608.1 271.2 L1609.0 270.5 L1609.9 269.8 L1610.7 269.1 L1611.6 268.3 L1612.4 267.6 L1613.2 266.8 L1614.0 266.1 L1614.8 265.3 L1615.6 264.5 L1616.4 263.7 L1617.1 262.9 L1617.8 262.1 L1618.6 261.2 L1619.3 260.4 L1620.0 259.6 L1620.7 258.7 L1621.4 257.9 L1622.0 257.1 L1622.7 256.2 L1623.4 255.4 L1624.0 254.5 L1624.7 253.7 L1625.3 252.8 L1625.9 252.0 L1626.5 251.1 L1627.2 250.3 L1627.8 249.4 L1628.4 248.5 L1629.0 247.7 L1629.6 246.8 L1630.1 246.0 L1630.7 245.1 L1631.3 244.2 L1631.9 243.3 L1632.4 242.5 L1633.0 241.6 L1633.5 240.7 L1634.0 239.8 L1634.6 239.0 L1635.1 238.1 L1635.6 237.2 L1636.1 236.3 L1636.6 235.4 L1637.1 234.5 L1637.6 233.6 L1638.1 232.8 L1638.6 231.9 L1639.1 231.0 L1639.5 230.1 L1640.0 229.2 L1640.5 228.3 L1640.9 227.4 L1641.4 226.4 L1641.8 225.5 L1642.3 224.6 L1642.7 223.7 L1643.1 222.8 L1643.5 221.9 L1644.0 221.0 L1644.4 220.0 L1644.8 219.1 L1645.2 218.2 L1645.6 217.3 L1646.0 216.3 L1646.3 215.4 L1646.7 214.5 L1647.1 213.5 L1647.5 212.6 L1647.8 211.7 L1648.2 210.7 L1648.6 209.8 L1648.9 208.8 L1649.3 207.9 L1649.6 206.9 L1650.0 206.0 L1650.3 205.0 L1650.7 204.1 L1651.1 203.1 L1651.5 202.2 L1651.9 201.2 L1652.3 200.3 L1652.7 199.3 L1653.2 198.4 L1653.7 197.4 L1654.2 196.5 L1654.8 195.6 L1655.3 194.6 L1655.9 193.7 L1656.6 192.8 L1657.3 191.9 L1658.0 191.2 L1658.8 190.5 L1659.7 190.0 L1660.6 189.6 L1661.6 189.5 L1662.6 189.5 L1663.6 189.8 L1664.7 190.1 L1665.8 190.6 L1666.8 191.3 L1667.8 191.9 L1668.8 192.7 L1669.8 193.5 L1670.8 194.3 L1671.7 195.1 L1672.6 195.9 L1673.4 196.7 L1674.2 197.5 L1674.9 198.3 L1675.6 199.1 L1676.3 199.8 L1676.9 200.7 L1677.4 201.5 L1677.9 202.4 L1678.3 203.3 L1678.6 204.2 L1678.9 205.2 L1679.0 206.2" fill="none" stroke="#e39836" stroke-width="2.6" stroke-linejoin="round" clip-path="url(#ci)"/>
<path d="M424.2 -9.2 L425.5 -8.9 L426.8 -8.6 L428.1 -8.4 L429.4 -8.1 L430.7 -7.8 L432.0 -7.6 L433.3 -7.3 L434.6 -7.0 L435.9 -6.7 L437.1 -6.5 L438.4 -6.2 L439.7 -5.9 L441.0 -5.6 L442.3 -5.4 L443.6 -5.1 L444.9 -4.8 L446.2 -4.5 L447.5 -4.3 L448.8 -4.0 L450.0 -3.7 L451.3 -3.4 L452.6 -3.2 L453.9 -2.9 L455.2 -2.6 L456.5 -2.3 L457.8 -2.1 L459.1 -1.8 L460.4 -1.5 L461.6 -1.2 L462.9 -1.0 L464.2 -0.7 L465.5 -0.4 L466.8 -0.1 L468.1 0.1 L469.4 0.4 L470.7 0.7 L472.0 1.0 L473.2 1.3 L474.5 1.5 L475.8 1.8 L477.1 2.1 L478.4 2.4 L479.7 2.6 L481.0 2.9 L482.3 3.2 L483.5 3.5 L484.8 3.8 L486.1 4.0 L487.4 4.3 L488.7 4.6 L490.0 4.9 L491.3 5.1 L492.6 5.4 L493.8 5.7 L495.1 6.0 L496.4 6.3 L497.7 6.5 L499.0 6.8 L500.3 7.1 L501.6 7.4 L502.8 7.6 L504.1 7.9 L505.4 8.2 L506.7 8.5 L508.0 8.8 L509.3 9.0 L510.6 9.3 L511.9 9.6 L513.1 9.9 L514.4 10.2 L515.7 10.4 L517.0 10.7 L518.3 11.0 L519.6 11.3 L520.9 11.6 L522.1 11.8 L523.4 12.1 L524.7 12.4 L526.0 12.7 L527.3 13.0 L528.6 13.2 L529.9 13.5 L531.1 13.8 L532.4 14.1 L533.7 14.4 L535.0 14.6 L536.3 14.9 L537.6 15.2 L538.9 15.5 L540.1 15.8 L541.4 16.1 L542.7 16.3 L544.0 16.6 L545.3 16.9 L546.6 17.2 L547.9 17.5 L549.1 17.7 L550.4 18.0 L551.7 18.3 L553.0 18.6 L554.3 18.9 L555.6 19.1 L556.9 19.4 L558.1 19.7 L559.4 20.0 L560.7 20.3 L562.0 20.6 L563.3 20.8 L564.6 21.1 L565.8 21.4 L567.1 21.7 L568.4 22.0 L569.7 22.3 L571.0 22.5 L572.3 22.8 L573.6 23.1 L574.8 23.4 L576.1 23.7 L577.4 23.9 L578.7 24.2 L580.0 24.5 L581.3 24.8 L582.5 25.1 L583.8 25.4 L585.1 25.6 L586.4 25.9 L587.7 26.2 L589.0 26.5 L590.2 26.8 L591.5 27.1 L592.8 27.3 L594.1 27.6 L595.4 27.9 L596.7 28.2 L598.0 28.5 L599.2 28.8 L600.5 29.0 L601.8 29.3 L603.1 29.6 L604.4 29.9 L605.7 30.2 L606.9 30.5 L608.2 30.7 L609.5 31.0 L610.8 31.3 L612.1 31.6 L613.4 31.9 L614.6 32.2 L615.9 32.4 L617.2 32.7 L618.5 33.0 L619.8 33.3 L621.1 33.6 L622.3 33.9 L623.6 34.1 L624.9 34.4 L626.2 34.7 L627.5 35.0 L628.8 35.3 L630.0 35.6 L631.3 35.9 L632.6 36.1 L633.9 36.4 L635.2 36.7 L636.5 37.0 L637.7 37.3 L639.0 37.6 L640.3 37.8 L641.6 38.1 L642.9 38.4 L644.2 38.7 L645.4 39.0 L646.7 39.3 L648.0 39.5 L649.3 39.8 L650.6 40.1 L651.9 40.4 L653.1 40.7 L654.4 41.0 L655.7 41.3 L657.0 41.5 L658.3 41.8 L659.6 42.1 L660.8 42.4 L662.1 42.7 L663.4 43.0 L664.7 43.2 L666.0 43.5 L667.2 43.8 L668.5 44.1 L669.8 44.4 L671.1 44.7 L672.4 45.0 L673.7 45.2 L674.9 45.5 L676.2 45.8 L677.5 46.1 L678.8 46.4 L680.1 46.7 L681.4 46.9 L682.6 47.2 L683.9 47.5 L685.2 47.8 L686.5 48.1 L687.8 48.4 L689.1 48.6 L690.3 48.9 L691.6 49.2 L692.9 49.5 L694.2 49.8 L695.5 50.1 L696.8 50.4 L698.0 50.6 L699.3 50.9 L700.6 51.2 L701.9 51.5 L703.2 51.8 L704.5 52.1 L705.7 52.3 L707.0 52.6 L708.3 52.9 L709.6 53.2 L710.9 53.5 L712.2 53.8 L713.4 54.0 L714.7 54.3 L716.0 54.6 L717.3 54.9 L718.6 55.2 L719.8 55.5 L721.1 55.8 L722.4 56.0 L723.7 56.3 L725.0 56.6 L726.3 56.9 L727.5 57.2 L728.8 57.5 L730.1 57.7 L731.4 58.0 L732.7 58.3 L734.0 58.6 L735.2 58.9 L736.5 59.2 L737.8 59.4 L739.1 59.7 L740.4 60.0 L741.7 60.3 L742.9 60.6 L744.2 60.9 L745.5 61.1 L746.8 61.4 L748.1 61.7 L749.4 62.0 L750.6 62.3 L751.9 62.6 L753.2 62.8 L754.5 63.1 L755.8 63.4 L757.1 63.7 L758.3 64.0 L759.6 64.3 L760.9 64.5 L762.2 64.8 L763.5 65.1 L764.8 65.4 L766.0 65.7 L767.3 66.0 L768.6 66.2 L769.9 66.5 L771.2 66.8 L772.5 67.1 L773.7 67.4 L775.0 67.6 L776.3 67.9 L777.6 68.2 L778.9 68.5 L780.2 68.8 L781.4 69.1 L782.7 69.3 L784.0 69.6 L785.3 69.9 L786.6 70.2 L787.9 70.5 L789.2 70.8 L790.4 71.0 L791.7 71.3 L793.0 71.6 L794.3 71.9 L795.6 72.2 L796.9 72.4 L798.1 72.7 L799.4 73.0 L800.7 73.3 L802.0 73.6 L803.3 73.8 L804.6 74.1 L805.8 74.4 L807.1 74.7 L808.4 75.0 L809.7 75.3 L811.0 75.5 L812.3 75.8 L813.6 76.1 L814.8 76.4 L816.1 76.7 L817.4 76.9 L818.7 77.2 L820.0 77.5 L821.3 77.8 L822.5 78.1 L823.8 78.3 L825.1 78.6 L826.4 78.9 L827.7 79.2 L829.0 79.5 L830.3 79.7 L831.5 80.0 L832.8 80.3 L834.1 80.6 L835.4 80.9 L836.7 81.1 L838.0 81.4 L839.3 81.7 L840.5 82.0 L841.8 82.2 L843.1 82.5 L844.4 82.8 L845.7 83.1 L847.0 83.4 L848.3 83.6 L849.5 83.9 L850.8 84.2 L852.1 84.5 L853.4 84.8 L854.7 85.0 L856.0 85.3 L857.3 85.6 L858.5 85.9 L859.8 86.1 L861.1 86.4 L862.4 86.7 L863.7 87.0 L865.0 87.3 L866.3 87.5 L867.5 87.8 L868.8 88.1 L870.1 88.4 L871.4 88.6 L872.7 88.9 L874.0 89.2 L875.3 89.5 L876.6 89.7 L877.8 90.0 L879.1 90.3 L880.4 90.6 L881.7 90.9 L883.0 91.1 L884.3 91.4 L885.6 91.7 L886.8 92.0 L888.1 92.2 L889.4 92.5 L890.7 92.8 L892.0 93.1 L893.3 93.3 L894.6 93.6 L895.9 93.9 L897.1 94.2 L898.4 94.4 L899.7 94.7 L901.0 95.0 L902.3 95.3 L903.6 95.5 L904.9 95.8 L906.2 96.1 L907.5 96.4 L908.7 96.6 L910.0 96.9 L911.3 97.2 L912.6 97.4 L913.9 97.7 L915.2 98.0 L916.5 98.3 L917.8 98.5 L919.0 98.8 L920.3 99.1 L921.6 99.4 L922.9 99.6 L924.2 99.9 L925.5 100.2 L926.8 100.4 L928.1 100.7 L929.4 101.0 L930.6 101.3 L931.9 101.5 L933.2 101.8 L934.5 102.1 L935.8 102.3 L937.1 102.6 L938.4 102.9 L939.7 103.2 L941.0 103.4 L942.3 103.7 L943.5 104.0 L944.8 104.2 L946.1 104.5 L947.4 104.8 L948.7 105.1 L950.0 105.3 L951.3 105.6 L952.6 105.9 L953.9 106.1 L955.2 106.4 L956.4 106.7 L957.7 106.9 L959.0 107.2 L960.3 107.5 L961.6 107.7 L962.9 108.0 L964.2 108.3 L965.5 108.5 L966.8 108.8 L968.1 109.1 L969.4 109.3 L970.7 109.6 L971.9 109.9 L973.2 110.2 L974.5 110.4 L975.8 110.7 L977.1 111.0 L978.4 111.2 L979.7 111.5 L981.0 111.8 L982.3 112.0 L983.6 112.3 L984.9 112.5 L986.2 112.8 L987.5 113.1 L988.7 113.3 L990.0 113.6 L991.3 113.9 L992.6 114.1 L993.9 114.4 L995.2 114.7 L996.5 114.9 L997.8 115.2 L999.1 115.5 L1000.4 115.7 L1001.7 116.0 L1003.0 116.3 L1004.3 116.5 L1005.6 116.8 L1006.9 117.0 L1008.1 117.3 L1009.4 117.6 L1010.7 117.8 L1012.0 118.1 L1013.3 118.4 L1014.6 118.6 L1015.9 118.9 L1017.2 119.1 L1018.5 119.4 L1019.8 119.7 L1021.1 119.9 L1022.4 120.2 L1023.7 120.5 L1025.0 120.7 L1026.3 121.0 L1027.6 121.2 L1028.9 121.5 L1030.2 121.8 L1031.5 122.0 L1032.8 122.3 L1034.0 122.5 L1035.3 122.8 L1036.6 123.0 L1037.9 123.3 L1039.2 123.6 L1040.5 123.8 L1041.8 124.1 L1043.1 124.3 L1044.4 124.6 L1045.7 124.9 L1047.0 125.1 L1048.3 125.4 L1049.6 125.6 L1050.9 125.9 L1052.2 126.1 L1053.5 126.4 L1054.8 126.6 L1056.1 126.9 L1057.4 127.1 L1058.7 127.4 L1060.0 127.7 L1061.3 127.9 L1062.6 128.2 L1063.9 128.4 L1065.2 128.7 L1066.5 128.9 L1067.8 129.2 L1069.1 129.4 L1070.4 129.7 L1071.7 129.9 L1073.0 130.2 L1074.3 130.4 L1075.6 130.7 L1076.9 130.9 L1078.2 131.1 L1079.5 131.4 L1080.8 131.6 L1082.1 131.9 L1083.4 132.1 L1084.7 132.4 L1086.0 132.6 L1087.3 132.9 L1088.6 133.1 L1089.9 133.3 L1091.2 133.6 L1092.5 133.8 L1093.8 134.1 L1095.1 134.3 L1096.4 134.5 L1097.7 134.8 L1099.0 135.0 L1100.3 135.3 L1101.6 135.5 L1102.9 135.7 L1104.2 136.0 L1105.5 136.2 L1106.8 136.4 L1108.1 136.7 L1109.4 136.9 L1110.7 137.1 L1112.0 137.4 L1113.3 137.6 L1114.6 137.8 L1116.0 138.0 L1117.3 138.3 L1118.6 138.5 L1119.9 138.7 L1121.2 139.0 L1122.5 139.2 L1123.8 139.4 L1125.1 139.6 L1126.4 139.9 L1127.7 140.1 L1129.0 140.3 L1130.3 140.5 L1131.6 140.7 L1132.9 141.0 L1134.2 141.2 L1135.5 141.4 L1136.8 141.6 L1138.2 141.8 L1139.5 142.0 L1140.8 142.3 L1142.1 142.5 L1143.4 142.7 L1144.7 142.9 L1146.0 143.1 L1147.3 143.3 L1148.6 143.5 L1149.9 143.7 L1151.2 143.9 L1152.6 144.1 L1153.9 144.3 L1155.2 144.6 L1156.5 144.8 L1157.8 145.0 L1159.1 145.2 L1160.4 145.4 L1161.7 145.6 L1163.0 145.8 L1164.3 146.0 L1165.7 146.2 L1167.0 146.4 L1168.3 146.5 L1169.6 146.7 L1170.9 146.9 L1172.2 147.1 L1173.5 147.3 L1174.8 147.5 L1176.2 147.7 L1177.5 147.9 L1178.8 148.1 L1180.1 148.3 L1181.4 148.4 L1182.7 148.6 L1184.0 148.8 L1185.4 149.0 L1186.7 149.2 L1188.0 149.3 L1189.3 149.5 L1190.6 149.7 L1191.9 149.9 L1193.3 150.1 L1194.6 150.2 L1195.9 150.4 L1197.2 150.6 L1198.5 150.7 L1199.8 150.9 L1201.2 151.1 L1202.5 151.2 L1203.8 151.4 L1205.1 151.6 L1206.4 151.7 L1207.7 151.9 L1209.1 152.1 L1210.4 152.2 L1211.7 152.4 L1213.0 152.5 L1214.3 152.7 L1215.7 152.8 L1217.0 153.0 L1218.3 153.1 L1219.6 153.3 L1220.9 153.4 L1222.3 153.6 L1223.6 153.7 L1224.9 153.9 L1226.2 154.0 L1227.6 154.1 L1228.9 154.3 L1230.2 154.4 L1231.5 154.5 L1232.9 154.7 L1234.2 154.8 L1235.5 154.9 L1236.8 155.0 L1238.2 155.1 L1239.5 155.2 L1240.8 155.4 L1242.1 155.5 L1243.5 155.6 L1244.8 155.7 L1246.1 155.8 L1247.4 155.9 L1248.8 155.9 L1250.1 156.0 L1251.4 156.1 L1252.8 156.2 L1254.1 156.3 L1255.4 156.4 L1256.8 156.4 L1258.1 156.5 L1259.4 156.6 L1260.8 156.6 L1262.1 156.7 L1263.4 156.7 L1264.8 156.8 L1266.1 156.8 L1267.4 156.9 L1268.8 156.9 L1270.1 156.9 L1271.4 156.9 L1272.8 157.0 L1274.1 157.0 L1275.4 157.0 L1276.8 157.0 L1278.1 157.0 L1279.5 157.0 L1280.8 157.0 L1282.1 157.0 L1283.5 157.0 L1284.8 157.0 L1286.2 156.9 L1287.5 156.9 L1288.9 156.9 L1290.2 156.8 L1291.6 156.8 L1292.9 156.7 L1294.2 156.7 L1295.6 156.6 L1296.9 156.5 L1298.3 156.5 L1299.6 156.4 L1301.0 156.3 L1302.3 156.2 L1303.7 156.1 L1305.0 156.0 L1306.4 155.9 L1307.7 155.8 L1309.1 155.7 L1310.4 155.5 L1311.8 155.4 L1313.2 155.3 L1314.5 155.1 L1315.9 155.0 L1317.2 154.8 L1318.6 154.7 L1319.9 154.5 L1321.3 154.3 L1322.7 154.1 L1324.0 153.9 L1325.4 153.7 L1326.8 153.5 L1328.1 153.3 L1329.5 153.1 L1330.8 152.9 L1332.2 152.7 L1333.6 152.4 L1334.9 152.2 L1336.3 152.0 L1337.6 151.8 L1339.0 151.6 L1340.3 151.3 L1341.7 151.1 L1343.0 150.9 L1344.4 150.7 L1345.7 150.5 L1347.1 150.3 L1348.4 150.2 L1349.7 150.0 L1351.1 149.9 L1352.4 149.7 L1353.7 149.6 L1355.0 149.5 L1356.3 149.4 L1357.6 149.3 L1358.9 149.2 L1360.2 149.1 L1361.5 149.1 L1362.8 149.1 L1364.1 149.1 L1365.3 149.1 L1366.6 149.2 L1367.9 149.2 L1369.1 149.3 L1370.3 149.5 L1371.6 149.6 L1372.8 149.8 L1374.0 150.0 L1375.2 150.2 L1376.4 150.5 L1377.6 150.8 L1378.8 151.1 L1379.9 151.4 L1381.1 151.8 L1382.2 152.2 L1383.4 152.6 L1384.5 153.0 L1385.6 153.5 L1386.7 154.0 L1387.8 154.5 L1388.9 155.1 L1390.0 155.6 L1391.1 156.2 L1392.1 156.8 L1393.2 157.4 L1394.3 158.0 L1395.3 158.7 L1396.3 159.3 L1397.3 160.0 L1398.4 160.7 L1399.4 161.4 L1400.4 162.1 L1401.3 162.9 L1402.3 163.6 L1403.3 164.3 L1404.2 165.1 L1405.2 165.9 L1406.1 166.6 L1407.1 167.4 L1408.0 168.2 L1408.9 169.0 L1409.8 169.8 L1410.7 170.5 L1411.6 171.3 L1412.5 172.1 L1413.3 172.9 L1414.2 173.7 L1415.1 174.5 L1415.9 175.3 L1416.8 176.1 L1417.6 176.9 L1418.4 177.7 L1419.2 178.5 L1420.1 179.3 L1420.9 180.1 L1421.7 180.9 L1422.5 181.7 L1423.3 182.5 L1424.0 183.3 L1424.8 184.1 L1425.6 184.9 L1426.4 185.7 L1427.2 186.5 L1427.9 187.3 L1428.7 188.1 L1429.5 188.8 L1430.3 189.6 L1431.0 190.4 L1431.8 191.2 L1432.5 192.0 L1433.3 192.8 L1434.1 193.5 L1434.8 194.3 L1435.6 195.1 L1436.4 195.9 L1437.1 196.6 L1437.9 197.4 L1438.7 198.2 L1439.5 199.0 L1440.2 199.7 L1441.0 200.5 L1441.8 201.2 L1442.6 202.0 L1443.4 202.7 L1444.2 203.5 L1445.0 204.2 L1445.8 205.0 L1446.6 205.7 L1447.4 206.5 L1448.3 207.2 L1449.1 207.9 L1449.9 208.6 L1450.8 209.4 L1451.6 210.1 L1452.5 210.8 L1453.3 211.5 L1454.2 212.2 L1455.1 213.0 L1455.9 213.7 L1456.8 214.4 L1457.7 215.1 L1458.6 215.8 L1459.5 216.5 L1460.4 217.2 L1461.3 217.9 L1462.2 218.6 L1463.1 219.2 L1464.0 219.9 L1464.9 220.6 L1465.9 221.3 L1466.8 222.0 L1467.7 222.7 L1468.7 223.4 L1469.6 224.0 L1470.5 224.7 L1471.5 225.4 L1472.4 226.1 L1473.4 226.7 L1474.3 227.4 L1475.3 228.1 L1476.2 228.8 L1477.2 229.4 L1478.1 230.1 L1479.1 230.8 L1480.1 231.4 L1481.0 232.1 L1482.0 232.8 L1482.9 233.5 L1483.9 234.1 L1484.9 234.8 L1485.9 235.5 L1486.8 236.1 L1487.8 236.8 L1488.8 237.5 L1489.7 238.1 L1490.7 238.8 L1491.7 239.5 L1492.7 240.1 L1493.6 240.8 L1494.6 241.5 L1495.6 242.2 L1496.6 242.8 L1497.5 243.5 L1498.5 244.2 L1499.5 244.9 L1500.4 245.5 L1501.4 246.2 L1502.4 246.9 L1503.3 247.6 L1504.3 248.3 L1505.3 248.9 L1506.2 249.6 L1507.2 250.3 L1508.1 251.0 L1509.1 251.7 L1510.1 252.4 L1511.0 253.1 L1512.0 253.8 L1512.9 254.5 L1513.9 255.2 L1514.8 255.9 L1515.7 256.6 L1516.7 257.3 L1517.6 258.0 L1518.5 258.7 L1519.5 259.4 L1520.4 260.1 L1521.3 260.8 L1522.2 261.6 L1523.2 262.3 L1524.1 263.0 L1525.0 263.7 L1525.9 264.4 L1526.9 265.1 L1527.8 265.8 L1528.7 266.5 L1529.7 267.2 L1530.6 267.9 L1531.5 268.6 L1532.5 269.3 L1533.4 270.0 L1534.4 270.7 L1535.3 271.4 L1536.3 272.1 L1537.2 272.7 L1538.2 273.4 L1539.2 274.1 L1540.1 274.7 L1541.1 275.4 L1542.1 276.0 L1543.1 276.7 L1544.1 277.3 L1545.1 277.9 L1546.1 278.5 L1547.2 279.1 L1548.2 279.7 L1549.3 280.3 L1550.3 280.9 L1551.4 281.4 L1552.5 282.0 L1553.5 282.5 L1554.6 283.1 L1555.7 283.6 L1556.9 284.1 L1558.0 284.6 L1559.1 285.1 L1560.3 285.5 L1561.5 286.0 L1562.6 286.4 L1563.8 286.9 L1565.0 287.3 L1566.2 287.7 L1567.5 288.1 L1568.7 288.5 L1570.0 288.8 L1571.2 289.2 L1572.5 289.5 L1573.8 289.8 L1575.1 290.1 L1576.4 290.4 L1577.7 290.7 L1579.0 290.9 L1580.4 291.2 L1581.7 291.4 L1583.1 291.6 L1584.4 291.8 L1585.8 291.9 L1587.1 291.9 L1588.4 291.8 L1589.6 291.6 L1590.8 291.2 L1591.9 290.8 L1593.0 290.3 L1594.1 289.7 L1595.2 289.1 L1596.2 288.5 L1597.2 287.8 L1598.3 287.2 L1599.3 286.6 L1600.3 285.9 L1601.3 285.3 L1602.3 284.6 L1603.3 283.9 L1604.2 283.2 L1605.2 282.6 L1606.1 281.9 L1607.0 281.2 L1607.9 280.4 L1608.8 279.7 L1609.7 279.0 L1610.6 278.3 L1611.4 277.5 L1612.3 276.8 L1613.1 276.0 L1613.9 275.2 L1614.7 274.5 L1615.5 273.7 L1616.3 272.9 L1617.0 272.1 L1617.8 271.3 L1618.5 270.5 L1619.3 269.7 L1620.0 268.9 L1620.7 268.1 L1621.4 267.3 L1622.0 266.4 L1622.7 265.6 L1623.4 264.8 L1624.0 263.9 L1624.6 263.1 L1625.3 262.2 L1625.9 261.4 L1626.5 260.5 L1627.1 259.6 L1627.7 258.8 L1628.3 257.9 L1628.8 257.0 L1629.4 256.1 L1629.9 255.3 L1630.5 254.4 L1631.0 253.5 L1631.6 252.6 L1632.1 251.7 L1632.6 250.8 L1633.1 249.9 L1633.6 249.0 L1634.1 248.1 L1634.6 247.2 L1635.1 246.3 L1635.6 245.4 L1636.0 244.5 L1636.5 243.6 L1637.0 242.7 L1637.4 241.8 L1637.9 240.9 L1638.3 240.0 L1638.8 239.0 L1639.2 238.1 L1639.6 237.2 L1640.1 236.3 L1640.5 235.4 L1640.9 234.5 L1641.3 233.6 L1641.8 232.7 L1642.2 231.7 L1642.6 230.8 L1643.0 229.9 L1643.4 229.0 L1643.8 228.1 L1644.2 227.2 L1644.6 226.3 L1645.0 225.3 L1645.4 224.4 L1645.7 223.5 L1646.1 222.6 L1646.5 221.7 L1646.9 220.7 L1647.3 219.8 L1647.6 218.9 L1648.0 218.0 L1648.4 217.1 L1648.7 216.1 L1649.1 215.2 L1649.4 214.3 L1649.8 213.3 L1650.1 212.4 L1650.5 211.5 L1650.8 210.6 L1651.2 209.6 L1651.5 208.7 L1651.9 207.8 L1652.2 206.8 L1652.6 205.9 L1652.9 204.9 L1653.2 204.0 L1653.5 203.1 L1653.9 202.1 L1654.2 201.2 L1654.5 200.2 L1654.8 199.3 L1655.1 198.4 L1655.4 197.5 L1655.7 196.5 L1655.9 195.6 L1656.2 194.7 L1656.4 193.8 L1656.6 192.9 L1656.9 191.9 L1657.1 190.9 L1657.3 189.9 L1657.6 188.9 L1657.9 187.8 L1658.2 186.6 L1658.5 185.4 L1658.8 184.2 L1659.3 183.1 L1659.7 182.2 L1660.3 181.5 L1660.9 181.3 L1661.7 181.5 L1662.5 182.1 L1663.2 182.9 L1663.8 183.8 L1664.4 184.7 L1664.8 185.7 L1665.2 186.6 L1665.6 187.6 L1666.1 188.5 L1666.5 189.4 L1667.1 190.3 L1667.7 191.2 L1668.4 192.0 L1669.1 192.8 L1669.8 193.6 L1670.6 194.4 L1671.3 195.2 L1672.1 196.0 L1672.8 196.8 L1673.5 197.6 L1674.2 198.5 L1674.7 199.3 L1675.3 200.2 L1675.7 201.1 L1676.1 202.0 L1676.4 203.0 L1676.7 203.9 L1677.0 204.9 L1677.3 205.9 L1677.5 206.8 L1677.7 207.8 L1678.0 208.8 L1678.2 209.7 L1678.5 210.7 L1678.8 211.6 L1679.1 212.6 L1679.5 213.5 L1679.9 214.4 L1680.4 215.3" fill="none" stroke="#ff3434" stroke-width="2.6" stroke-linejoin="round" clip-path="url(#ci)"/>
<rect x="1209.9" y="129.3" width="489" height="3" fill="#444"/>
<rect x="1209.9" y="129.3" width="5.5" height="250" fill="#a0a0a0"/>
<rect x="1695.2" y="129.3" width="3" height="250" fill="#555"/>
<rect x="1212" y="376.2" width="486" height="3" fill="#666"/>
<rect x="1273.2" y="132.3" width="2.2" height="4.5" fill="#555"/>
<rect x="1273.2" y="371.7" width="2.2" height="4.5" fill="#555"/>
<rect x="1423.7" y="132.3" width="2.2" height="4.5" fill="#555"/>
<rect x="1423.7" y="371.7" width="2.2" height="4.5" fill="#555"/>
<rect x="1511.8" y="132.3" width="2.2" height="4.5" fill="#555"/>
<rect x="1511.8" y="371.7" width="2.2" height="4.5" fill="#555"/>
<rect x="1574.2" y="132.3" width="2.2" height="4.5" fill="#555"/>
<rect x="1574.2" y="371.7" width="2.2" height="4.5" fill="#555"/>
<rect x="1622.7" y="132.3" width="2.2" height="4.5" fill="#555"/>
<rect x="1622.7" y="371.7" width="2.2" height="4.5" fill="#555"/>
<rect x="1662.3" y="132.3" width="2.2" height="4.5" fill="#555"/>
<rect x="1662.3" y="371.7" width="2.2" height="4.5" fill="#555"/>
<rect x="1215.4" y="212.0" width="4.5" height="2.2" fill="#666"/>
<rect x="1690.7" y="212.0" width="4.5" height="2.2" fill="#555"/>
<rect x="1215.4" y="294.4" width="4.5" height="2.2" fill="#666"/>
<rect x="1690.7" y="294.4" width="4.5" height="2.2" fill="#555"/>
<g transform="translate(0 144.80) scale(1 1.0600)"><text x="1167.46" y="0" font-size="36.0" font-family="'Liberation Sans', Arial, Helvetica, sans-serif" fill="#222">15</text><rect x="1169.00" y="-4.09" width="7.51" height="4.79" fill="#fff"/><rect x="1179.69" y="-4.09" width="7.23" height="4.79" fill="#fff"/></g>
<g transform="translate(0 227.13) scale(1 1.0600)"><text x="1187.48" y="0" font-size="36.0" font-family="'Liberation Sans', Arial, Helvetica, sans-serif" fill="#222">0</text></g>
<g transform="translate(0 309.47) scale(1 1.0600)"><text x="1155.47" y="0" font-size="36.0" font-family="'Liberation Sans', Arial, Helvetica, sans-serif" fill="#222">-15</text><rect x="1169.00" y="-4.09" width="7.51" height="4.79" fill="#fff"/><rect x="1179.69" y="-4.09" width="7.23" height="4.79" fill="#fff"/></g>
<g transform="translate(0 391.81) scale(1 1.0600)"><text x="1155.47" y="0" font-size="36.0" font-family="'Liberation Sans', Arial, Helvetica, sans-serif" fill="#222">-30</text></g>
<g transform="translate(0 415.50) scale(1 1.0600)"><text x="1254.78" y="0" font-size="36.0" font-family="'Liberation Sans', Arial, Helvetica, sans-serif" fill="#222">10</text><rect x="1256.32" y="-4.09" width="7.51" height="4.79" fill="#fff"/><rect x="1267.01" y="-4.09" width="7.23" height="4.79" fill="#fff"/></g>
<g transform="translate(0 415.50) scale(1 1.0600)"><text x="1493.34" y="0" font-size="36.0" font-family="'Liberation Sans', Arial, Helvetica, sans-serif" fill="#222">30</text></g>
<g transform="translate(0 415.50) scale(1 1.0600)"><text x="1604.26" y="0" font-size="36.0" font-family="'Liberation Sans', Arial, Helvetica, sans-serif" fill="#222">50</text></g>
<g transform="translate(0 415.50) scale(1 1.0600)"><text x="1677.33" y="0" font-size="36.0" font-family="'Liberation Sans', Arial, Helvetica, sans-serif" fill="#222">70</text></g>
<g transform="translate(0 455.00) scale(1 1.0700)"><text x="1292.85" y="0" font-size="41.9" font-family="'Liberation Sans', Arial, Helvetica, sans-serif" fill="#222">Frequency (GHz)</text></g>
<g transform="translate(1122.30 342.00) rotate(-90)"><text x="0" y="0" font-size="42.2" font-family="'Liberation Sans', Arial, Helvetica, sans-serif" fill="#222">|h<tspan font-size="34.0" dy="20.30">21</tspan><tspan dy="-20.30">| (dB)</tspan></text><rect x="54.73" y="16.36" width="7.16" height="4.64" fill="#fff"/><rect x="64.90" y="16.36" width="6.89" height="4.64" fill="#fff"/></g></svg>
</body></html>
